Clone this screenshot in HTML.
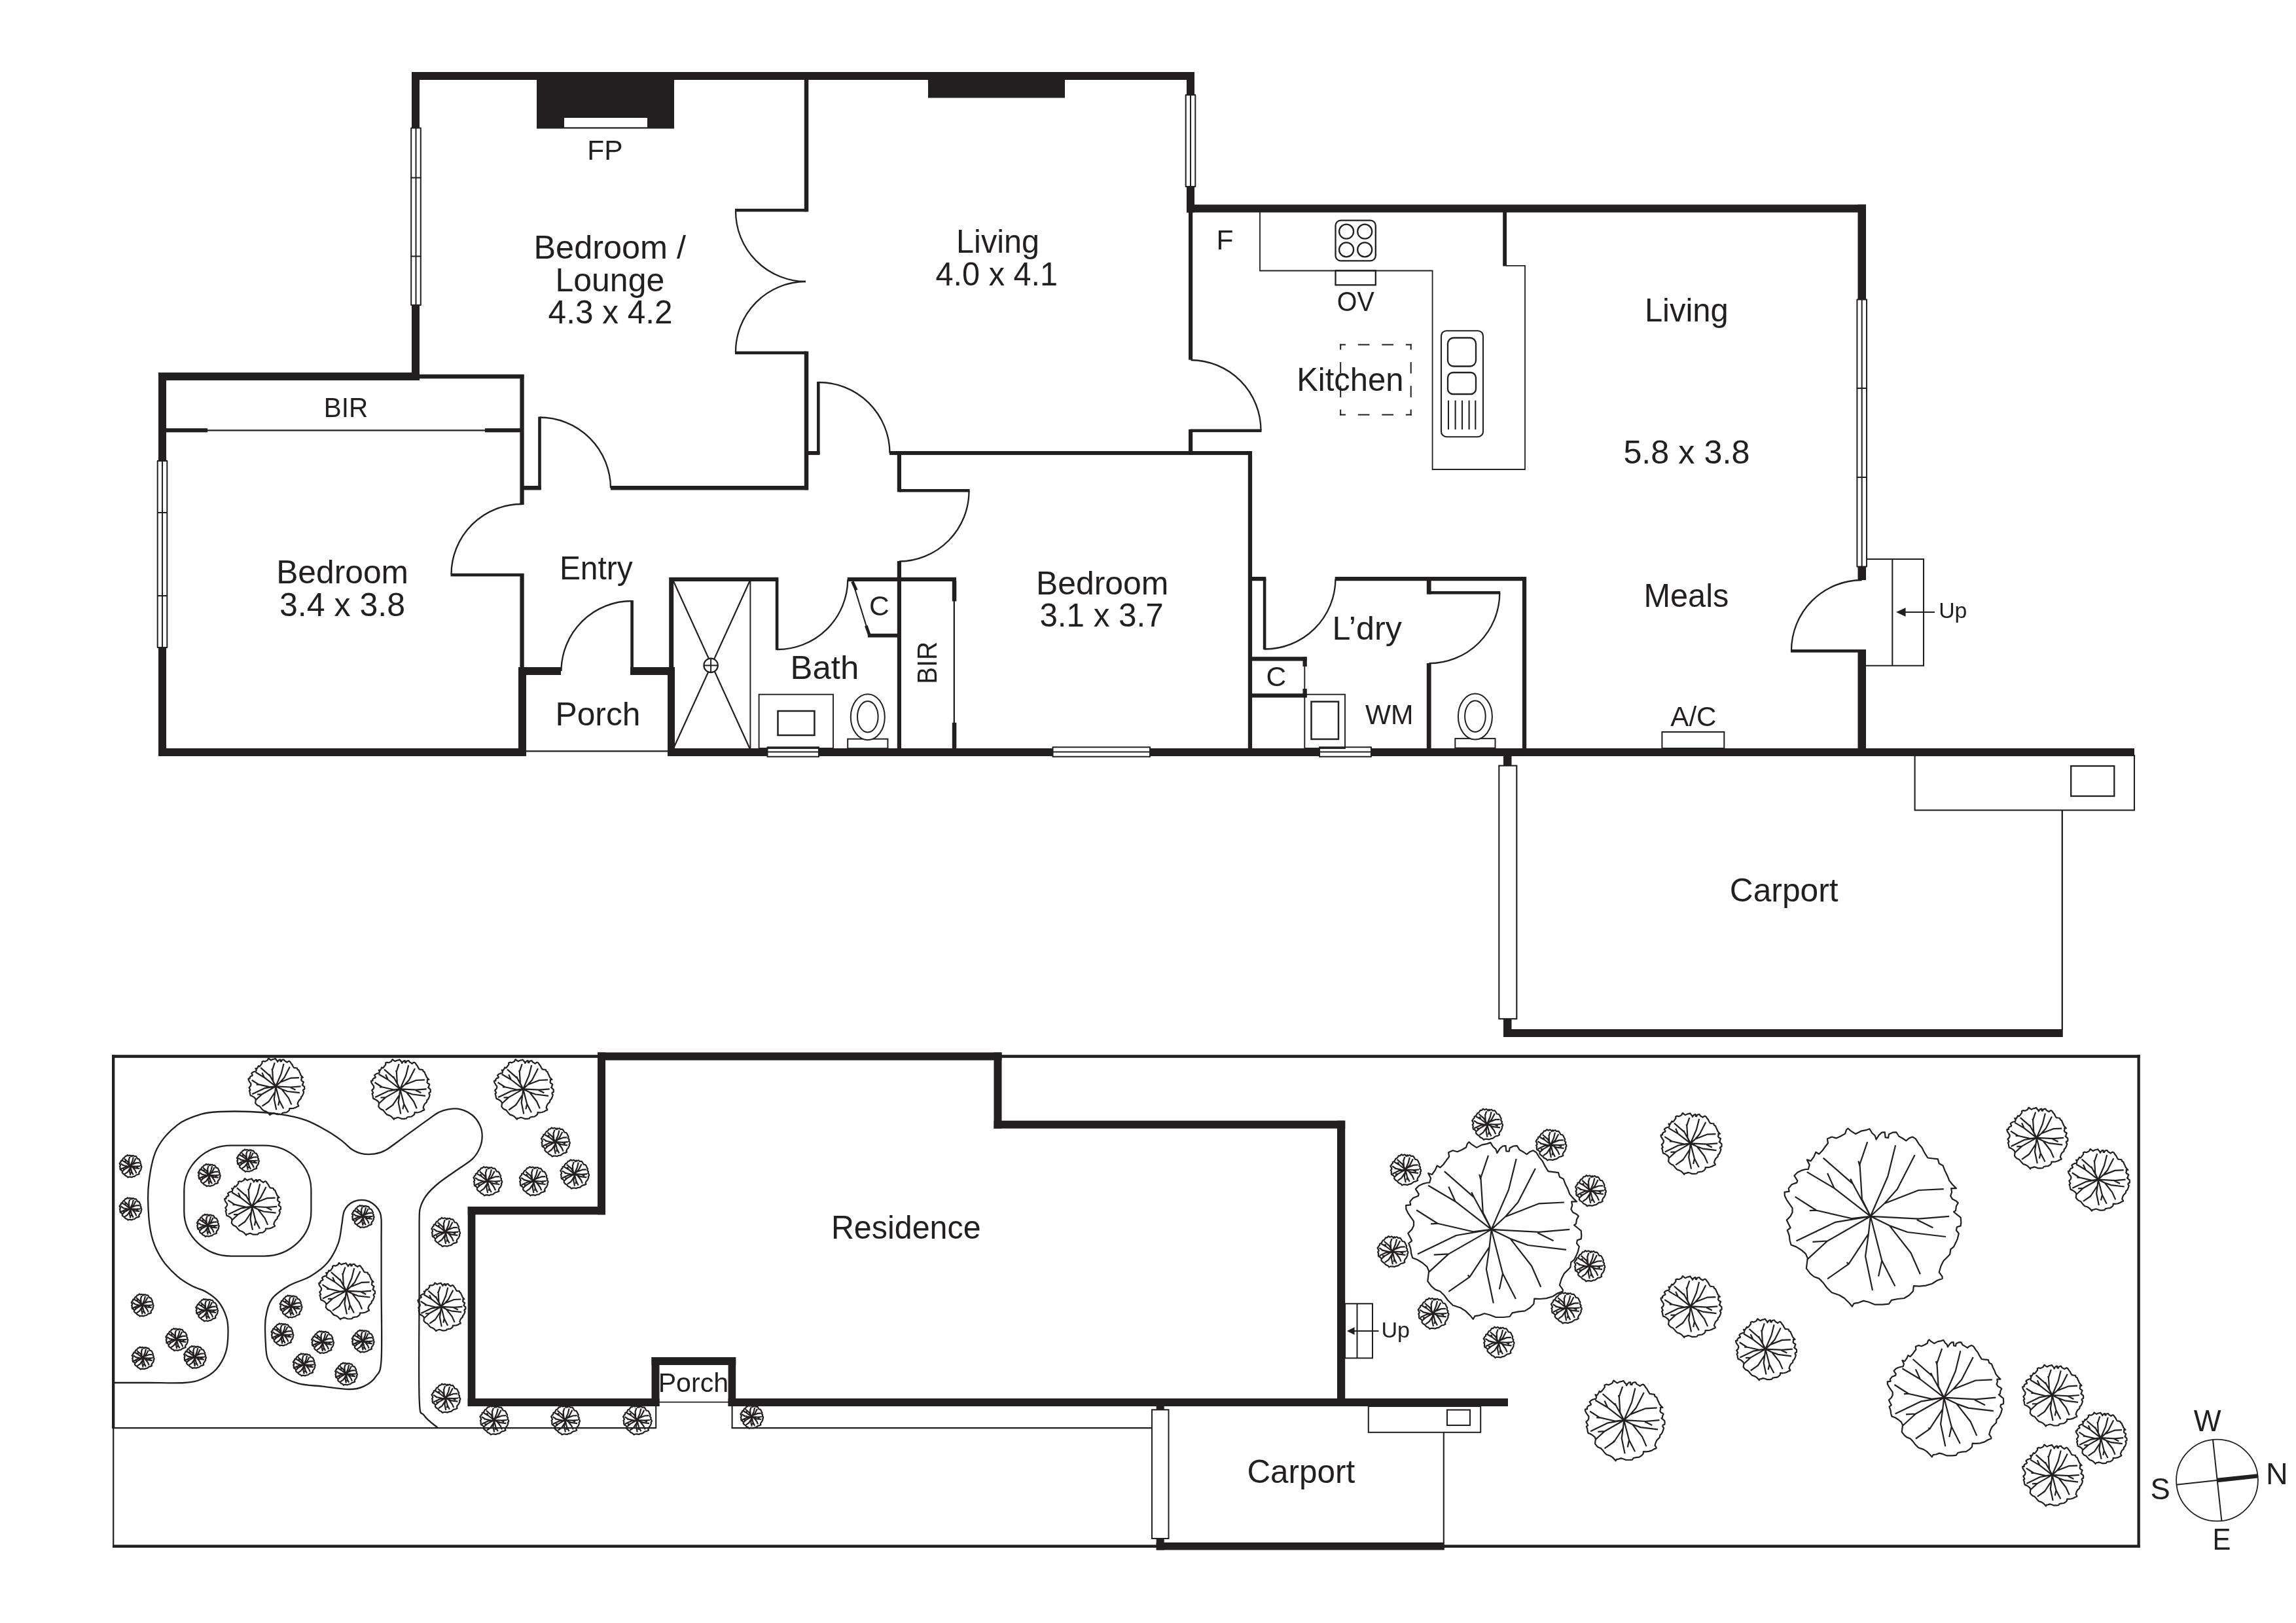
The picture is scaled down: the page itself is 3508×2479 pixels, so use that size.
<!DOCTYPE html>
<html><head><meta charset="utf-8"><title>Floor plan</title>
<style>
html,body{margin:0;padding:0;background:#fff;}
body{width:3508px;height:2479px;overflow:hidden;}
svg{display:block;}
text{font-family:"Liberation Sans",sans-serif;fill:#231f20;}
</style></head><body>
<svg width="3508" height="2479" viewBox="0 0 3508 2479">
<rect width="3508" height="2479" fill="#fff"/>
<rect x="629" y="110" width="1196" height="12" fill="#231f20"/>
<rect x="629" y="110" width="12" height="471" fill="#231f20"/>
<rect x="242" y="569" width="399" height="12" fill="#231f20"/>
<rect x="242" y="569" width="12" height="586" fill="#231f20"/>
<rect x="242" y="1143" width="562" height="12" fill="#231f20"/>
<rect x="792" y="1019" width="12" height="136" fill="#231f20"/>
<rect x="792" y="1019" width="65" height="12" fill="#231f20"/>
<rect x="963" y="1019" width="68" height="12" fill="#231f20"/>
<rect x="1020" y="1019" width="11" height="136" fill="#231f20"/>
<rect x="1020" y="1143" width="2241" height="12" fill="#231f20"/>
<rect x="1813" y="110" width="12" height="214.5" fill="#231f20"/>
<rect x="1813" y="312.5" width="1038" height="12" fill="#231f20"/>
<rect x="2838.5" y="312.5" width="12.5" height="573.5" fill="#231f20"/>
<rect x="2838.5" y="992" width="12.5" height="163" fill="#231f20"/>
<rect x="820" y="122" width="210" height="74.5" fill="#231f20"/>
<rect x="862" y="180" width="127" height="14.3" fill="#fff"/>
<rect x="1418" y="122" width="209" height="27.5" fill="#231f20"/>
<rect x="627.5" y="195.5" width="16" height="270.5" fill="#fff"/>
<line x1="628.2" y1="195.5" x2="628.2" y2="466" stroke="#231f20" stroke-width="2"/>
<line x1="635.5" y1="195.5" x2="635.5" y2="466" stroke="#231f20" stroke-width="2"/>
<line x1="642.8" y1="195.5" x2="642.8" y2="466" stroke="#231f20" stroke-width="2"/>
<line x1="627.5" y1="195.5" x2="643.5" y2="195.5" stroke="#231f20" stroke-width="2"/>
<line x1="627.5" y1="466" x2="643.5" y2="466" stroke="#231f20" stroke-width="2"/>
<line x1="627.5" y1="271.5" x2="643.5" y2="271.5" stroke="#231f20" stroke-width="2"/>
<line x1="627.5" y1="391.5" x2="643.5" y2="391.5" stroke="#231f20" stroke-width="2"/>
<rect x="240" y="704" width="16" height="285" fill="#fff"/>
<line x1="240.7" y1="704" x2="240.7" y2="989" stroke="#231f20" stroke-width="2"/>
<line x1="248" y1="704" x2="248" y2="989" stroke="#231f20" stroke-width="2"/>
<line x1="255.3" y1="704" x2="255.3" y2="989" stroke="#231f20" stroke-width="2"/>
<line x1="240" y1="704" x2="256" y2="704" stroke="#231f20" stroke-width="2"/>
<line x1="240" y1="989" x2="256" y2="989" stroke="#231f20" stroke-width="2"/>
<line x1="240" y1="783" x2="256" y2="783" stroke="#231f20" stroke-width="2"/>
<line x1="240" y1="910" x2="256" y2="910" stroke="#231f20" stroke-width="2"/>
<rect x="1811" y="145" width="16" height="140" fill="#fff"/>
<line x1="1811.7" y1="145" x2="1811.7" y2="285" stroke="#231f20" stroke-width="2"/>
<line x1="1819" y1="145" x2="1819" y2="285" stroke="#231f20" stroke-width="2"/>
<line x1="1826.3" y1="145" x2="1826.3" y2="285" stroke="#231f20" stroke-width="2"/>
<line x1="1811" y1="145" x2="1827" y2="145" stroke="#231f20" stroke-width="2"/>
<line x1="1811" y1="285" x2="1827" y2="285" stroke="#231f20" stroke-width="2"/>
<rect x="2836.7" y="457.5" width="16" height="408" fill="#fff"/>
<line x1="2837.4" y1="457.5" x2="2837.4" y2="865.5" stroke="#231f20" stroke-width="2"/>
<line x1="2844.7" y1="457.5" x2="2844.7" y2="865.5" stroke="#231f20" stroke-width="2"/>
<line x1="2852" y1="457.5" x2="2852" y2="865.5" stroke="#231f20" stroke-width="2"/>
<line x1="2836.7" y1="457.5" x2="2852.7" y2="457.5" stroke="#231f20" stroke-width="2"/>
<line x1="2836.7" y1="865.5" x2="2852.7" y2="865.5" stroke="#231f20" stroke-width="2"/>
<line x1="2836.7" y1="593" x2="2852.7" y2="593" stroke="#231f20" stroke-width="2"/>
<line x1="2836.7" y1="729" x2="2852.7" y2="729" stroke="#231f20" stroke-width="2"/>
<rect x="1172.5" y="1140.5" width="78.5" height="16" fill="#fff"/>
<line x1="1172.5" y1="1141.2" x2="1251" y2="1141.2" stroke="#231f20" stroke-width="2"/>
<line x1="1172.5" y1="1148.5" x2="1251" y2="1148.5" stroke="#231f20" stroke-width="2"/>
<line x1="1172.5" y1="1155.8" x2="1251" y2="1155.8" stroke="#231f20" stroke-width="2"/>
<line x1="1172.5" y1="1140.5" x2="1172.5" y2="1156.5" stroke="#231f20" stroke-width="2"/>
<line x1="1251" y1="1140.5" x2="1251" y2="1156.5" stroke="#231f20" stroke-width="2"/>
<rect x="1608.5" y="1140.5" width="148.5" height="16" fill="#fff"/>
<line x1="1608.5" y1="1141.2" x2="1757" y2="1141.2" stroke="#231f20" stroke-width="2"/>
<line x1="1608.5" y1="1148.5" x2="1757" y2="1148.5" stroke="#231f20" stroke-width="2"/>
<line x1="1608.5" y1="1155.8" x2="1757" y2="1155.8" stroke="#231f20" stroke-width="2"/>
<line x1="1608.5" y1="1140.5" x2="1608.5" y2="1156.5" stroke="#231f20" stroke-width="2"/>
<line x1="1757" y1="1140.5" x2="1757" y2="1156.5" stroke="#231f20" stroke-width="2"/>
<rect x="2016" y="1140.5" width="79" height="16" fill="#fff"/>
<line x1="2016" y1="1141.2" x2="2095" y2="1141.2" stroke="#231f20" stroke-width="2"/>
<line x1="2016" y1="1148.5" x2="2095" y2="1148.5" stroke="#231f20" stroke-width="2"/>
<line x1="2016" y1="1155.8" x2="2095" y2="1155.8" stroke="#231f20" stroke-width="2"/>
<line x1="2016" y1="1140.5" x2="2016" y2="1156.5" stroke="#231f20" stroke-width="2"/>
<line x1="2095" y1="1140.5" x2="2095" y2="1156.5" stroke="#231f20" stroke-width="2"/>
<line x1="804" y1="1147.4" x2="1020" y2="1147.4" stroke="#231f20" stroke-width="2.3"/>
<rect x="1228.8" y="122" width="6.5" height="201.4" fill="#231f20"/>
<rect x="1228.8" y="536.6" width="6.5" height="211.7" fill="#231f20"/>
<rect x="641" y="571.8" width="159.4" height="6.5" fill="#231f20"/>
<rect x="794.4" y="572" width="6.3" height="199" fill="#231f20"/>
<rect x="794.4" y="876" width="6.3" height="144" fill="#231f20"/>
<rect x="254" y="654.2" width="63" height="6.1" fill="#231f20"/>
<rect x="741" y="654.2" width="54" height="6.1" fill="#231f20"/>
<line x1="317" y1="657.3" x2="741" y2="657.3" stroke="#231f20" stroke-width="2.3"/>
<rect x="800" y="742" width="26.7" height="6.5" fill="#231f20"/>
<rect x="933" y="742" width="302" height="6.5" fill="#231f20"/>
<rect x="1235" y="689" width="17.5" height="5.9" fill="#231f20"/>
<rect x="1359" y="689" width="553.8" height="5.9" fill="#231f20"/>
<rect x="1370.8" y="689.2" width="6.2" height="62.3" fill="#231f20"/>
<rect x="1370.8" y="857" width="6.2" height="286" fill="#231f20"/>
<rect x="1906.8" y="689.2" width="6.3" height="453.8" fill="#231f20"/>
<rect x="1816" y="324" width="6.2" height="225.6" fill="#231f20"/>
<rect x="1816" y="655.8" width="6.2" height="38.8" fill="#231f20"/>
<rect x="1023" y="881.8" width="166.4" height="6.2" fill="#231f20"/>
<rect x="1294.7" y="881.8" width="166.3" height="6.2" fill="#231f20"/>
<rect x="1022.2" y="882" width="7" height="138" fill="#231f20"/>
<line x1="1146.4" y1="887" x2="1146.4" y2="1143" stroke="#231f20" stroke-width="2"/>
<rect x="1325.8" y="967.8" width="45.5" height="5.8" fill="#231f20"/>
<rect x="1454.8" y="887" width="6.5" height="31.4" fill="#231f20"/>
<rect x="1454.8" y="1103.8" width="6.5" height="39.2" fill="#231f20"/>
<line x1="1457.8" y1="918" x2="1457.8" y2="1104" stroke="#231f20" stroke-width="2.3"/>
<rect x="1912" y="881" width="22.3" height="6.2" fill="#231f20"/>
<rect x="2039.7" y="881" width="292.3" height="6.2" fill="#231f20"/>
<rect x="2179.8" y="881.3" width="6.8" height="26.4" fill="#231f20"/>
<rect x="2179.8" y="1013" width="6.8" height="130" fill="#231f20"/>
<rect x="2325.9" y="881.3" width="6.3" height="261.7" fill="#231f20"/>
<rect x="1912" y="1003.2" width="84.6" height="6.3" fill="#231f20"/>
<rect x="1912" y="1059.3" width="84.6" height="6.2" fill="#231f20"/>
<rect x="1990.5" y="1003.5" width="6.3" height="14.5" fill="#231f20"/>
<rect x="1990.5" y="1052" width="6.3" height="13.3" fill="#231f20"/>
<line x1="1993.3" y1="1018" x2="1993.3" y2="1052" stroke="#231f20" stroke-width="1.9"/>
<rect x="2296.2" y="324" width="5.8" height="82.5" fill="#231f20"/>
<rect x="1123" y="318.8" width="109" height="4.6" fill="#231f20"/>
<rect x="1123" y="536.6" width="109" height="4.6" fill="#231f20"/>
<path d="M1124 322 A107.5 107.5 0 0 0 1231 430" fill="none" stroke="#231f20" stroke-width="2.3"/>
<path d="M1124 538 A107.5 107.5 0 0 1 1231 430" fill="none" stroke="#231f20" stroke-width="2.3"/>
<rect x="688.5" y="875.8" width="111.5" height="4.6" fill="#231f20"/>
<path d="M689.5 877 A107.5 107.5 0 0 1 797.5 770" fill="none" stroke="#231f20" stroke-width="2.3"/>
<rect x="963.3" y="917" width="4.6" height="103" fill="#231f20"/>
<path d="M965.5 918 A107.5 107.5 0 0 0 857.5 1025" fill="none" stroke="#231f20" stroke-width="2.3"/>
<rect x="822.2" y="636.5" width="4.6" height="111.5" fill="#231f20"/>
<path d="M824.5 637.5 A108.5 108.5 0 0 1 933 745.5" fill="none" stroke="#231f20" stroke-width="2.3"/>
<rect x="1248" y="583" width="4.6" height="111" fill="#231f20"/>
<path d="M1250.3 584 A108.5 108.5 0 0 1 1359.5 692" fill="none" stroke="#231f20" stroke-width="2.3"/>
<rect x="1374" y="747" width="107.5" height="4.6" fill="#231f20"/>
<path d="M1480.5 749.5 A107.5 107.5 0 0 1 1374 857.5" fill="none" stroke="#231f20" stroke-width="2.3"/>
<rect x="1184.8" y="887" width="4.6" height="105.8" fill="#231f20"/>
<path d="M1187 992 A107.5 107.5 0 0 0 1295.3 885.3" fill="none" stroke="#231f20" stroke-width="2.3"/>
<rect x="1819" y="655.5" width="108.5" height="4.6" fill="#231f20"/>
<path d="M1926.5 657.5 A107.5 107.5 0 0 0 1819.5 550" fill="none" stroke="#231f20" stroke-width="2.3"/>
<rect x="1929.8" y="884" width="4.6" height="108.2" fill="#231f20"/>
<path d="M1932 991.5 A108 108 0 0 0 2040.5 884.5" fill="none" stroke="#231f20" stroke-width="2.3"/>
<rect x="2183" y="903" width="109.2" height="4.6" fill="#231f20"/>
<path d="M2291.3 905.5 A107.8 107.8 0 0 1 2183.4 1013.2" fill="none" stroke="#231f20" stroke-width="2.3"/>
<rect x="2736" y="992" width="109" height="4.6" fill="#231f20"/>
<path d="M2737 993.8 A107.8 107.8 0 0 1 2844.7 886" fill="none" stroke="#231f20" stroke-width="2.3"/>
<line x1="1302.8" y1="888.7" x2="1328.2" y2="971" stroke="#231f20" stroke-width="2.1"/>
<line x1="1302.3" y1="888.3" x2="1308.5" y2="901.4" stroke="#231f20" stroke-width="4.6"/>
<line x1="1323.3" y1="955.8" x2="1328.4" y2="970" stroke="#231f20" stroke-width="4.6"/>
<line x1="1029" y1="887.7" x2="1145.4" y2="1143" stroke="#231f20" stroke-width="2.2"/>
<line x1="1145.4" y1="887.7" x2="1029" y2="1143" stroke="#231f20" stroke-width="2.2"/>
<circle cx="1086.1" cy="1016.4" r="10.7" fill="#fff" stroke="#231f20" stroke-width="2.2"/>
<line x1="1076" y1="1016.4" x2="1096.2" y2="1016.4" stroke="#231f20" stroke-width="2"/>
<line x1="1086.1" y1="1006.3" x2="1086.1" y2="1026.5" stroke="#231f20" stroke-width="2"/>
<rect x="1159.6" y="1060.7" width="113.4" height="82.3" rx="0" fill="none" stroke="#231f20" stroke-width="1.9"/>
<rect x="1188.5" y="1086" width="55.9" height="37" rx="0" fill="none" stroke="#231f20" stroke-width="2.5"/>
<rect x="1295.2" y="1128.7" width="61.2" height="14.5" rx="0" fill="none" stroke="#231f20" stroke-width="2"/>
<ellipse cx="1325.8" cy="1095.2" rx="26" ry="35" fill="#fff" stroke="#231f20" stroke-width="2"/>
<ellipse cx="1325.8" cy="1094.7" rx="15.8" ry="23.8" fill="none" stroke="#231f20" stroke-width="2"/>
<rect x="2223.3" y="1128.1" width="61.2" height="14.5" rx="0" fill="none" stroke="#231f20" stroke-width="2"/>
<ellipse cx="2253.9" cy="1094.6" rx="26" ry="35" fill="#fff" stroke="#231f20" stroke-width="2"/>
<ellipse cx="2253.9" cy="1094.1" rx="15.8" ry="23.8" fill="none" stroke="#231f20" stroke-width="2"/>
<rect x="1993.3" y="1060.7" width="61.7" height="82.3" rx="0" fill="none" stroke="#231f20" stroke-width="1.9"/>
<rect x="2003.5" y="1071.7" width="41.5" height="57.3" rx="0" fill="none" stroke="#231f20" stroke-width="2.5"/>
<rect x="2539.4" y="1118" width="94.9" height="25" rx="0" fill="none" stroke="#231f20" stroke-width="2"/>
<path d="M1925 324 L1925 413.5 L2188.6 413.5 L2188.6 717 L2330 717 L2330 405.8 L2301 405.8" fill="none" stroke="#231f20" stroke-width="1.8"/>
<rect x="2040.5" y="336.7" width="61.3" height="61.7" rx="8" fill="none" stroke="#231f20" stroke-width="2.3"/>
<circle cx="2057.1" cy="353.7" r="11" fill="none" stroke="#231f20" stroke-width="2.3"/>
<circle cx="2057.1" cy="381.4" r="11" fill="none" stroke="#231f20" stroke-width="2.3"/>
<circle cx="2085.2" cy="353.7" r="11" fill="none" stroke="#231f20" stroke-width="2.3"/>
<circle cx="2085.2" cy="381.4" r="11" fill="none" stroke="#231f20" stroke-width="2.3"/>
<rect x="2040.5" y="413.3" width="61.3" height="22" rx="0" fill="none" stroke="#231f20" stroke-width="2.3"/>
<rect x="2202" y="505.2" width="64" height="162" rx="8" fill="none" stroke="#231f20" stroke-width="2.1"/>
<rect x="2212" y="516" width="43" height="43.5" rx="9" fill="none" stroke="#231f20" stroke-width="2.3"/>
<rect x="2212" y="569" width="43" height="33" rx="8" fill="none" stroke="#231f20" stroke-width="2.3"/>
<line x1="2213" y1="611.6" x2="2213" y2="656" stroke="#231f20" stroke-width="2.1"/>
<line x1="2223.6" y1="611.6" x2="2223.6" y2="656" stroke="#231f20" stroke-width="2.1"/>
<line x1="2234" y1="611.6" x2="2234" y2="656" stroke="#231f20" stroke-width="2.1"/>
<line x1="2244.6" y1="611.6" x2="2244.6" y2="656" stroke="#231f20" stroke-width="2.1"/>
<line x1="2254.3" y1="611.6" x2="2254.3" y2="656" stroke="#231f20" stroke-width="2.1"/>
<line x1="2047.2" y1="526.5" x2="2156.7" y2="526.5" stroke="#231f20" stroke-width="2" stroke-dasharray="17.7 18.8" stroke-dashoffset="8.9"/>
<line x1="2047.2" y1="633.5" x2="2156.7" y2="633.5" stroke="#231f20" stroke-width="2" stroke-dasharray="17.7 18.8" stroke-dashoffset="8.9"/>
<line x1="2048.2" y1="525.5" x2="2048.2" y2="634.5" stroke="#231f20" stroke-width="2" stroke-dasharray="17.6 18.7" stroke-dashoffset="8.8"/>
<line x1="2155.7" y1="525.5" x2="2155.7" y2="634.5" stroke="#231f20" stroke-width="2" stroke-dasharray="17.6 18.7" stroke-dashoffset="8.8"/>
<path d="M2851.5 854 L2939 854 L2939 1016.8 L2850.5 1016.8" fill="none" stroke="#231f20" stroke-width="2.1"/>
<line x1="2891.3" y1="854" x2="2891.3" y2="1016.8" stroke="#231f20" stroke-width="2.1"/>
<line x1="2911" y1="935" x2="2956" y2="935" stroke="#231f20" stroke-width="2.1"/>
<path d="M2897.2 935 L2911.5 928.2 L2911.5 941.8 Z" fill="#231f20" stroke="#231f20" stroke-width="0.1"/>
<rect x="2297" y="1154" width="12.5" height="16" fill="#231f20"/>
<rect x="2297" y="1556" width="12.5" height="28" fill="#231f20"/>
<rect x="2290.3" y="1169.5" width="27" height="386.7" rx="0" fill="#fff" stroke="#231f20" stroke-width="2.1"/>
<rect x="2297" y="1572" width="854.8" height="12" fill="#231f20"/>
<line x1="3150.8" y1="1237.5" x2="3150.8" y2="1573" stroke="#231f20" stroke-width="2.3"/>
<rect x="2925.6" y="1154" width="335.4" height="83.5" rx="0" fill="none" stroke="#231f20" stroke-width="2.1"/>
<rect x="3164.2" y="1170" width="66.1" height="46" rx="0" fill="none" stroke="#231f20" stroke-width="2.3"/>
<rect x="171" y="1611.2" width="3098.8" height="4.6" fill="#231f20"/>
<rect x="3265.5" y="1611.2" width="4.3" height="752.8" fill="#231f20"/>
<rect x="172" y="2359.5" width="3097.8" height="4.5" fill="#231f20"/>
<rect x="171" y="1611.2" width="4.3" height="570.8" fill="#231f20"/>
<line x1="173.2" y1="2182" x2="173.2" y2="2362" stroke="#231f20" stroke-width="2.2"/>
<line x1="172" y1="2181.2" x2="1002.2" y2="2181.2" stroke="#231f20" stroke-width="2.2"/>
<line x1="1002.2" y1="2147" x2="1002.2" y2="2181.9" stroke="#231f20" stroke-width="2.1"/>
<line x1="1118.6" y1="2147" x2="1118.6" y2="2181.9" stroke="#231f20" stroke-width="2.1"/>
<line x1="1117.7" y1="2181.2" x2="1760" y2="2181.2" stroke="#231f20" stroke-width="2.2"/>
<line x1="1007" y1="2141.6" x2="1113" y2="2141.6" stroke="#231f20" stroke-width="1.9"/>
<rect x="913" y="1607.5" width="617.5" height="12" fill="#231f20"/>
<rect x="913" y="1607.5" width="12" height="247.8" fill="#231f20"/>
<rect x="714.7" y="1843" width="210.3" height="12.3" fill="#231f20"/>
<rect x="714.7" y="1843" width="11.7" height="305" fill="#231f20"/>
<rect x="714.7" y="2136" width="292.8" height="12" fill="#231f20"/>
<rect x="995.5" y="2073" width="12" height="75" fill="#231f20"/>
<rect x="995.5" y="2073" width="128.7" height="12" fill="#231f20"/>
<rect x="1112.6" y="2073" width="11.6" height="75" fill="#231f20"/>
<rect x="1112.6" y="2136" width="1191.4" height="12" fill="#231f20"/>
<rect x="1518.5" y="1607.5" width="12" height="116.2" fill="#231f20"/>
<rect x="1518.5" y="1711.7" width="536.7" height="12" fill="#231f20"/>
<rect x="2043" y="1711.7" width="12.2" height="436.3" fill="#231f20"/>
<rect x="2055" y="1991.3" width="42" height="83.1" rx="0" fill="none" stroke="#231f20" stroke-width="2"/>
<line x1="2073.5" y1="1991.3" x2="2073.5" y2="2074.4" stroke="#231f20" stroke-width="2"/>
<line x1="2066" y1="2033" x2="2106.5" y2="2033" stroke="#231f20" stroke-width="2"/>
<path d="M2058 2033 L2069.5 2027.2 L2069.5 2038.8 Z" fill="#231f20" stroke="#231f20" stroke-width="0.1"/>
<rect x="1766.7" y="2147" width="12" height="7" fill="#231f20"/>
<rect x="1760" y="2153.3" width="25.5" height="196.7" rx="0" fill="#fff" stroke="#231f20" stroke-width="2"/>
<rect x="1766.7" y="2349.5" width="12" height="18" fill="#231f20"/>
<rect x="1766.7" y="2356" width="440.1" height="11.5" fill="#231f20"/>
<line x1="2205.8" y1="2187.8" x2="2205.8" y2="2357" stroke="#231f20" stroke-width="2.1"/>
<rect x="2090.8" y="2148" width="171.4" height="39.8" rx="0" fill="none" stroke="#231f20" stroke-width="2"/>
<rect x="2211" y="2153.5" width="35" height="23.5" rx="0" fill="none" stroke="#231f20" stroke-width="2.1"/>
<circle cx="3387.5" cy="2261" r="62.4" fill="none" stroke="#231f20" stroke-width="1.8"/>
<line x1="3325.7" y1="2267.7" x2="3449.7" y2="2254.3" stroke="#231f20" stroke-width="2"/>
<line x1="3381" y1="2199" x2="3394.4" y2="2323" stroke="#231f20" stroke-width="2"/>
<line x1="3387.7" y1="2261" x2="3449.7" y2="2254.3" stroke="#231f20" stroke-width="6.3"/>
<path d="M174 2112 C182.8 2112 208.6 2112 226.5 2112 C244.5 2112 268.4 2112.9 282 2112 C295.6 2111.1 299.9 2109.9 307.9 2106.5 C315.9 2103.1 323.9 2098.5 330.1 2091.7 C336.2 2084.9 341.8 2075 344.8 2065.8 C347.9 2056.6 348.4 2045.2 348.5 2036.2 C348.7 2027.3 348.4 2020.2 346 2012.2 C343.5 2004.2 338.9 1994.6 333.8 1988.2 C328.6 1981.7 322 1977.4 315.3 1973.4 C308.5 1969.4 300.5 1968.1 293.1 1964.1 C285.7 1960.1 278.3 1955.8 270.9 1949.4 C263.5 1942.9 254.9 1934.3 248.7 1925.3 C242.6 1916.4 237.5 1906.8 233.9 1895.7 C230.4 1884.7 228.4 1873.6 227.3 1858.8 C226.2 1844 225.2 1824.3 227.3 1807 C229.3 1789.8 232.2 1770.1 239.5 1755.3 C246.8 1740.5 259.5 1727.2 270.9 1718.3 C282.3 1709.4 296.8 1705.1 307.9 1701.7 C319 1698.3 325.1 1698.6 337.4 1698 C349.8 1697.4 367 1697.4 381.8 1698 C396.6 1698.6 412 1699.5 426.2 1701.7 C440.3 1703.8 454.5 1706.6 466.8 1710.9 C479.2 1715.2 490.9 1722.3 500.1 1727.5 C509.4 1732.8 516.1 1737.7 522.3 1742.3 C528.5 1747 532.2 1752 537.1 1755.3 C542 1758.5 546.3 1760.7 551.9 1761.9 C557.4 1763.2 564.2 1763.5 570.4 1762.7 C576.5 1761.9 580.2 1762 588.8 1757.1 C597.5 1752.2 611 1741.1 622.1 1733.1 C633.2 1725.1 647.4 1714.7 655.4 1709.1 C663.4 1703.4 665.2 1701.5 670.2 1699.1 C675.1 1696.6 679.4 1695.1 685 1694.3 C690.5 1693.5 697.3 1692.7 703.4 1694.3 C709.6 1695.8 717 1699.5 721.9 1703.5 C726.9 1707.5 730.5 1713.1 733 1718.3 C735.5 1723.5 736.7 1729.1 736.7 1734.9 C736.7 1740.8 735.5 1747.6 733 1753.4 C730.5 1759.3 728.1 1764.2 721.9 1770.1 C715.8 1775.9 704.7 1782.4 696 1788.5 C687.4 1794.7 677.6 1800.9 670.2 1807 C662.8 1813.2 656.3 1819.3 651.7 1825.5 C647.1 1831.7 644.3 1837.2 642.4 1844 C640.6 1850.8 640.9 1845.2 640.6 1866.2 C640.3 1887.1 640.6 1924.7 640.6 1969.7 C640.6 2014.7 639.4 2104 640.6 2136 C641.8 2168.1 643.4 2154.5 648 2161.9 C652.6 2169.3 664.9 2177.3 668.3 2180.4" fill="none" stroke="#231f20" stroke-width="2.3"/>
<rect x="281.3" y="1749.7" width="194.1" height="168.9" rx="72" ry="68" fill="none" stroke="#231f20" stroke-width="2.3"/>
<path d="M552.6 1832.9 C556.5 1832.9 560.5 1833.6 564.1 1835.1 C567.6 1836.7 571.3 1839.4 574 1842.1 C576.8 1844.9 578.9 1848 580.3 1851.4 C581.7 1854.8 582.2 1855.1 582.6 1862.5 C582.9 1869.9 582.6 1877.9 582.6 1895.7 C582.6 1913.6 582.6 1939.5 582.6 1969.7 C582.6 1999.9 584 2054.7 582.6 2076.9 C581.1 2099.1 578.5 2096 574 2102.8 C569.6 2109.6 562.3 2114.4 555.6 2117.6 C548.8 2120.8 543.9 2122 533.4 2122 C522.9 2122 505.7 2119 492.7 2117.6 C479.8 2116.1 466.8 2116.2 455.7 2113.1 C444.7 2110 433.9 2105.1 426.2 2099.1 C418.5 2093 412.9 2084.9 409.5 2076.9 C406.1 2068.9 406.5 2061.5 405.8 2051 C405.2 2040.5 404.3 2025.1 405.8 2014 C407.4 2003 409.2 1992.8 415.1 1984.5 C420.9 1976.2 431.1 1970 441 1964.1 C450.8 1958.3 464.4 1955.2 474.2 1949.4 C484.1 1943.5 493 1937.3 500.1 1929 C507.2 1920.7 513 1909.3 516.7 1899.4 C520.4 1889.6 521.1 1876.6 522.3 1869.9 C523.5 1863.1 523.2 1862.2 523.8 1858.8 C524.4 1855.4 524.7 1852.4 526 1849.5 C527.3 1846.6 529.1 1843.8 531.5 1841.4 C534 1839 537.3 1836.5 540.8 1835.1 C544.3 1833.7 548.7 1832.9 552.6 1832.9 Z" fill="none" stroke="#231f20" stroke-width="2.3"/>
<path d="M2244.5 1744.4 L2248.8 1748.2 L2256.1 1752.9 L2264.2 1748.6 L2271.9 1747.1 L2277.3 1745.1 L2281.2 1751.5 L2285.5 1755.4 L2287.4 1761.2 L2291.6 1754.4 L2296.1 1750.5 L2300.5 1750.2 L2301.3 1758.3 L2305.7 1758.6 L2306.7 1753.4 L2312.5 1750.5 L2317.9 1750.2 L2321.7 1756.3 L2327.9 1759.8 L2332.7 1763.1 L2337.6 1759.2 L2342.4 1757.3 L2347.2 1760.2 L2352 1767.9 L2356.9 1773.7 L2360.7 1781.4 L2365.5 1789.1 L2373.3 1790.1 L2381 1791.1 L2382.9 1797.8 L2388.7 1800.7 L2391.6 1808.4 L2395.4 1816.1 L2398.3 1823.9 L2403.2 1829.7 L2409 1835.4 L2401.2 1835.4 L2402.2 1841.2 L2400.3 1847 L2403.2 1851.8 L2409 1854.7 L2411.8 1857.6 L2409 1862.5 L2408 1869.2 L2405.1 1871.1 L2410.9 1876 L2415.7 1879.8 L2416.3 1887.5 L2415.7 1892.4 L2409.9 1894.3 L2409 1899.1 L2412.8 1904 L2410.9 1911.7 L2409 1916.5 L2405.1 1924.2 L2400.3 1928.1 L2399.3 1935.8 L2394.5 1940.6 L2389.7 1945.4 L2385.8 1953.2 L2382.9 1962.8 L2387.7 1969.6 L2387.7 1972.5 L2380 1975.3 L2372.3 1980.2 L2362.6 1983.1 L2353 1984 L2344.3 1983.6 L2343.3 1991.8 L2337.6 1997.5 L2329.8 2002.4 L2320.2 2003.3 L2310.5 2005.3 L2306.7 2011 L2297 2012 L2285.5 2012 L2275.8 2008.2 L2268.1 2006.2 L2260.4 2009.1 L2253.6 2010.1 L2250.7 2014.9 L2246.9 2010.1 L2239.1 2002.4 L2231.4 1997.5 L2219.8 1993.7 L2212.1 1986 L2206.3 1978.2 L2200.5 1972.5 L2192.8 1969.6 L2187 1964.7 L2181.3 1957 L2182.2 1949.3 L2183.2 1941.6 L2180.3 1934.8 L2173.5 1929 L2165.8 1924.2 L2158.1 1921.3 L2156.2 1914.6 L2155.2 1906.8 L2152.3 1899.1 L2157.1 1895.3 L2154.2 1889.5 L2151.3 1883.7 L2157.1 1877.9 L2160 1872.1 L2160 1865.4 L2155.2 1858.6 L2151.3 1852.8 L2148.4 1847 L2148.1 1841.2 L2155.2 1840.3 L2154.2 1835.4 L2159.1 1829.7 L2166.8 1826.8 L2167.7 1823.9 L2162.9 1816.1 L2167.7 1811.3 L2173.5 1808.4 L2180.3 1806.5 L2184.1 1806.5 L2186.1 1799.7 L2182.2 1792 L2188 1794 L2192.8 1787.2 L2195.7 1780.5 L2200.5 1783.3 L2205.4 1778.5 L2210.2 1771.8 L2214.1 1766.9 L2213.1 1760.2 L2219.8 1757.3 L2226.6 1759.2 L2233.4 1756.3 L2240.1 1752.5 L2242 1746.7 Z M2278.7 1877.9 L2265.8 1852 L2262.4 1799 L2274 1764.9 M2262.4 1801.6 L2260.3 1793.8 M2278.7 1877.9 L2305.1 1817.1 L2316.7 1770 M2278.7 1877.9 L2299.9 1858.5 L2319.3 1836.5 L2345.9 1784.8 M2299.9 1858.5 L2351.6 1838.3 L2389.9 1836.5 M2278.7 1877.9 L2351.6 1881.8 L2398.2 1877.9 M2349.1 1883.1 L2373.6 1895.2 M2278.7 1877.9 L2307.7 1892.1 L2334.8 1902 L2393 1908.9 M2307.7 1892.1 L2340 1933.5 L2354.2 1965.8 M2278.7 1877.9 L2296 1945.2 L2315.9 1983.9 M2296 1945.2 L2290.9 1969.2 M2278.7 1877.9 L2275.3 1907.6 L2270.9 1938.7 L2281.8 1990.4 M2275.3 1905.1 L2245.6 1950.3 L2213.3 1972.8 M2245.6 1950.3 L2242.5 1947.7 M2278.7 1877.9 L2213.3 1915.4 L2182.2 1943.9 M2213.3 1915.4 L2190.8 1916.7 M2278.7 1877.9 L2224.9 1887 L2165.9 1915.4 M2278.7 1877.9 L2250.8 1881.3 L2196.4 1868.8 L2186.1 1869.4 M2196.4 1868.8 L2164.1 1848.2 M2278.7 1877.9 L2223.6 1835.2 L2182.2 1810.7 M2223.6 1835.2 L2213.3 1812.5 M2278.7 1877.9 L2252.1 1828.8 L2206.8 1789.2 M2252.1 1828.8 L2248.2 1821" fill="none" stroke="#231f20" stroke-width="2.2" stroke-linejoin="round"/>
<path d="M2823.5 1723.5 L2827.8 1727.4 L2835.2 1732 L2843.3 1727.7 L2851.1 1726.2 L2856.5 1724.2 L2860.4 1730.7 L2864.7 1734.5 L2866.6 1740.4 L2870.9 1733.6 L2875.4 1729.7 L2879.8 1729.3 L2880.6 1737.4 L2885.1 1737.8 L2886 1732.6 L2891.9 1729.7 L2897.3 1729.3 L2901.2 1735.5 L2907.4 1739 L2912.3 1742.3 L2917.1 1738.4 L2922 1736.5 L2926.8 1739.4 L2931.7 1747.2 L2936.5 1753 L2940.4 1760.7 L2945.3 1768.5 L2953 1769.5 L2960.8 1770.4 L2962.7 1777.2 L2968.5 1780.2 L2971.5 1787.9 L2975.3 1795.7 L2978.3 1803.4 L2983.1 1809.3 L2988.9 1815.1 L2981.2 1815.1 L2982.1 1820.9 L2980.2 1826.7 L2983.1 1831.6 L2988.9 1834.5 L2991.8 1837.4 L2988.9 1842.3 L2988 1849.1 L2985 1851 L2990.9 1855.9 L2995.7 1859.7 L2996.3 1867.5 L2995.7 1872.4 L2989.9 1874.3 L2988.9 1879.2 L2992.8 1884 L2990.9 1891.8 L2988.9 1896.6 L2985 1904.4 L2980.2 1908.3 L2979.2 1916 L2974.4 1920.9 L2969.5 1925.7 L2965.6 1933.5 L2962.7 1943.2 L2967.6 1950 L2967.6 1952.9 L2959.8 1955.8 L2952 1960.7 L2942.3 1963.6 L2932.6 1964.6 L2923.9 1964.2 L2922.9 1972.3 L2917.1 1978.2 L2909.3 1983 L2899.6 1984 L2889.9 1985.9 L2886 1991.7 L2876.3 1992.7 L2864.7 1992.7 L2855 1988.8 L2847.2 1986.9 L2839.5 1989.8 L2832.7 1990.8 L2829.8 1995.6 L2825.9 1990.8 L2818.1 1983 L2810.3 1978.2 L2798.7 1974.3 L2790.9 1966.5 L2785.1 1958.7 L2779.3 1952.9 L2771.5 1950 L2765.7 1945.2 L2759.9 1937.4 L2760.8 1929.6 L2761.8 1921.9 L2758.9 1915.1 L2752.1 1909.2 L2744.3 1904.4 L2736.6 1901.5 L2734.6 1894.7 L2733.7 1886.9 L2730.8 1879.2 L2735.6 1875.3 L2732.7 1869.4 L2729.8 1863.6 L2735.6 1857.8 L2738.5 1852 L2738.5 1845.2 L2733.7 1838.4 L2729.8 1832.6 L2726.9 1826.7 L2726.5 1820.9 L2733.7 1819.9 L2732.7 1815.1 L2737.5 1809.3 L2745.3 1806.4 L2746.3 1803.4 L2741.4 1795.7 L2746.3 1790.8 L2752.1 1787.9 L2758.9 1786 L2762.8 1786 L2764.7 1779.2 L2760.8 1771.4 L2766.7 1773.4 L2771.5 1766.6 L2774.4 1759.8 L2779.3 1762.7 L2784.1 1757.8 L2789 1751 L2792.9 1746.2 L2791.9 1739.4 L2798.7 1736.5 L2805.5 1738.4 L2812.3 1735.5 L2819.1 1731.6 L2821 1725.8 Z M2857.9 1857.8 L2844.9 1831.8 L2841.5 1778.4 L2853.2 1744.1 M2841.5 1781 L2839.4 1773.2 M2857.9 1857.8 L2884.4 1796.7 L2896.1 1749.3 M2857.9 1857.8 L2879.2 1838.3 L2898.8 1816.2 L2925.6 1764.1 M2879.2 1838.3 L2931.3 1818 L2969.8 1816.2 M2857.9 1857.8 L2931.3 1861.7 L2978.1 1857.8 M2928.7 1863 L2953.4 1875.2 M2857.9 1857.8 L2887 1872.1 L2914.4 1882 L2972.9 1889 M2887 1872.1 L2919.6 1913.7 L2933.9 1946.3 M2857.9 1857.8 L2875.3 1925.5 L2895.4 1964.5 M2875.3 1925.5 L2870.1 1949.6 M2857.9 1857.8 L2854.5 1887.7 L2850.1 1918.9 L2861 1971 M2854.5 1885.1 L2824.6 1930.7 L2792.1 1953.3 M2824.6 1930.7 L2821.5 1928.1 M2857.9 1857.8 L2792.1 1895.5 L2760.8 1924.1 M2792.1 1895.5 L2769.4 1896.8 M2857.9 1857.8 L2803.8 1866.9 L2744.5 1895.5 M2857.9 1857.8 L2829.8 1861.2 L2775.2 1848.7 L2764.8 1849.2 M2775.2 1848.7 L2742.6 1827.9 M2857.9 1857.8 L2802.5 1814.9 L2760.8 1790.1 M2802.5 1814.9 L2792.1 1792 M2857.9 1857.8 L2831.1 1808.4 L2785.6 1768.6 M2831.1 1808.4 L2827.2 1800.6" fill="none" stroke="#231f20" stroke-width="2.2" stroke-linejoin="round"/>
<path d="M2947.6 2046.3 L2950.4 2048.9 L2955.3 2052 L2960.6 2049.1 L2965.7 2048.1 L2969.3 2046.8 L2971.9 2051.1 L2974.7 2053.6 L2975.9 2057.4 L2978.8 2053 L2981.7 2050.4 L2984.6 2050.2 L2985.1 2055.5 L2988.1 2055.8 L2988.7 2052.3 L2992.5 2050.4 L2996.1 2050.2 L2998.7 2054.3 L3002.8 2056.6 L3006 2058.7 L3009.1 2056.2 L3012.3 2054.9 L3015.5 2056.8 L3018.7 2061.9 L3021.9 2065.7 L3024.5 2070.9 L3027.7 2076 L3032.8 2076.6 L3037.9 2077.2 L3039.2 2081.7 L3043 2083.6 L3044.9 2088.7 L3047.5 2093.8 L3049.4 2098.9 L3052.6 2102.8 L3056.4 2106.6 L3051.3 2106.6 L3051.9 2110.4 L3050.6 2114.3 L3052.6 2117.5 L3056.4 2119.4 L3058.3 2121.3 L3056.4 2124.5 L3055.8 2129 L3053.8 2130.2 L3057.7 2133.4 L3060.9 2136 L3061.2 2141.1 L3060.9 2144.3 L3057 2145.6 L3056.4 2148.7 L3058.9 2151.9 L3057.7 2157 L3056.4 2160.2 L3053.8 2165.3 L3050.6 2167.9 L3050 2173 L3046.8 2176.2 L3043.6 2179.4 L3041.1 2184.5 L3039.2 2190.9 L3042.3 2195.4 L3042.3 2197.3 L3037.2 2199.2 L3032.1 2202.4 L3025.7 2204.3 L3019.4 2204.9 L3013.6 2204.7 L3013 2210 L3009.1 2213.9 L3004 2217.1 L2997.7 2217.7 L2991.3 2219 L2988.7 2222.8 L2982.3 2223.4 L2974.7 2223.4 L2968.3 2220.9 L2963.2 2219.6 L2958.1 2221.5 L2953.6 2222.2 L2951.7 2225.4 L2949.1 2222.2 L2944 2217.1 L2938.9 2213.9 L2931.3 2211.3 L2926.1 2206.2 L2922.3 2201.1 L2918.5 2197.3 L2913.4 2195.4 L2909.5 2192.2 L2905.7 2187.1 L2906.4 2181.9 L2907 2176.8 L2905.1 2172.4 L2900.6 2168.5 L2895.5 2165.3 L2890.4 2163.4 L2889.1 2159 L2888.5 2153.9 L2886.6 2148.7 L2889.8 2146.2 L2887.8 2142.4 L2885.9 2138.5 L2889.8 2134.7 L2891.7 2130.9 L2891.7 2126.4 L2888.5 2121.9 L2885.9 2118.1 L2884 2114.3 L2883.8 2110.4 L2888.5 2109.8 L2887.8 2106.6 L2891 2102.8 L2896.1 2100.9 L2896.8 2098.9 L2893.6 2093.8 L2896.8 2090.6 L2900.6 2088.7 L2905.1 2087.5 L2907.6 2087.5 L2908.9 2083 L2906.4 2077.9 L2910.2 2079.2 L2913.4 2074.7 L2915.3 2070.2 L2918.5 2072.1 L2921.7 2068.9 L2924.9 2064.5 L2927.4 2061.3 L2926.8 2056.8 L2931.3 2054.9 L2935.7 2056.2 L2940.2 2054.3 L2944.7 2051.7 L2945.9 2047.9 Z M2970.2 2134.7 L2961.6 2117.6 L2959.4 2082.5 L2967.1 2059.9 M2959.4 2084.2 L2958 2079.1 M2970.2 2134.7 L2987.7 2094.5 L2995.4 2063.3 M2970.2 2134.7 L2984.2 2121.9 L2997.1 2107.3 L3014.7 2073.1 M2984.2 2121.9 L3018.5 2108.5 L3043.8 2107.3 M2970.2 2134.7 L3018.5 2137.3 L3049.3 2134.7 M3016.8 2138.1 L3033 2146.2 M2970.2 2134.7 L2989.4 2144.1 L3007.3 2150.6 L3045.8 2155.2 M2989.4 2144.1 L3010.8 2171.5 L3020.2 2192.9 M2970.2 2134.7 L2981.7 2179.2 L2994.8 2204.9 M2981.7 2179.2 L2978.2 2195.1 M2970.2 2134.7 L2968 2154.4 L2965.1 2174.9 L2972.3 2209.2 M2968 2152.7 L2948.3 2182.6 L2926.9 2197.5 M2948.3 2182.6 L2946.2 2180.9 M2970.2 2134.7 L2926.9 2159.5 L2906.4 2178.3 M2926.9 2159.5 L2912 2160.4 M2970.2 2134.7 L2934.6 2140.7 L2895.6 2159.5 M2970.2 2134.7 L2951.7 2136.9 L2915.8 2128.7 L2908.9 2129.1 M2915.8 2128.7 L2894.4 2115 M2970.2 2134.7 L2933.7 2106.5 L2906.4 2090.2 M2933.7 2106.5 L2926.9 2091.4 M2970.2 2134.7 L2952.6 2102.2 L2922.6 2076 M2952.6 2102.2 L2950 2097" fill="none" stroke="#231f20" stroke-width="2.2" stroke-linejoin="round"/>
<path d="M2465.7 2108.6 L2467.6 2110.4 L2471 2112.5 L2474.6 2110.6 L2478.1 2109.9 L2480.6 2109 L2482.3 2111.9 L2484.3 2113.6 L2485.1 2116.3 L2487.1 2113.2 L2489.1 2111.4 L2491.1 2111.3 L2491.4 2114.9 L2493.5 2115.1 L2493.9 2112.8 L2496.5 2111.4 L2499 2111.3 L2500.7 2114.1 L2503.5 2115.6 L2505.7 2117.1 L2507.9 2115.4 L2510.1 2114.5 L2512.3 2115.8 L2514.5 2119.3 L2516.6 2121.9 L2518.4 2125.4 L2520.6 2128.9 L2524.1 2129.4 L2527.6 2129.8 L2528.5 2132.9 L2531.1 2134.2 L2532.4 2137.7 L2534.1 2141.2 L2535.5 2144.7 L2537.6 2147.3 L2540.3 2149.9 L2536.8 2149.9 L2537.2 2152.6 L2536.3 2155.2 L2537.6 2157.4 L2540.3 2158.7 L2541.6 2160 L2540.3 2162.2 L2539.8 2165.3 L2538.5 2166.1 L2541.1 2168.3 L2543.3 2170.1 L2543.6 2173.6 L2543.3 2175.8 L2540.7 2176.6 L2540.3 2178.8 L2542 2181 L2541.1 2184.5 L2540.3 2186.7 L2538.5 2190.2 L2536.3 2192 L2535.9 2195.5 L2533.7 2197.6 L2531.5 2199.8 L2529.8 2203.3 L2528.5 2207.7 L2530.6 2210.8 L2530.6 2212.1 L2527.1 2213.4 L2523.6 2215.6 L2519.3 2216.9 L2514.9 2217.3 L2511 2217.2 L2510.5 2220.8 L2507.9 2223.5 L2504.4 2225.6 L2500 2226.1 L2495.6 2227 L2493.9 2229.6 L2489.5 2230 L2484.3 2230 L2479.9 2228.3 L2476.4 2227.4 L2472.9 2228.7 L2469.8 2229.1 L2468.5 2231.3 L2466.8 2229.1 L2463.3 2225.6 L2459.8 2223.5 L2454.5 2221.7 L2451 2218.2 L2448.4 2214.7 L2445.8 2212.1 L2442.3 2210.8 L2439.6 2208.6 L2437 2205.1 L2437.4 2201.6 L2437.9 2198.1 L2436.6 2195 L2433.5 2192.4 L2430 2190.2 L2426.5 2188.9 L2425.6 2185.8 L2425.2 2182.3 L2423.9 2178.8 L2426.1 2177.1 L2424.8 2174.5 L2423.4 2171.8 L2426.1 2169.2 L2427.4 2166.6 L2427.4 2163.5 L2425.2 2160.4 L2423.4 2157.8 L2422.1 2155.2 L2422 2152.6 L2425.2 2152.1 L2424.8 2149.9 L2426.9 2147.3 L2430.4 2146 L2430.9 2144.7 L2428.7 2141.2 L2430.9 2139 L2433.5 2137.7 L2436.6 2136.8 L2438.3 2136.8 L2439.2 2133.8 L2437.4 2130.3 L2440.1 2131.1 L2442.3 2128.1 L2443.6 2125 L2445.8 2126.3 L2447.9 2124.1 L2450.1 2121.1 L2451.9 2118.9 L2451.4 2115.8 L2454.5 2114.5 L2457.6 2115.4 L2460.6 2114.1 L2463.7 2112.3 L2464.6 2109.7 Z M2481.2 2169.2 L2475.3 2157.5 L2473.8 2133.4 L2479.1 2117.9 M2473.8 2134.6 L2472.9 2131.1 M2481.2 2169.2 L2493.2 2141.6 L2498.4 2120.3 M2481.2 2169.2 L2490.8 2160.4 L2499.6 2150.4 L2511.7 2127 M2490.8 2160.4 L2514.3 2151.3 L2531.6 2150.4 M2481.2 2169.2 L2514.3 2171 L2535.4 2169.2 M2513.1 2171.5 L2524.3 2177.1 M2481.2 2169.2 L2494.3 2175.7 L2506.7 2180.1 L2533 2183.3 M2494.3 2175.7 L2509 2194.4 L2515.5 2209.1 M2481.2 2169.2 L2489.1 2199.7 L2498.1 2217.3 M2489.1 2199.7 L2486.7 2210.6 M2481.2 2169.2 L2479.7 2182.7 L2477.7 2196.8 L2482.6 2220.2 M2479.7 2181.5 L2466.2 2202 L2451.5 2212.3 M2466.2 2202 L2464.8 2200.9 M2481.2 2169.2 L2451.5 2186.2 L2437.4 2199.1 M2451.5 2186.2 L2441.3 2186.8 M2481.2 2169.2 L2456.8 2173.3 L2430.1 2186.2 M2481.2 2169.2 L2468.5 2170.7 L2443.9 2165.1 L2439.2 2165.3 M2443.9 2165.1 L2429.2 2155.7 M2481.2 2169.2 L2456.2 2149.8 L2437.4 2138.7 M2456.2 2149.8 L2451.5 2139.5 M2481.2 2169.2 L2469.1 2146.9 L2448.6 2129 M2469.1 2146.9 L2467.4 2143.4" fill="none" stroke="#231f20" stroke-width="2.2" stroke-linejoin="round"/>
<path d="M2571.1 1700.1 L2572.5 1701.5 L2575.1 1703.1 L2577.9 1701.6 L2580.6 1701.1 L2582.4 1700.4 L2583.8 1702.6 L2585.2 1703.9 L2585.9 1706 L2587.4 1703.6 L2588.9 1702.3 L2590.5 1702.1 L2590.7 1704.9 L2592.3 1705.1 L2592.6 1703.3 L2594.6 1702.3 L2596.5 1702.1 L2597.8 1704.3 L2599.9 1705.5 L2601.6 1706.6 L2603.3 1705.3 L2605 1704.6 L2606.6 1705.6 L2608.3 1708.3 L2610 1710.3 L2611.3 1713 L2613 1715.6 L2615.7 1716 L2618.3 1716.3 L2619 1718.7 L2621 1719.7 L2622 1722.3 L2623.3 1725 L2624.4 1727.7 L2626 1729.7 L2628 1731.7 L2625.4 1731.7 L2625.7 1733.7 L2625 1735.7 L2626 1737.4 L2628 1738.4 L2629 1739.4 L2628 1741.1 L2627.7 1743.4 L2626.7 1744.1 L2628.7 1745.7 L2630.4 1747.1 L2630.6 1749.7 L2630.4 1751.4 L2628.4 1752.1 L2628 1753.8 L2629.4 1755.4 L2628.7 1758.1 L2628 1759.8 L2626.7 1762.4 L2625 1763.8 L2624.7 1766.5 L2623 1768.1 L2621.3 1769.8 L2620 1772.5 L2619 1775.8 L2620.7 1778.2 L2620.7 1779.2 L2618 1780.2 L2615.3 1781.8 L2612 1782.8 L2608.6 1783.2 L2605.6 1783 L2605.3 1785.8 L2603.3 1787.9 L2600.6 1789.5 L2597.3 1789.9 L2593.9 1790.5 L2592.6 1792.5 L2589.3 1792.9 L2585.2 1792.9 L2581.9 1791.5 L2579.2 1790.9 L2576.5 1791.9 L2574.2 1792.2 L2573.2 1793.9 L2571.9 1792.2 L2569.2 1789.5 L2566.5 1787.9 L2562.5 1786.5 L2559.8 1783.8 L2557.8 1781.2 L2555.8 1779.2 L2553.1 1778.2 L2551.1 1776.5 L2549.1 1773.8 L2549.5 1771.1 L2549.8 1768.5 L2548.8 1766.1 L2546.5 1764.1 L2543.8 1762.4 L2541.1 1761.4 L2540.4 1759.1 L2540.1 1756.4 L2539.1 1753.8 L2540.8 1752.4 L2539.8 1750.4 L2538.8 1748.4 L2540.8 1746.4 L2541.8 1744.4 L2541.8 1742.1 L2540.1 1739.7 L2538.8 1737.7 L2537.8 1735.7 L2537.6 1733.7 L2540.1 1733.4 L2539.8 1731.7 L2541.4 1729.7 L2544.1 1728.7 L2544.5 1727.7 L2542.8 1725 L2544.5 1723.3 L2546.5 1722.3 L2548.8 1721.7 L2550.1 1721.7 L2550.8 1719.3 L2549.5 1716.6 L2551.5 1717.3 L2553.1 1715 L2554.2 1712.6 L2555.8 1713.6 L2557.5 1712 L2559.2 1709.6 L2560.5 1708 L2560.2 1705.6 L2562.5 1704.6 L2564.8 1705.3 L2567.2 1704.3 L2569.5 1702.9 L2570.2 1700.9 Z M2582.9 1746.4 L2578.4 1737.4 L2577.3 1719.1 L2581.3 1707.2 M2577.3 1720 L2576.5 1717.3 M2582.9 1746.4 L2592 1725.3 L2596.1 1709 M2582.9 1746.4 L2590.2 1739.7 L2597 1732.1 L2606.2 1714.1 M2590.2 1739.7 L2608.2 1732.7 L2621.4 1732.1 M2582.9 1746.4 L2608.2 1747.7 L2624.3 1746.4 M2607.3 1748.2 L2615.8 1752.4 M2582.9 1746.4 L2592.9 1751.3 L2602.3 1754.7 L2622.5 1757.2 M2592.9 1751.3 L2604.1 1765.7 L2609.1 1776.9 M2582.9 1746.4 L2588.9 1769.7 L2595.8 1783.1 M2588.9 1769.7 L2587.1 1778 M2582.9 1746.4 L2581.7 1756.7 L2580.2 1767.5 L2584 1785.4 M2581.7 1755.8 L2571.4 1771.5 L2560.2 1779.3 M2571.4 1771.5 L2570.4 1770.6 M2582.9 1746.4 L2560.2 1759.4 L2549.5 1769.3 M2560.2 1759.4 L2552.4 1759.8 M2582.9 1746.4 L2564.3 1749.5 L2543.8 1759.4 M2582.9 1746.4 L2573.2 1747.6 L2554.4 1743.3 L2550.8 1743.4 M2554.4 1743.3 L2543.2 1736.1 M2582.9 1746.4 L2563.8 1731.6 L2549.5 1723.1 M2563.8 1731.6 L2560.2 1723.7 M2582.9 1746.4 L2573.7 1729.4 L2558 1715.7 M2573.7 1729.4 L2572.3 1726.7" fill="none" stroke="#231f20" stroke-width="2.2" stroke-linejoin="round"/>
<path d="M2571.1 1949.1 L2572.5 1950.5 L2575.1 1952.1 L2577.9 1950.6 L2580.6 1950.1 L2582.4 1949.4 L2583.8 1951.6 L2585.2 1952.9 L2585.9 1955 L2587.4 1952.6 L2588.9 1951.3 L2590.5 1951.1 L2590.7 1953.9 L2592.3 1954.1 L2592.6 1952.3 L2594.6 1951.3 L2596.5 1951.1 L2597.8 1953.3 L2599.9 1954.5 L2601.6 1955.6 L2603.3 1954.3 L2605 1953.6 L2606.6 1954.6 L2608.3 1957.3 L2610 1959.3 L2611.3 1962 L2613 1964.6 L2615.7 1965 L2618.3 1965.3 L2619 1967.7 L2621 1968.7 L2622 1971.3 L2623.3 1974 L2624.4 1976.7 L2626 1978.7 L2628 1980.7 L2625.4 1980.7 L2625.7 1982.7 L2625 1984.7 L2626 1986.4 L2628 1987.4 L2629 1988.4 L2628 1990.1 L2627.7 1992.4 L2626.7 1993.1 L2628.7 1994.7 L2630.4 1996.1 L2630.6 1998.7 L2630.4 2000.4 L2628.4 2001.1 L2628 2002.8 L2629.4 2004.4 L2628.7 2007.1 L2628 2008.8 L2626.7 2011.4 L2625 2012.8 L2624.7 2015.5 L2623 2017.1 L2621.3 2018.8 L2620 2021.5 L2619 2024.8 L2620.7 2027.2 L2620.7 2028.2 L2618 2029.2 L2615.3 2030.8 L2612 2031.8 L2608.6 2032.2 L2605.6 2032 L2605.3 2034.8 L2603.3 2036.9 L2600.6 2038.5 L2597.3 2038.9 L2593.9 2039.5 L2592.6 2041.5 L2589.3 2041.9 L2585.2 2041.9 L2581.9 2040.5 L2579.2 2039.9 L2576.5 2040.9 L2574.2 2041.2 L2573.2 2042.9 L2571.9 2041.2 L2569.2 2038.5 L2566.5 2036.9 L2562.5 2035.5 L2559.8 2032.8 L2557.8 2030.2 L2555.8 2028.2 L2553.1 2027.2 L2551.1 2025.5 L2549.1 2022.8 L2549.5 2020.1 L2549.8 2017.5 L2548.8 2015.1 L2546.5 2013.1 L2543.8 2011.4 L2541.1 2010.4 L2540.4 2008.1 L2540.1 2005.4 L2539.1 2002.8 L2540.8 2001.4 L2539.8 1999.4 L2538.8 1997.4 L2540.8 1995.4 L2541.8 1993.4 L2541.8 1991.1 L2540.1 1988.7 L2538.8 1986.7 L2537.8 1984.7 L2537.6 1982.7 L2540.1 1982.4 L2539.8 1980.7 L2541.4 1978.7 L2544.1 1977.7 L2544.5 1976.7 L2542.8 1974 L2544.5 1972.3 L2546.5 1971.3 L2548.8 1970.7 L2550.1 1970.7 L2550.8 1968.3 L2549.5 1965.6 L2551.5 1966.3 L2553.1 1964 L2554.2 1961.6 L2555.8 1962.6 L2557.5 1961 L2559.2 1958.6 L2560.5 1957 L2560.2 1954.6 L2562.5 1953.6 L2564.8 1954.3 L2567.2 1953.3 L2569.5 1951.9 L2570.2 1949.9 Z M2582.9 1995.4 L2578.4 1986.4 L2577.3 1968.1 L2581.3 1956.2 M2577.3 1969 L2576.5 1966.3 M2582.9 1995.4 L2592 1974.3 L2596.1 1958 M2582.9 1995.4 L2590.2 1988.7 L2597 1981.1 L2606.2 1963.1 M2590.2 1988.7 L2608.2 1981.7 L2621.4 1981.1 M2582.9 1995.4 L2608.2 1996.7 L2624.3 1995.4 M2607.3 1997.2 L2615.8 2001.4 M2582.9 1995.4 L2592.9 2000.3 L2602.3 2003.7 L2622.5 2006.2 M2592.9 2000.3 L2604.1 2014.7 L2609.1 2025.9 M2582.9 1995.4 L2588.9 2018.7 L2595.8 2032.1 M2588.9 2018.7 L2587.1 2027 M2582.9 1995.4 L2581.7 2005.7 L2580.2 2016.5 L2584 2034.4 M2581.7 2004.8 L2571.4 2020.5 L2560.2 2028.3 M2571.4 2020.5 L2570.4 2019.6 M2582.9 1995.4 L2560.2 2008.4 L2549.5 2018.3 M2560.2 2008.4 L2552.4 2008.8 M2582.9 1995.4 L2564.3 1998.5 L2543.8 2008.4 M2582.9 1995.4 L2573.2 1996.6 L2554.4 1992.3 L2550.8 1992.4 M2554.4 1992.3 L2543.2 1985.1 M2582.9 1995.4 L2563.8 1980.6 L2549.5 1972.1 M2563.8 1980.6 L2560.2 1972.7 M2582.9 1995.4 L2573.7 1978.4 L2558 1964.7 M2573.7 1978.4 L2572.3 1975.7" fill="none" stroke="#231f20" stroke-width="2.2" stroke-linejoin="round"/>
<path d="M2685.6 2014.3 L2687 2015.7 L2689.6 2017.3 L2692.4 2015.8 L2695.1 2015.3 L2696.9 2014.6 L2698.3 2016.8 L2699.7 2018.1 L2700.4 2020.2 L2701.9 2017.8 L2703.4 2016.5 L2705 2016.3 L2705.2 2019.1 L2706.8 2019.3 L2707.1 2017.5 L2709.1 2016.5 L2711 2016.3 L2712.3 2018.5 L2714.4 2019.7 L2716.1 2020.8 L2717.8 2019.5 L2719.5 2018.8 L2721.1 2019.8 L2722.8 2022.5 L2724.5 2024.5 L2725.8 2027.2 L2727.5 2029.8 L2730.2 2030.2 L2732.8 2030.5 L2733.5 2032.9 L2735.5 2033.9 L2736.5 2036.5 L2737.8 2039.2 L2738.9 2041.9 L2740.5 2043.9 L2742.5 2045.9 L2739.9 2045.9 L2740.2 2047.9 L2739.5 2049.9 L2740.5 2051.6 L2742.5 2052.6 L2743.5 2053.6 L2742.5 2055.3 L2742.2 2057.6 L2741.2 2058.3 L2743.2 2059.9 L2744.9 2061.3 L2745.1 2063.9 L2744.9 2065.6 L2742.9 2066.3 L2742.5 2068 L2743.9 2069.6 L2743.2 2072.3 L2742.5 2074 L2741.2 2076.6 L2739.5 2078 L2739.2 2080.7 L2737.5 2082.3 L2735.8 2084 L2734.5 2086.7 L2733.5 2090 L2735.2 2092.4 L2735.2 2093.4 L2732.5 2094.4 L2729.8 2096 L2726.5 2097 L2723.1 2097.4 L2720.1 2097.2 L2719.8 2100 L2717.8 2102.1 L2715.1 2103.7 L2711.8 2104.1 L2708.4 2104.7 L2707.1 2106.7 L2703.8 2107.1 L2699.7 2107.1 L2696.4 2105.7 L2693.7 2105.1 L2691 2106.1 L2688.7 2106.4 L2687.7 2108.1 L2686.4 2106.4 L2683.7 2103.7 L2681 2102.1 L2677 2100.7 L2674.3 2098 L2672.3 2095.4 L2670.3 2093.4 L2667.6 2092.4 L2665.6 2090.7 L2663.6 2088 L2664 2085.3 L2664.3 2082.7 L2663.3 2080.3 L2661 2078.3 L2658.3 2076.6 L2655.6 2075.6 L2654.9 2073.3 L2654.6 2070.6 L2653.6 2068 L2655.3 2066.6 L2654.3 2064.6 L2653.3 2062.6 L2655.3 2060.6 L2656.3 2058.6 L2656.3 2056.3 L2654.6 2053.9 L2653.3 2051.9 L2652.3 2049.9 L2652.1 2047.9 L2654.6 2047.6 L2654.3 2045.9 L2655.9 2043.9 L2658.6 2042.9 L2659 2041.9 L2657.3 2039.2 L2659 2037.5 L2661 2036.5 L2663.3 2035.9 L2664.6 2035.9 L2665.3 2033.5 L2664 2030.8 L2666 2031.5 L2667.6 2029.2 L2668.7 2026.8 L2670.3 2027.8 L2672 2026.2 L2673.7 2023.8 L2675 2022.2 L2674.7 2019.8 L2677 2018.8 L2679.3 2019.5 L2681.7 2018.5 L2684 2017.1 L2684.7 2015.1 Z M2697.4 2060.6 L2692.9 2051.6 L2691.8 2033.3 L2695.8 2021.4 M2691.8 2034.2 L2691 2031.5 M2697.4 2060.6 L2706.5 2039.5 L2710.6 2023.2 M2697.4 2060.6 L2704.7 2053.9 L2711.5 2046.3 L2720.7 2028.3 M2704.7 2053.9 L2722.7 2046.9 L2735.9 2046.3 M2697.4 2060.6 L2722.7 2061.9 L2738.8 2060.6 M2721.8 2062.4 L2730.3 2066.6 M2697.4 2060.6 L2707.4 2065.5 L2716.8 2068.9 L2737 2071.4 M2707.4 2065.5 L2718.6 2079.9 L2723.6 2091.1 M2697.4 2060.6 L2703.4 2083.9 L2710.3 2097.3 M2703.4 2083.9 L2701.6 2092.2 M2697.4 2060.6 L2696.2 2070.9 L2694.7 2081.7 L2698.5 2099.6 M2696.2 2070 L2685.9 2085.7 L2674.7 2093.5 M2685.9 2085.7 L2684.9 2084.8 M2697.4 2060.6 L2674.7 2073.6 L2664 2083.5 M2674.7 2073.6 L2666.9 2074 M2697.4 2060.6 L2678.8 2063.7 L2658.3 2073.6 M2697.4 2060.6 L2687.7 2061.8 L2668.9 2057.5 L2665.3 2057.6 M2668.9 2057.5 L2657.7 2050.3 M2697.4 2060.6 L2678.3 2045.8 L2664 2037.3 M2678.3 2045.8 L2674.7 2037.9 M2697.4 2060.6 L2688.2 2043.6 L2672.5 2029.9 M2688.2 2043.6 L2686.8 2040.9" fill="none" stroke="#231f20" stroke-width="2.2" stroke-linejoin="round"/>
<path d="M3099.9 1691.6 L3101.3 1693 L3103.9 1694.6 L3106.7 1693.1 L3109.4 1692.6 L3111.2 1691.9 L3112.6 1694.1 L3114 1695.4 L3114.7 1697.5 L3116.2 1695.1 L3117.7 1693.8 L3119.3 1693.6 L3119.5 1696.4 L3121.1 1696.6 L3121.4 1694.8 L3123.4 1693.8 L3125.3 1693.6 L3126.6 1695.8 L3128.7 1697 L3130.4 1698.1 L3132.1 1696.8 L3133.8 1696.1 L3135.4 1697.1 L3137.1 1699.8 L3138.8 1701.8 L3140.1 1704.5 L3141.8 1707.1 L3144.5 1707.5 L3147.1 1707.8 L3147.8 1710.2 L3149.8 1711.2 L3150.8 1713.8 L3152.1 1716.5 L3153.2 1719.2 L3154.8 1721.2 L3156.8 1723.2 L3154.2 1723.2 L3154.5 1725.2 L3153.8 1727.2 L3154.8 1728.9 L3156.8 1729.9 L3157.8 1730.9 L3156.8 1732.6 L3156.5 1734.9 L3155.5 1735.6 L3157.5 1737.2 L3159.2 1738.6 L3159.4 1741.2 L3159.2 1742.9 L3157.2 1743.6 L3156.8 1745.3 L3158.2 1746.9 L3157.5 1749.6 L3156.8 1751.3 L3155.5 1753.9 L3153.8 1755.3 L3153.5 1758 L3151.8 1759.6 L3150.1 1761.3 L3148.8 1764 L3147.8 1767.3 L3149.5 1769.7 L3149.5 1770.7 L3146.8 1771.7 L3144.1 1773.3 L3140.8 1774.3 L3137.4 1774.7 L3134.4 1774.5 L3134.1 1777.3 L3132.1 1779.4 L3129.4 1781 L3126.1 1781.4 L3122.7 1782 L3121.4 1784 L3118.1 1784.4 L3114 1784.4 L3110.7 1783 L3108 1782.4 L3105.3 1783.4 L3103 1783.7 L3102 1785.4 L3100.7 1783.7 L3098 1781 L3095.3 1779.4 L3091.3 1778 L3088.6 1775.3 L3086.6 1772.7 L3084.6 1770.7 L3081.9 1769.7 L3079.9 1768 L3077.9 1765.3 L3078.3 1762.6 L3078.6 1760 L3077.6 1757.6 L3075.3 1755.6 L3072.6 1753.9 L3069.9 1752.9 L3069.2 1750.6 L3068.9 1747.9 L3067.9 1745.3 L3069.6 1743.9 L3068.6 1741.9 L3067.6 1739.9 L3069.6 1737.9 L3070.6 1735.9 L3070.6 1733.6 L3068.9 1731.2 L3067.6 1729.2 L3066.6 1727.2 L3066.4 1725.2 L3068.9 1724.9 L3068.6 1723.2 L3070.2 1721.2 L3072.9 1720.2 L3073.3 1719.2 L3071.6 1716.5 L3073.3 1714.8 L3075.3 1713.8 L3077.6 1713.2 L3078.9 1713.2 L3079.6 1710.8 L3078.3 1708.1 L3080.3 1708.8 L3081.9 1706.5 L3083 1704.1 L3084.6 1705.1 L3086.3 1703.5 L3088 1701.1 L3089.3 1699.5 L3089 1697.1 L3091.3 1696.1 L3093.6 1696.8 L3096 1695.8 L3098.3 1694.4 L3099 1692.4 Z M3111.7 1737.9 L3107.2 1728.9 L3106.1 1710.6 L3110.1 1698.7 M3106.1 1711.5 L3105.3 1708.8 M3111.7 1737.9 L3120.8 1716.8 L3124.9 1700.5 M3111.7 1737.9 L3119 1731.2 L3125.8 1723.6 L3135 1705.6 M3119 1731.2 L3137 1724.2 L3150.2 1723.6 M3111.7 1737.9 L3137 1739.2 L3153.1 1737.9 M3136.1 1739.7 L3144.6 1743.9 M3111.7 1737.9 L3121.7 1742.8 L3131.1 1746.2 L3151.3 1748.7 M3121.7 1742.8 L3132.9 1757.2 L3137.9 1768.4 M3111.7 1737.9 L3117.7 1761.2 L3124.6 1774.6 M3117.7 1761.2 L3115.9 1769.5 M3111.7 1737.9 L3110.5 1748.2 L3109 1759 L3112.8 1776.9 M3110.5 1747.3 L3100.2 1763 L3089 1770.8 M3100.2 1763 L3099.2 1762.1 M3111.7 1737.9 L3089 1750.9 L3078.3 1760.8 M3089 1750.9 L3081.2 1751.3 M3111.7 1737.9 L3093.1 1741 L3072.6 1750.9 M3111.7 1737.9 L3102 1739.1 L3083.2 1734.8 L3079.6 1734.9 M3083.2 1734.8 L3072 1727.6 M3111.7 1737.9 L3092.6 1723.1 L3078.3 1714.6 M3092.6 1723.1 L3089 1715.2 M3111.7 1737.9 L3102.5 1720.9 L3086.8 1707.2 M3102.5 1720.9 L3101.1 1718.2" fill="none" stroke="#231f20" stroke-width="2.2" stroke-linejoin="round"/>
<path d="M3193.9 1755 L3195.3 1756.4 L3197.9 1758 L3200.7 1756.5 L3203.4 1756 L3205.3 1755.3 L3206.7 1757.5 L3208.2 1758.9 L3208.8 1760.9 L3210.3 1758.5 L3211.9 1757.2 L3213.4 1757.1 L3213.7 1759.9 L3215.2 1760 L3215.6 1758.2 L3217.6 1757.2 L3219.5 1757.1 L3220.8 1759.2 L3223 1760.4 L3224.7 1761.6 L3226.4 1760.2 L3228.1 1759.6 L3229.7 1760.6 L3231.4 1763.3 L3233.1 1765.3 L3234.5 1768 L3236.1 1770.7 L3238.8 1771 L3241.5 1771.4 L3242.2 1773.7 L3244.2 1774.7 L3245.2 1777.4 L3246.6 1780.1 L3247.6 1782.8 L3249.3 1784.8 L3251.3 1786.9 L3248.6 1786.9 L3249 1788.9 L3248.3 1790.9 L3249.3 1792.6 L3251.3 1793.6 L3252.3 1794.6 L3251.3 1796.3 L3251 1798.7 L3250 1799.3 L3252 1801 L3253.7 1802.4 L3253.9 1805.1 L3253.7 1806.8 L3251.7 1807.4 L3251.3 1809.1 L3252.7 1810.8 L3252 1813.5 L3251.3 1815.2 L3250 1817.9 L3248.3 1819.2 L3247.9 1821.9 L3246.3 1823.6 L3244.6 1825.3 L3243.2 1828 L3242.2 1831.4 L3243.9 1833.7 L3243.9 1834.7 L3241.2 1835.8 L3238.5 1837.4 L3235.1 1838.5 L3231.8 1838.8 L3228.7 1838.7 L3228.4 1841.5 L3226.4 1843.5 L3223.7 1845.2 L3220.3 1845.5 L3216.9 1846.2 L3215.6 1848.2 L3212.2 1848.6 L3208.2 1848.6 L3204.8 1847.2 L3202.1 1846.5 L3199.4 1847.6 L3197 1847.9 L3196 1849.6 L3194.7 1847.9 L3192 1845.2 L3189.3 1843.5 L3185.2 1842.2 L3182.5 1839.5 L3180.5 1836.8 L3178.5 1834.7 L3175.8 1833.7 L3173.8 1832 L3171.7 1829.3 L3172.1 1826.6 L3172.4 1824 L3171.4 1821.6 L3169 1819.6 L3166.4 1817.9 L3163.7 1816.9 L3163 1814.5 L3162.6 1811.8 L3161.6 1809.1 L3163.3 1807.8 L3162.3 1805.7 L3161.3 1803.7 L3163.3 1801.7 L3164.3 1799.7 L3164.3 1797.3 L3162.6 1795 L3161.3 1792.9 L3160.3 1790.9 L3160.1 1788.9 L3162.6 1788.6 L3162.3 1786.9 L3164 1784.8 L3166.7 1783.8 L3167 1782.8 L3165.3 1780.1 L3167 1778.4 L3169 1777.4 L3171.4 1776.8 L3172.8 1776.8 L3173.4 1774.4 L3172.1 1771.7 L3174.1 1772.4 L3175.8 1770 L3176.8 1767.6 L3178.5 1768.7 L3180.2 1767 L3181.9 1764.6 L3183.2 1762.9 L3182.9 1760.6 L3185.2 1759.6 L3187.6 1760.2 L3190 1759.2 L3192.3 1757.9 L3193 1755.8 Z M3205.8 1801.7 L3201.3 1792.7 L3200.1 1774.1 L3204.2 1762.2 M3200.1 1775 L3199.4 1772.3 M3205.8 1801.7 L3215 1780.5 L3219.1 1764 M3205.8 1801.7 L3213.2 1794.9 L3220 1787.2 L3229.3 1769.2 M3213.2 1794.9 L3231.3 1787.9 L3244.7 1787.2 M3205.8 1801.7 L3231.3 1803.1 L3247.6 1801.7 M3230.4 1803.5 L3239 1807.8 M3205.8 1801.7 L3215.9 1806.7 L3225.4 1810.1 L3245.8 1812.5 M3215.9 1806.7 L3227.2 1821.1 L3232.2 1832.4 M3205.8 1801.7 L3211.9 1825.2 L3218.8 1838.8 M3211.9 1825.2 L3210 1833.6 M3205.8 1801.7 L3204.6 1812.1 L3203.1 1822.9 L3206.9 1841 M3204.6 1811.2 L3194.2 1827 L3182.9 1834.9 M3194.2 1827 L3193.1 1826.1 M3205.8 1801.7 L3182.9 1814.8 L3172.1 1824.7 M3182.9 1814.8 L3175.1 1815.3 M3205.8 1801.7 L3187 1804.9 L3166.4 1814.8 M3205.8 1801.7 L3196 1802.9 L3177.1 1798.5 L3173.4 1798.7 M3177.1 1798.5 L3165.8 1791.3 M3205.8 1801.7 L3186.5 1786.8 L3172.1 1778.2 M3186.5 1786.8 L3182.9 1778.8 M3205.8 1801.7 L3196.5 1784.5 L3180.7 1770.7 M3196.5 1784.5 L3195.1 1781.8" fill="none" stroke="#231f20" stroke-width="2.2" stroke-linejoin="round"/>
<path d="M3123.7 2084.7 L3125.1 2086.1 L3127.7 2087.7 L3130.5 2086.2 L3133.2 2085.7 L3135 2085 L3136.4 2087.2 L3137.8 2088.5 L3138.5 2090.6 L3140 2088.2 L3141.5 2086.9 L3143.1 2086.7 L3143.3 2089.5 L3144.9 2089.7 L3145.2 2087.9 L3147.2 2086.9 L3149.1 2086.7 L3150.4 2088.9 L3152.5 2090.1 L3154.2 2091.2 L3155.9 2089.9 L3157.6 2089.2 L3159.2 2090.2 L3160.9 2092.9 L3162.6 2094.9 L3163.9 2097.6 L3165.6 2100.2 L3168.3 2100.6 L3170.9 2100.9 L3171.6 2103.3 L3173.6 2104.3 L3174.6 2106.9 L3175.9 2109.6 L3177 2112.3 L3178.6 2114.3 L3180.6 2116.3 L3178 2116.3 L3178.3 2118.3 L3177.6 2120.3 L3178.6 2122 L3180.6 2123 L3181.6 2124 L3180.6 2125.7 L3180.3 2128 L3179.3 2128.7 L3181.3 2130.3 L3183 2131.7 L3183.2 2134.3 L3183 2136 L3181 2136.7 L3180.6 2138.4 L3182 2140 L3181.3 2142.7 L3180.6 2144.4 L3179.3 2147 L3177.6 2148.4 L3177.3 2151.1 L3175.6 2152.7 L3173.9 2154.4 L3172.6 2157.1 L3171.6 2160.4 L3173.3 2162.8 L3173.3 2163.8 L3170.6 2164.8 L3167.9 2166.4 L3164.6 2167.4 L3161.2 2167.8 L3158.2 2167.6 L3157.9 2170.4 L3155.9 2172.5 L3153.2 2174.1 L3149.9 2174.5 L3146.5 2175.1 L3145.2 2177.1 L3141.9 2177.5 L3137.8 2177.5 L3134.5 2176.1 L3131.8 2175.5 L3129.1 2176.5 L3126.8 2176.8 L3125.8 2178.5 L3124.5 2176.8 L3121.8 2174.1 L3119.1 2172.5 L3115.1 2171.1 L3112.4 2168.4 L3110.4 2165.8 L3108.4 2163.8 L3105.7 2162.8 L3103.7 2161.1 L3101.7 2158.4 L3102.1 2155.7 L3102.4 2153.1 L3101.4 2150.7 L3099.1 2148.7 L3096.4 2147 L3093.7 2146 L3093 2143.7 L3092.7 2141 L3091.7 2138.4 L3093.4 2137 L3092.4 2135 L3091.4 2133 L3093.4 2131 L3094.4 2129 L3094.4 2126.7 L3092.7 2124.3 L3091.4 2122.3 L3090.4 2120.3 L3090.2 2118.3 L3092.7 2118 L3092.4 2116.3 L3094 2114.3 L3096.7 2113.3 L3097.1 2112.3 L3095.4 2109.6 L3097.1 2107.9 L3099.1 2106.9 L3101.4 2106.3 L3102.7 2106.3 L3103.4 2103.9 L3102.1 2101.2 L3104.1 2101.9 L3105.7 2099.6 L3106.8 2097.2 L3108.4 2098.2 L3110.1 2096.6 L3111.8 2094.2 L3113.1 2092.6 L3112.8 2090.2 L3115.1 2089.2 L3117.4 2089.9 L3119.8 2088.9 L3122.1 2087.5 L3122.8 2085.5 Z M3135.5 2131 L3131 2122 L3129.9 2103.7 L3133.9 2091.8 M3129.9 2104.6 L3129.1 2101.9 M3135.5 2131 L3144.6 2109.9 L3148.7 2093.6 M3135.5 2131 L3142.8 2124.3 L3149.6 2116.7 L3158.8 2098.7 M3142.8 2124.3 L3160.8 2117.3 L3174 2116.7 M3135.5 2131 L3160.8 2132.3 L3176.9 2131 M3159.9 2132.8 L3168.4 2137 M3135.5 2131 L3145.5 2135.9 L3154.9 2139.3 L3175.1 2141.8 M3145.5 2135.9 L3156.7 2150.3 L3161.7 2161.5 M3135.5 2131 L3141.5 2154.3 L3148.4 2167.7 M3141.5 2154.3 L3139.7 2162.6 M3135.5 2131 L3134.3 2141.3 L3132.8 2152.1 L3136.6 2170 M3134.3 2140.4 L3124 2156.1 L3112.8 2163.9 M3124 2156.1 L3123 2155.2 M3135.5 2131 L3112.8 2144 L3102.1 2153.9 M3112.8 2144 L3105 2144.4 M3135.5 2131 L3116.9 2134.1 L3096.4 2144 M3135.5 2131 L3125.8 2132.2 L3107 2127.9 L3103.4 2128 M3107 2127.9 L3095.8 2120.7 M3135.5 2131 L3116.4 2116.2 L3102.1 2107.7 M3116.4 2116.2 L3112.8 2108.3 M3135.5 2131 L3126.3 2114 L3110.6 2100.3 M3126.3 2114 L3124.9 2111.3" fill="none" stroke="#231f20" stroke-width="2.2" stroke-linejoin="round"/>
<path d="M3199.8 2157.5 L3201 2158.6 L3203.2 2159.9 L3205.5 2158.7 L3207.7 2158.3 L3209.3 2157.7 L3210.4 2159.6 L3211.7 2160.7 L3212.2 2162.3 L3213.4 2160.4 L3214.7 2159.3 L3216 2159.2 L3216.2 2161.5 L3217.5 2161.6 L3217.8 2160.1 L3219.5 2159.3 L3221.1 2159.2 L3222.2 2160.9 L3224 2162 L3225.4 2162.9 L3226.8 2161.8 L3228.2 2161.2 L3229.6 2162.1 L3231 2164.3 L3232.4 2166 L3233.5 2168.2 L3234.9 2170.5 L3237.1 2170.7 L3239.4 2171 L3239.9 2173 L3241.6 2173.8 L3242.4 2176.1 L3243.6 2178.3 L3244.4 2180.5 L3245.8 2182.2 L3247.5 2183.9 L3245.2 2183.9 L3245.5 2185.6 L3245 2187.2 L3245.8 2188.6 L3247.5 2189.5 L3248.3 2190.3 L3247.5 2191.7 L3247.2 2193.7 L3246.3 2194.2 L3248 2195.6 L3249.4 2196.8 L3249.6 2199 L3249.4 2200.4 L3247.7 2201 L3247.5 2202.4 L3248.6 2203.8 L3248 2206 L3247.5 2207.4 L3246.3 2209.6 L3245 2210.7 L3244.7 2213 L3243.3 2214.4 L3241.9 2215.8 L3240.8 2218 L3239.9 2220.8 L3241.3 2222.8 L3241.3 2223.6 L3239.1 2224.5 L3236.8 2225.9 L3234 2226.7 L3231.2 2227 L3228.7 2226.9 L3228.4 2229.2 L3226.8 2230.9 L3224.5 2232.3 L3221.7 2232.6 L3218.9 2233.1 L3217.8 2234.8 L3215 2235.1 L3211.7 2235.1 L3208.9 2234 L3206.6 2233.4 L3204.4 2234.2 L3202.4 2234.5 L3201.6 2235.9 L3200.5 2234.5 L3198.2 2232.3 L3196 2230.9 L3192.6 2229.8 L3190.4 2227.5 L3188.7 2225.3 L3187 2223.6 L3184.8 2222.8 L3183.1 2221.4 L3181.4 2219.1 L3181.7 2216.9 L3182 2214.7 L3181.2 2212.7 L3179.2 2211 L3177 2209.6 L3174.7 2208.8 L3174.2 2206.8 L3173.9 2204.6 L3173.1 2202.4 L3174.4 2201.2 L3173.6 2199.6 L3172.8 2197.9 L3174.4 2196.2 L3175.3 2194.5 L3175.3 2192.6 L3173.9 2190.6 L3172.8 2188.9 L3171.9 2187.2 L3171.8 2185.6 L3173.9 2185.3 L3173.6 2183.9 L3175 2182.2 L3177.2 2181.4 L3177.5 2180.5 L3176.1 2178.3 L3177.5 2176.9 L3179.2 2176.1 L3181.2 2175.5 L3182.3 2175.5 L3182.8 2173.5 L3181.7 2171.3 L3183.4 2171.9 L3184.8 2169.9 L3185.6 2167.9 L3187 2168.8 L3188.4 2167.4 L3189.8 2165.4 L3191 2164 L3190.7 2162.1 L3192.6 2161.2 L3194.6 2161.8 L3196.6 2160.9 L3198.5 2159.8 L3199.1 2158.2 Z M3209.7 2196.2 L3205.9 2188.7 L3205 2173.3 L3208.3 2163.4 M3205 2174.1 L3204.4 2171.8 M3209.7 2196.2 L3217.3 2178.6 L3220.7 2164.9 M3209.7 2196.2 L3215.8 2190.6 L3221.5 2184.2 L3229.2 2169.2 M3215.8 2190.6 L3230.8 2184.7 L3241.9 2184.2 M3209.7 2196.2 L3230.8 2197.3 L3244.3 2196.2 M3230.1 2197.7 L3237.2 2201.2 M3209.7 2196.2 L3218.1 2200.3 L3226 2203.2 L3242.8 2205.2 M3218.1 2200.3 L3227.5 2212.3 L3231.6 2221.7 M3209.7 2196.2 L3214.7 2215.7 L3220.5 2226.9 M3214.7 2215.7 L3213.2 2222.7 M3209.7 2196.2 L3208.7 2204.8 L3207.4 2213.8 L3210.6 2228.8 M3208.7 2204.1 L3200.1 2217.2 L3190.7 2223.7 M3200.1 2217.2 L3199.2 2216.4 M3209.7 2196.2 L3190.7 2207.1 L3181.7 2215.3 M3190.7 2207.1 L3184.2 2207.4 M3209.7 2196.2 L3194.1 2198.8 L3177 2207.1 M3209.7 2196.2 L3201.6 2197.2 L3185.8 2193.6 L3182.8 2193.7 M3185.8 2193.6 L3176.5 2187.6 M3209.7 2196.2 L3193.7 2183.8 L3181.7 2176.7 M3193.7 2183.8 L3190.7 2177.2 M3209.7 2196.2 L3202 2181.9 L3188.8 2170.5 M3202 2181.9 L3200.8 2179.7" fill="none" stroke="#231f20" stroke-width="2.2" stroke-linejoin="round"/>
<path d="M3123.7 2206.6 L3125.1 2208 L3127.7 2209.6 L3130.5 2208.1 L3133.2 2207.6 L3135 2206.9 L3136.4 2209.1 L3137.8 2210.4 L3138.5 2212.5 L3140 2210.1 L3141.5 2208.8 L3143.1 2208.6 L3143.3 2211.4 L3144.9 2211.6 L3145.2 2209.8 L3147.2 2208.8 L3149.1 2208.6 L3150.4 2210.8 L3152.5 2212 L3154.2 2213.1 L3155.9 2211.8 L3157.6 2211.1 L3159.2 2212.1 L3160.9 2214.8 L3162.6 2216.8 L3163.9 2219.5 L3165.6 2222.1 L3168.3 2222.5 L3170.9 2222.8 L3171.6 2225.2 L3173.6 2226.2 L3174.6 2228.8 L3175.9 2231.5 L3177 2234.2 L3178.6 2236.2 L3180.6 2238.2 L3178 2238.2 L3178.3 2240.2 L3177.6 2242.2 L3178.6 2243.9 L3180.6 2244.9 L3181.6 2245.9 L3180.6 2247.6 L3180.3 2249.9 L3179.3 2250.6 L3181.3 2252.2 L3183 2253.6 L3183.2 2256.2 L3183 2257.9 L3181 2258.6 L3180.6 2260.3 L3182 2261.9 L3181.3 2264.6 L3180.6 2266.3 L3179.3 2268.9 L3177.6 2270.3 L3177.3 2273 L3175.6 2274.6 L3173.9 2276.3 L3172.6 2279 L3171.6 2282.3 L3173.3 2284.7 L3173.3 2285.7 L3170.6 2286.7 L3167.9 2288.3 L3164.6 2289.3 L3161.2 2289.7 L3158.2 2289.5 L3157.9 2292.3 L3155.9 2294.4 L3153.2 2296 L3149.9 2296.4 L3146.5 2297 L3145.2 2299 L3141.9 2299.4 L3137.8 2299.4 L3134.5 2298 L3131.8 2297.4 L3129.1 2298.4 L3126.8 2298.7 L3125.8 2300.4 L3124.5 2298.7 L3121.8 2296 L3119.1 2294.4 L3115.1 2293 L3112.4 2290.3 L3110.4 2287.7 L3108.4 2285.7 L3105.7 2284.7 L3103.7 2283 L3101.7 2280.3 L3102.1 2277.6 L3102.4 2275 L3101.4 2272.6 L3099.1 2270.6 L3096.4 2268.9 L3093.7 2267.9 L3093 2265.6 L3092.7 2262.9 L3091.7 2260.3 L3093.4 2258.9 L3092.4 2256.9 L3091.4 2254.9 L3093.4 2252.9 L3094.4 2250.9 L3094.4 2248.6 L3092.7 2246.2 L3091.4 2244.2 L3090.4 2242.2 L3090.2 2240.2 L3092.7 2239.9 L3092.4 2238.2 L3094 2236.2 L3096.7 2235.2 L3097.1 2234.2 L3095.4 2231.5 L3097.1 2229.8 L3099.1 2228.8 L3101.4 2228.2 L3102.7 2228.2 L3103.4 2225.8 L3102.1 2223.1 L3104.1 2223.8 L3105.7 2221.5 L3106.8 2219.1 L3108.4 2220.1 L3110.1 2218.5 L3111.8 2216.1 L3113.1 2214.5 L3112.8 2212.1 L3115.1 2211.1 L3117.4 2211.8 L3119.8 2210.8 L3122.1 2209.4 L3122.8 2207.4 Z M3135.5 2252.9 L3131 2243.9 L3129.9 2225.6 L3133.9 2213.7 M3129.9 2226.5 L3129.1 2223.8 M3135.5 2252.9 L3144.6 2231.8 L3148.7 2215.5 M3135.5 2252.9 L3142.8 2246.2 L3149.6 2238.6 L3158.8 2220.6 M3142.8 2246.2 L3160.8 2239.2 L3174 2238.6 M3135.5 2252.9 L3160.8 2254.2 L3176.9 2252.9 M3159.9 2254.7 L3168.4 2258.9 M3135.5 2252.9 L3145.5 2257.8 L3154.9 2261.2 L3175.1 2263.7 M3145.5 2257.8 L3156.7 2272.2 L3161.7 2283.4 M3135.5 2252.9 L3141.5 2276.2 L3148.4 2289.6 M3141.5 2276.2 L3139.7 2284.5 M3135.5 2252.9 L3134.3 2263.2 L3132.8 2274 L3136.6 2291.9 M3134.3 2262.3 L3124 2278 L3112.8 2285.8 M3124 2278 L3123 2277.1 M3135.5 2252.9 L3112.8 2265.9 L3102.1 2275.8 M3112.8 2265.9 L3105 2266.3 M3135.5 2252.9 L3116.9 2256 L3096.4 2265.9 M3135.5 2252.9 L3125.8 2254.1 L3107 2249.8 L3103.4 2249.9 M3107 2249.8 L3095.8 2242.6 M3135.5 2252.9 L3116.4 2238.1 L3102.1 2229.6 M3116.4 2238.1 L3112.8 2230.2 M3135.5 2252.9 L3126.3 2235.9 L3110.6 2222.2 M3126.3 2235.9 L3124.9 2233.2" fill="none" stroke="#231f20" stroke-width="2.2" stroke-linejoin="round"/>
<path d="M2266 1693.7 L2268.1 1695.2 L2270.8 1694.1 L2272.4 1694.9 L2273.5 1696.6 L2275 1694.7 L2275.9 1696.1 L2276.9 1695.3 L2278.8 1694.7 L2280.6 1696.4 L2282.3 1696.3 L2284 1696.4 L2285.7 1698.8 L2287.2 1701.5 L2289.9 1701.8 L2291.2 1703.5 L2292.4 1706.2 L2293.7 1708.6 L2293.4 1709.6 L2293.2 1711.6 L2294.8 1713 L2294.8 1714.3 L2294.1 1715.8 L2295.9 1717.3 L2295.9 1719.5 L2294.8 1720.7 L2295.1 1722.9 L2294.1 1725.1 L2293.1 1727.1 L2291.4 1728.8 L2290.2 1731.8 L2291 1733.5 L2288.4 1734.9 L2285 1735.5 L2283.3 1736.9 L2280.9 1738.7 L2277.6 1739.3 L2275.2 1740.4 L2271.5 1739.8 L2268.8 1739.9 L2267.1 1740.9 L2265.1 1738.7 L2261.7 1737.2 L2259.4 1734.5 L2257 1733 L2255 1730.8 L2255.3 1728.1 L2253.6 1725.9 L2250.9 1724.6 L2250.4 1722.1 L2250.8 1720 L2249.7 1718 L2251.3 1716 L2250.4 1713.6 L2249.2 1711.6 L2250.4 1710.4 L2251.1 1708.6 L2252.6 1707.6 L2252.6 1705.4 L2254.8 1704.5 L2255.8 1703.3 L2256.2 1702.3 L2257.5 1700 L2259.2 1699.6 L2260.7 1697.6 L2261.7 1695.9 L2264.1 1695.8 L2265.6 1694.1 Z M2272 1717 L2269.7 1712.5 L2269.2 1703.2 L2271.2 1697.3 M2269.2 1703.7 L2268.8 1702.3 M2272 1717 L2276.6 1706.4 L2278.6 1698.2 M2272 1717 L2275.7 1713.6 L2279.1 1709.8 L2283.8 1700.7 M2275.7 1713.6 L2284.7 1710.1 L2291.4 1709.8 M2272 1717 L2284.7 1717.7 L2292.9 1717 M2284.3 1717.9 L2288.6 1720 M2272 1717 L2277.1 1719.5 L2281.8 1721.2 L2292 1722.4 M2277.1 1719.5 L2282.7 1726.7 L2285.2 1732.4 M2272 1717 L2275 1728.8 L2278.5 1735.5 M2275 1728.8 L2274.1 1733 M2272 1717 L2271.4 1722.2 L2270.6 1727.6 L2272.5 1736.7 M2271.4 1721.7 L2266.2 1729.7 L2260.6 1733.6 M2266.2 1729.7 L2265.7 1729.2 M2272 1717 L2260.6 1723.6 L2255.1 1728.5 M2260.6 1723.6 L2256.6 1723.8 M2272 1717 L2262.6 1718.6 L2252.3 1723.6 M2272 1717 L2267.1 1717.6 L2257.6 1715.4 L2255.8 1715.5 M2257.6 1715.4 L2252 1711.8 M2272 1717 L2262.4 1709.5 L2255.1 1705.2 M2262.4 1709.5 L2260.6 1705.6 M2272 1717 L2267.3 1708.4 L2259.4 1701.5 M2267.3 1708.4 L2266.7 1707.1" fill="none" stroke="#231f20" stroke-width="2.2" stroke-linejoin="round"/>
<path d="M2363.4 1725.2 L2365.5 1726.7 L2368.2 1725.6 L2369.8 1726.4 L2370.9 1728.1 L2372.4 1726.2 L2373.3 1727.6 L2374.3 1726.8 L2376.2 1726.2 L2378 1727.9 L2379.7 1727.8 L2381.4 1727.9 L2383.1 1730.3 L2384.6 1733 L2387.3 1733.3 L2388.6 1735 L2389.8 1737.7 L2391.1 1740.1 L2390.8 1741.1 L2390.6 1743.1 L2392.2 1744.5 L2392.2 1745.8 L2391.5 1747.3 L2393.3 1748.8 L2393.3 1751 L2392.2 1752.2 L2392.5 1754.4 L2391.5 1756.6 L2390.5 1758.6 L2388.8 1760.3 L2387.6 1763.3 L2388.4 1765 L2385.8 1766.4 L2382.4 1767 L2380.7 1768.4 L2378.3 1770.2 L2375 1770.8 L2372.6 1771.9 L2368.9 1771.3 L2366.2 1771.4 L2364.5 1772.4 L2362.5 1770.2 L2359.1 1768.7 L2356.8 1766 L2354.4 1764.5 L2352.4 1762.3 L2352.7 1759.6 L2351 1757.4 L2348.3 1756.1 L2347.8 1753.6 L2348.2 1751.5 L2347.1 1749.5 L2348.7 1747.5 L2347.8 1745.1 L2346.6 1743.1 L2347.8 1741.9 L2348.5 1740.1 L2350 1739.1 L2350 1736.9 L2352.2 1736 L2353.2 1734.8 L2353.6 1733.8 L2354.9 1731.5 L2356.6 1731.1 L2358.1 1729.1 L2359.1 1727.4 L2361.5 1727.3 L2363 1725.6 Z M2369.4 1748.5 L2367.1 1744 L2366.6 1734.7 L2368.6 1728.8 M2366.6 1735.2 L2366.2 1733.8 M2369.4 1748.5 L2374 1737.9 L2376 1729.7 M2369.4 1748.5 L2373.1 1745.1 L2376.5 1741.3 L2381.2 1732.2 M2373.1 1745.1 L2382.1 1741.6 L2388.8 1741.3 M2369.4 1748.5 L2382.1 1749.2 L2390.3 1748.5 M2381.7 1749.4 L2386 1751.5 M2369.4 1748.5 L2374.5 1751 L2379.2 1752.7 L2389.4 1753.9 M2374.5 1751 L2380.1 1758.2 L2382.6 1763.9 M2369.4 1748.5 L2372.4 1760.2 L2375.9 1767 M2372.4 1760.2 L2371.5 1764.5 M2369.4 1748.5 L2368.8 1753.7 L2368 1759.1 L2369.9 1768.2 M2368.8 1753.2 L2363.6 1761.2 L2358 1765.1 M2363.6 1761.2 L2363.1 1760.7 M2369.4 1748.5 L2358 1755.1 L2352.5 1760 M2358 1755.1 L2354 1755.3 M2369.4 1748.5 L2360 1750.1 L2349.7 1755.1 M2369.4 1748.5 L2364.5 1749.1 L2355 1746.9 L2353.2 1747 M2355 1746.9 L2349.4 1743.3 M2369.4 1748.5 L2359.8 1741 L2352.5 1736.8 M2359.8 1741 L2358 1737.1 M2369.4 1748.5 L2364.7 1739.9 L2356.8 1733 M2364.7 1739.9 L2364.1 1738.6" fill="none" stroke="#231f20" stroke-width="2.2" stroke-linejoin="round"/>
<path d="M2141.2 1763.2 L2143.3 1764.7 L2146 1763.6 L2147.6 1764.4 L2148.7 1766.1 L2150.2 1764.2 L2151.1 1765.6 L2152.1 1764.8 L2154 1764.2 L2155.8 1765.9 L2157.5 1765.8 L2159.2 1765.9 L2160.9 1768.3 L2162.4 1771 L2165.1 1771.3 L2166.4 1773 L2167.6 1775.7 L2168.9 1778.1 L2168.6 1779.1 L2168.4 1781.1 L2170 1782.5 L2170 1783.8 L2169.3 1785.3 L2171.1 1786.8 L2171.1 1789 L2170 1790.2 L2170.3 1792.4 L2169.3 1794.6 L2168.3 1796.6 L2166.6 1798.3 L2165.4 1801.3 L2166.2 1803 L2163.6 1804.4 L2160.2 1805 L2158.5 1806.4 L2156.1 1808.2 L2152.8 1808.8 L2150.4 1809.9 L2146.7 1809.3 L2144 1809.4 L2142.3 1810.4 L2140.3 1808.2 L2136.9 1806.7 L2134.6 1804 L2132.2 1802.5 L2130.2 1800.3 L2130.5 1797.6 L2128.8 1795.4 L2126.1 1794.1 L2125.6 1791.6 L2126 1789.5 L2124.9 1787.5 L2126.5 1785.5 L2125.6 1783.1 L2124.4 1781.1 L2125.6 1779.9 L2126.3 1778.1 L2127.8 1777.1 L2127.8 1774.9 L2130 1774 L2131 1772.8 L2131.4 1771.8 L2132.7 1769.5 L2134.4 1769.1 L2135.9 1767.1 L2136.9 1765.4 L2139.3 1765.3 L2140.8 1763.6 Z M2147.2 1786.5 L2144.9 1782 L2144.4 1772.7 L2146.4 1766.8 M2144.4 1773.2 L2144 1771.8 M2147.2 1786.5 L2151.8 1775.9 L2153.8 1767.7 M2147.2 1786.5 L2150.9 1783.1 L2154.3 1779.3 L2158.9 1770.2 M2150.9 1783.1 L2159.9 1779.6 L2166.6 1779.3 M2147.2 1786.5 L2159.9 1787.2 L2168.1 1786.5 M2159.5 1787.4 L2163.8 1789.5 M2147.2 1786.5 L2152.3 1789 L2157 1790.7 L2167.2 1791.9 M2152.3 1789 L2157.9 1796.2 L2160.4 1801.9 M2147.2 1786.5 L2150.2 1798.2 L2153.7 1805 M2150.2 1798.2 L2149.3 1802.5 M2147.2 1786.5 L2146.6 1791.7 L2145.8 1797.1 L2147.7 1806.2 M2146.6 1791.2 L2141.4 1799.2 L2135.8 1803.1 M2141.4 1799.2 L2140.9 1798.7 M2147.2 1786.5 L2135.8 1793.1 L2130.3 1798 M2135.8 1793.1 L2131.8 1793.3 M2147.2 1786.5 L2137.8 1788.1 L2127.5 1793.1 M2147.2 1786.5 L2142.3 1787.1 L2132.8 1784.9 L2131 1785 M2132.8 1784.9 L2127.2 1781.3 M2147.2 1786.5 L2137.6 1779 L2130.3 1774.8 M2137.6 1779 L2135.8 1775.1 M2147.2 1786.5 L2142.5 1777.9 L2134.6 1771 M2142.5 1777.9 L2141.9 1776.6" fill="none" stroke="#231f20" stroke-width="2.2" stroke-linejoin="round"/>
<path d="M2423.8 1795.1 L2425.9 1796.6 L2428.6 1795.5 L2430.2 1796.3 L2431.3 1798 L2432.8 1796.1 L2433.7 1797.5 L2434.7 1796.7 L2436.6 1796.1 L2438.4 1797.8 L2440.1 1797.7 L2441.8 1797.8 L2443.5 1800.2 L2445 1802.9 L2447.7 1803.2 L2449 1804.9 L2450.2 1807.6 L2451.5 1810 L2451.2 1811 L2451 1813 L2452.6 1814.4 L2452.6 1815.7 L2451.9 1817.2 L2453.7 1818.7 L2453.7 1820.9 L2452.6 1822.1 L2452.9 1824.3 L2451.9 1826.5 L2450.9 1828.5 L2449.2 1830.2 L2448 1833.2 L2448.8 1834.9 L2446.2 1836.3 L2442.8 1836.9 L2441.1 1838.3 L2438.7 1840.1 L2435.4 1840.7 L2433 1841.8 L2429.3 1841.2 L2426.6 1841.3 L2424.9 1842.3 L2422.9 1840.1 L2419.5 1838.6 L2417.2 1835.9 L2414.8 1834.4 L2412.8 1832.2 L2413.1 1829.5 L2411.4 1827.3 L2408.7 1826 L2408.2 1823.5 L2408.6 1821.4 L2407.5 1819.4 L2409.1 1817.4 L2408.2 1815 L2407 1813 L2408.2 1811.8 L2408.9 1810 L2410.4 1809 L2410.4 1806.8 L2412.6 1805.9 L2413.6 1804.7 L2414 1803.7 L2415.3 1801.4 L2417 1801 L2418.5 1799 L2419.5 1797.3 L2421.9 1797.2 L2423.4 1795.5 Z M2429.8 1818.4 L2427.5 1813.9 L2427 1804.6 L2429 1798.7 M2427 1805.1 L2426.6 1803.7 M2429.8 1818.4 L2434.4 1807.8 L2436.4 1799.6 M2429.8 1818.4 L2433.5 1815 L2436.9 1811.2 L2441.6 1802.1 M2433.5 1815 L2442.5 1811.5 L2449.2 1811.2 M2429.8 1818.4 L2442.5 1819.1 L2450.7 1818.4 M2442.1 1819.3 L2446.4 1821.4 M2429.8 1818.4 L2434.9 1820.9 L2439.6 1822.6 L2449.8 1823.8 M2434.9 1820.9 L2440.5 1828.1 L2443 1833.8 M2429.8 1818.4 L2432.8 1830.2 L2436.3 1836.9 M2432.8 1830.2 L2431.9 1834.4 M2429.8 1818.4 L2429.2 1823.6 L2428.4 1829 L2430.3 1838.1 M2429.2 1823.1 L2424 1831.1 L2418.4 1835 M2424 1831.1 L2423.5 1830.6 M2429.8 1818.4 L2418.4 1825 L2412.9 1829.9 M2418.4 1825 L2414.4 1825.2 M2429.8 1818.4 L2420.4 1820 L2410.1 1825 M2429.8 1818.4 L2424.9 1819 L2415.4 1816.8 L2413.6 1816.9 M2415.4 1816.8 L2409.8 1813.2 M2429.8 1818.4 L2420.2 1810.9 L2412.9 1806.7 M2420.2 1810.9 L2418.4 1807 M2429.8 1818.4 L2425.1 1809.8 L2417.2 1802.9 M2425.1 1809.8 L2424.5 1808.5" fill="none" stroke="#231f20" stroke-width="2.2" stroke-linejoin="round"/>
<path d="M2121.4 1888.2 L2123.5 1889.7 L2126.2 1888.6 L2127.8 1889.4 L2128.9 1891.1 L2130.4 1889.2 L2131.3 1890.6 L2132.3 1889.8 L2134.2 1889.2 L2136 1890.9 L2137.7 1890.8 L2139.4 1890.9 L2141.1 1893.3 L2142.6 1896 L2145.3 1896.3 L2146.6 1898 L2147.8 1900.7 L2149.1 1903.1 L2148.8 1904.1 L2148.6 1906.1 L2150.2 1907.5 L2150.2 1908.8 L2149.5 1910.3 L2151.3 1911.8 L2151.3 1914 L2150.2 1915.2 L2150.5 1917.4 L2149.5 1919.6 L2148.5 1921.6 L2146.8 1923.3 L2145.6 1926.3 L2146.4 1928 L2143.8 1929.4 L2140.4 1930 L2138.7 1931.4 L2136.3 1933.2 L2133 1933.8 L2130.6 1934.9 L2126.9 1934.3 L2124.2 1934.4 L2122.5 1935.4 L2120.5 1933.2 L2117.1 1931.7 L2114.8 1929 L2112.4 1927.5 L2110.4 1925.3 L2110.7 1922.6 L2109 1920.4 L2106.3 1919.1 L2105.8 1916.6 L2106.2 1914.5 L2105.1 1912.5 L2106.7 1910.5 L2105.8 1908.1 L2104.6 1906.1 L2105.8 1904.9 L2106.5 1903.1 L2108 1902.1 L2108 1899.9 L2110.2 1899 L2111.2 1897.8 L2111.6 1896.8 L2112.9 1894.5 L2114.6 1894.1 L2116.1 1892.1 L2117.1 1890.4 L2119.5 1890.3 L2121 1888.6 Z M2127.4 1911.5 L2125.1 1907 L2124.6 1897.7 L2126.6 1891.8 M2124.6 1898.2 L2124.2 1896.8 M2127.4 1911.5 L2132 1900.9 L2134 1892.7 M2127.4 1911.5 L2131.1 1908.1 L2134.5 1904.3 L2139.2 1895.2 M2131.1 1908.1 L2140.1 1904.6 L2146.8 1904.3 M2127.4 1911.5 L2140.1 1912.2 L2148.3 1911.5 M2139.7 1912.4 L2144 1914.5 M2127.4 1911.5 L2132.5 1914 L2137.2 1915.7 L2147.4 1916.9 M2132.5 1914 L2138.1 1921.2 L2140.6 1926.9 M2127.4 1911.5 L2130.4 1923.2 L2133.9 1930 M2130.4 1923.2 L2129.5 1927.5 M2127.4 1911.5 L2126.8 1916.7 L2126 1922.1 L2127.9 1931.2 M2126.8 1916.2 L2121.6 1924.2 L2116 1928.1 M2121.6 1924.2 L2121.1 1923.7 M2127.4 1911.5 L2116 1918.1 L2110.5 1923 M2116 1918.1 L2112 1918.3 M2127.4 1911.5 L2118 1913.1 L2107.7 1918.1 M2127.4 1911.5 L2122.5 1912.1 L2113 1909.9 L2111.2 1910 M2113 1909.9 L2107.4 1906.3 M2127.4 1911.5 L2117.8 1904 L2110.5 1899.8 M2117.8 1904 L2116 1900.1 M2127.4 1911.5 L2122.7 1902.9 L2114.8 1896 M2122.7 1902.9 L2122.1 1901.6" fill="none" stroke="#231f20" stroke-width="2.2" stroke-linejoin="round"/>
<path d="M2422.2 1910.1 L2424.3 1911.6 L2427 1910.5 L2428.6 1911.3 L2429.7 1913 L2431.2 1911.1 L2432.1 1912.5 L2433.1 1911.7 L2435 1911.1 L2436.8 1912.8 L2438.5 1912.7 L2440.2 1912.8 L2441.9 1915.2 L2443.4 1917.9 L2446.1 1918.2 L2447.4 1919.9 L2448.6 1922.6 L2449.9 1925 L2449.6 1926 L2449.4 1928 L2451 1929.4 L2451 1930.7 L2450.3 1932.2 L2452.1 1933.7 L2452.1 1935.9 L2451 1937.1 L2451.3 1939.3 L2450.3 1941.5 L2449.3 1943.5 L2447.6 1945.2 L2446.4 1948.2 L2447.2 1949.9 L2444.6 1951.3 L2441.2 1951.9 L2439.5 1953.3 L2437.1 1955.1 L2433.8 1955.7 L2431.4 1956.8 L2427.7 1956.2 L2425 1956.3 L2423.3 1957.3 L2421.3 1955.1 L2417.9 1953.6 L2415.6 1950.9 L2413.2 1949.4 L2411.2 1947.2 L2411.5 1944.5 L2409.8 1942.3 L2407.1 1941 L2406.6 1938.5 L2407 1936.4 L2405.9 1934.4 L2407.5 1932.4 L2406.6 1930 L2405.4 1928 L2406.6 1926.8 L2407.3 1925 L2408.8 1924 L2408.8 1921.8 L2411 1920.9 L2412 1919.7 L2412.4 1918.7 L2413.7 1916.4 L2415.4 1916 L2416.9 1914 L2417.9 1912.3 L2420.3 1912.2 L2421.8 1910.5 Z M2428.2 1933.4 L2425.9 1928.9 L2425.4 1919.6 L2427.4 1913.7 M2425.4 1920.1 L2425 1918.7 M2428.2 1933.4 L2432.8 1922.8 L2434.8 1914.6 M2428.2 1933.4 L2431.9 1930 L2435.3 1926.2 L2439.9 1917.1 M2431.9 1930 L2440.9 1926.5 L2447.6 1926.2 M2428.2 1933.4 L2440.9 1934.1 L2449.1 1933.4 M2440.5 1934.3 L2444.8 1936.4 M2428.2 1933.4 L2433.3 1935.9 L2438 1937.6 L2448.2 1938.8 M2433.3 1935.9 L2438.9 1943.1 L2441.4 1948.8 M2428.2 1933.4 L2431.2 1945.2 L2434.7 1951.9 M2431.2 1945.2 L2430.3 1949.4 M2428.2 1933.4 L2427.6 1938.6 L2426.8 1944 L2428.7 1953.1 M2427.6 1938.1 L2422.4 1946.1 L2416.8 1950 M2422.4 1946.1 L2421.9 1945.6 M2428.2 1933.4 L2416.8 1940 L2411.3 1944.9 M2416.8 1940 L2412.8 1940.2 M2428.2 1933.4 L2418.8 1935 L2408.5 1940 M2428.2 1933.4 L2423.3 1934 L2413.8 1931.8 L2412 1931.9 M2413.8 1931.8 L2408.2 1928.2 M2428.2 1933.4 L2418.6 1925.9 L2411.3 1921.7 M2418.6 1925.9 L2416.8 1922 M2428.2 1933.4 L2423.5 1924.8 L2415.6 1917.9 M2423.5 1924.8 L2422.9 1923.5" fill="none" stroke="#231f20" stroke-width="2.2" stroke-linejoin="round"/>
<path d="M2386.7 1974.2 L2388.8 1975.7 L2391.5 1974.6 L2393.1 1975.4 L2394.2 1977.1 L2395.7 1975.2 L2396.6 1976.6 L2397.6 1975.8 L2399.5 1975.2 L2401.3 1976.9 L2403 1976.8 L2404.7 1976.9 L2406.4 1979.3 L2407.9 1982 L2410.6 1982.3 L2411.9 1984 L2413.1 1986.7 L2414.4 1989.1 L2414.1 1990.1 L2413.9 1992.1 L2415.5 1993.5 L2415.5 1994.8 L2414.8 1996.3 L2416.6 1997.8 L2416.6 2000 L2415.5 2001.2 L2415.8 2003.4 L2414.8 2005.6 L2413.8 2007.6 L2412.1 2009.3 L2410.9 2012.3 L2411.7 2014 L2409.1 2015.4 L2405.7 2016 L2404 2017.4 L2401.6 2019.2 L2398.3 2019.8 L2395.9 2020.9 L2392.2 2020.3 L2389.5 2020.4 L2387.8 2021.4 L2385.8 2019.2 L2382.4 2017.7 L2380.1 2015 L2377.7 2013.5 L2375.7 2011.3 L2376 2008.6 L2374.3 2006.4 L2371.6 2005.1 L2371.1 2002.6 L2371.5 2000.5 L2370.4 1998.5 L2372 1996.5 L2371.1 1994.1 L2369.9 1992.1 L2371.1 1990.9 L2371.8 1989.1 L2373.3 1988.1 L2373.3 1985.9 L2375.5 1985 L2376.5 1983.8 L2376.9 1982.8 L2378.2 1980.5 L2379.9 1980.1 L2381.4 1978.1 L2382.4 1976.4 L2384.8 1976.3 L2386.3 1974.6 Z M2392.7 1997.5 L2390.4 1993 L2389.9 1983.7 L2391.9 1977.8 M2389.9 1984.2 L2389.5 1982.8 M2392.7 1997.5 L2397.3 1986.9 L2399.3 1978.7 M2392.7 1997.5 L2396.4 1994.1 L2399.8 1990.3 L2404.4 1981.2 M2396.4 1994.1 L2405.4 1990.6 L2412.1 1990.3 M2392.7 1997.5 L2405.4 1998.2 L2413.6 1997.5 M2405 1998.4 L2409.3 2000.5 M2392.7 1997.5 L2397.8 2000 L2402.5 2001.7 L2412.7 2002.9 M2397.8 2000 L2403.4 2007.2 L2405.9 2012.9 M2392.7 1997.5 L2395.7 2009.2 L2399.2 2016 M2395.7 2009.2 L2394.8 2013.5 M2392.7 1997.5 L2392.1 2002.7 L2391.3 2008.1 L2393.2 2017.2 M2392.1 2002.2 L2386.9 2010.2 L2381.3 2014.1 M2386.9 2010.2 L2386.4 2009.7 M2392.7 1997.5 L2381.3 2004.1 L2375.8 2009 M2381.3 2004.1 L2377.3 2004.3 M2392.7 1997.5 L2383.3 1999.1 L2373 2004.1 M2392.7 1997.5 L2387.8 1998.1 L2378.3 1995.9 L2376.5 1996 M2378.3 1995.9 L2372.7 1992.3 M2392.7 1997.5 L2383.1 1990 L2375.8 1985.8 M2383.1 1990 L2381.3 1986.1 M2392.7 1997.5 L2388 1988.9 L2380.1 1982 M2388 1988.9 L2387.4 1987.6" fill="none" stroke="#231f20" stroke-width="2.2" stroke-linejoin="round"/>
<path d="M2183.5 1982.7 L2185.6 1984.2 L2188.3 1983.1 L2189.9 1983.9 L2191 1985.6 L2192.5 1983.7 L2193.4 1985.1 L2194.4 1984.3 L2196.3 1983.7 L2198.1 1985.4 L2199.8 1985.3 L2201.5 1985.4 L2203.2 1987.8 L2204.7 1990.5 L2207.4 1990.8 L2208.7 1992.5 L2209.9 1995.2 L2211.2 1997.6 L2210.9 1998.6 L2210.7 2000.6 L2212.3 2002 L2212.3 2003.3 L2211.6 2004.8 L2213.4 2006.3 L2213.4 2008.5 L2212.3 2009.7 L2212.6 2011.9 L2211.6 2014.1 L2210.6 2016.1 L2208.9 2017.8 L2207.7 2020.8 L2208.5 2022.5 L2205.9 2023.9 L2202.5 2024.5 L2200.8 2025.9 L2198.4 2027.7 L2195.1 2028.3 L2192.7 2029.4 L2189 2028.8 L2186.3 2028.9 L2184.6 2029.9 L2182.6 2027.7 L2179.2 2026.2 L2176.9 2023.5 L2174.5 2022 L2172.5 2019.8 L2172.8 2017.1 L2171.1 2014.9 L2168.4 2013.6 L2167.9 2011.1 L2168.3 2009 L2167.2 2007 L2168.8 2005 L2167.9 2002.6 L2166.7 2000.6 L2167.9 1999.4 L2168.6 1997.6 L2170.1 1996.6 L2170.1 1994.4 L2172.3 1993.5 L2173.3 1992.3 L2173.7 1991.3 L2175 1989 L2176.7 1988.6 L2178.2 1986.6 L2179.2 1984.9 L2181.6 1984.8 L2183.1 1983.1 Z M2189.5 2006 L2187.2 2001.5 L2186.7 1992.2 L2188.7 1986.3 M2186.7 1992.7 L2186.3 1991.3 M2189.5 2006 L2194.1 1995.4 L2196.1 1987.2 M2189.5 2006 L2193.2 2002.6 L2196.6 1998.8 L2201.2 1989.7 M2193.2 2002.6 L2202.2 1999.1 L2208.9 1998.8 M2189.5 2006 L2202.2 2006.7 L2210.4 2006 M2201.8 2006.9 L2206.1 2009 M2189.5 2006 L2194.6 2008.5 L2199.3 2010.2 L2209.5 2011.4 M2194.6 2008.5 L2200.2 2015.7 L2202.7 2021.4 M2189.5 2006 L2192.5 2017.8 L2196 2024.5 M2192.5 2017.8 L2191.6 2022 M2189.5 2006 L2188.9 2011.2 L2188.1 2016.6 L2190 2025.7 M2188.9 2010.7 L2183.7 2018.7 L2178.1 2022.6 M2183.7 2018.7 L2183.2 2018.2 M2189.5 2006 L2178.1 2012.6 L2172.6 2017.5 M2178.1 2012.6 L2174.1 2012.8 M2189.5 2006 L2180.1 2007.6 L2169.8 2012.6 M2189.5 2006 L2184.6 2006.6 L2175.1 2004.4 L2173.3 2004.5 M2175.1 2004.4 L2169.5 2000.8 M2189.5 2006 L2179.9 1998.5 L2172.6 1994.2 M2179.9 1998.5 L2178.1 1994.6 M2189.5 2006 L2184.8 1997.4 L2176.9 1990.5 M2184.8 1997.4 L2184.2 1996.1" fill="none" stroke="#231f20" stroke-width="2.2" stroke-linejoin="round"/>
<path d="M2283.5 2026.7 L2285.6 2028.2 L2288.3 2027.1 L2289.9 2027.9 L2291 2029.6 L2292.5 2027.7 L2293.4 2029.1 L2294.4 2028.3 L2296.3 2027.7 L2298.1 2029.4 L2299.8 2029.3 L2301.5 2029.4 L2303.2 2031.8 L2304.7 2034.5 L2307.4 2034.8 L2308.7 2036.5 L2309.9 2039.2 L2311.2 2041.6 L2310.9 2042.6 L2310.7 2044.6 L2312.3 2046 L2312.3 2047.3 L2311.6 2048.8 L2313.4 2050.3 L2313.4 2052.5 L2312.3 2053.7 L2312.6 2055.9 L2311.6 2058.1 L2310.6 2060.1 L2308.9 2061.8 L2307.7 2064.8 L2308.5 2066.5 L2305.9 2067.9 L2302.5 2068.5 L2300.8 2069.9 L2298.4 2071.7 L2295.1 2072.3 L2292.7 2073.4 L2289 2072.8 L2286.3 2072.9 L2284.6 2073.9 L2282.6 2071.7 L2279.2 2070.2 L2276.9 2067.5 L2274.5 2066 L2272.5 2063.8 L2272.8 2061.1 L2271.1 2058.9 L2268.4 2057.6 L2267.9 2055.1 L2268.3 2053 L2267.2 2051 L2268.8 2049 L2267.9 2046.6 L2266.7 2044.6 L2267.9 2043.4 L2268.6 2041.6 L2270.1 2040.6 L2270.1 2038.4 L2272.3 2037.5 L2273.3 2036.3 L2273.7 2035.3 L2275 2033 L2276.7 2032.6 L2278.2 2030.6 L2279.2 2028.9 L2281.6 2028.8 L2283.1 2027.1 Z M2289.5 2050 L2287.2 2045.5 L2286.7 2036.2 L2288.7 2030.3 M2286.7 2036.7 L2286.3 2035.3 M2289.5 2050 L2294.1 2039.4 L2296.1 2031.2 M2289.5 2050 L2293.2 2046.6 L2296.6 2042.8 L2301.2 2033.7 M2293.2 2046.6 L2302.2 2043.1 L2308.9 2042.8 M2289.5 2050 L2302.2 2050.7 L2310.4 2050 M2301.8 2050.9 L2306.1 2053 M2289.5 2050 L2294.6 2052.5 L2299.3 2054.2 L2309.5 2055.4 M2294.6 2052.5 L2300.2 2059.7 L2302.7 2065.4 M2289.5 2050 L2292.5 2061.8 L2296 2068.5 M2292.5 2061.8 L2291.6 2066 M2289.5 2050 L2288.9 2055.2 L2288.1 2060.6 L2290 2069.7 M2288.9 2054.7 L2283.7 2062.7 L2278.1 2066.6 M2283.7 2062.7 L2283.2 2062.2 M2289.5 2050 L2278.1 2056.6 L2272.6 2061.5 M2278.1 2056.6 L2274.1 2056.8 M2289.5 2050 L2280.1 2051.6 L2269.8 2056.6 M2289.5 2050 L2284.6 2050.6 L2275.1 2048.4 L2273.3 2048.5 M2275.1 2048.4 L2269.5 2044.8 M2289.5 2050 L2279.9 2042.5 L2272.6 2038.2 M2279.9 2042.5 L2278.1 2038.6 M2289.5 2050 L2284.8 2041.4 L2276.9 2034.5 M2284.8 2041.4 L2284.2 2040.1" fill="none" stroke="#231f20" stroke-width="2.2" stroke-linejoin="round"/>
<path d="M410.4 1616.6 L411.7 1617.8 L414.1 1619.3 L416.7 1618 L419.1 1617.5 L420.9 1616.9 L422.1 1618.9 L423.5 1620.1 L424.1 1622 L425.4 1619.8 L426.9 1618.6 L428.3 1618.5 L428.5 1621.1 L429.9 1621.2 L430.2 1619.5 L432.1 1618.6 L433.8 1618.5 L435.1 1620.4 L437 1621.5 L438.6 1622.6 L440.1 1621.4 L441.7 1620.7 L443.2 1621.7 L444.7 1624.1 L446.3 1626 L447.5 1628.5 L449.1 1630.9 L451.5 1631.2 L454 1631.5 L454.6 1633.7 L456.5 1634.6 L457.4 1637.1 L458.6 1639.6 L459.5 1642 L461.1 1643.9 L462.9 1645.7 L460.5 1645.7 L460.8 1647.6 L460.2 1649.4 L461.1 1651 L462.9 1651.9 L463.9 1652.8 L462.9 1654.4 L462.6 1656.5 L461.7 1657.1 L463.6 1658.7 L465.1 1659.9 L465.3 1662.4 L465.1 1663.9 L463.3 1664.5 L462.9 1666.1 L464.2 1667.6 L463.6 1670.1 L462.9 1671.6 L461.7 1674.1 L460.2 1675.3 L459.9 1677.8 L458.3 1679.4 L456.8 1680.9 L455.5 1683.4 L454.6 1686.4 L456.2 1688.6 L456.2 1689.5 L453.7 1690.5 L451.2 1692 L448.1 1692.9 L445.1 1693.2 L442.3 1693.1 L442 1695.7 L440.1 1697.5 L437.6 1699.1 L434.6 1699.4 L431.5 1700 L430.2 1701.9 L427.2 1702.2 L423.5 1702.2 L420.4 1700.9 L417.9 1700.3 L415.4 1701.3 L413.3 1701.6 L412.4 1703.1 L411.1 1701.6 L408.7 1699.1 L406.2 1697.5 L402.5 1696.3 L400 1693.8 L398.2 1691.4 L396.3 1689.5 L393.8 1688.6 L392 1687.1 L390.1 1684.6 L390.5 1682.1 L390.8 1679.7 L389.8 1677.5 L387.7 1675.6 L385.2 1674.1 L382.7 1673.2 L382.1 1671 L381.8 1668.6 L380.9 1666.1 L382.4 1664.9 L381.5 1663 L380.6 1661.2 L382.4 1659.3 L383.4 1657.4 L383.4 1655.3 L381.8 1653.1 L380.6 1651.3 L379.7 1649.4 L379.5 1647.6 L381.8 1647.3 L381.5 1645.7 L383.1 1643.9 L385.5 1643 L385.8 1642 L384.3 1639.6 L385.8 1638 L387.7 1637.1 L389.8 1636.5 L391.1 1636.5 L391.7 1634.3 L390.5 1631.8 L392.3 1632.5 L393.8 1630.3 L394.8 1628.1 L396.3 1629.1 L397.9 1627.5 L399.4 1625.4 L400.6 1623.8 L400.3 1621.7 L402.5 1620.7 L404.6 1621.4 L406.8 1620.4 L409 1619.2 L409.6 1617.3 Z M421.3 1659.3 L417.2 1651 L416.1 1634.1 L419.8 1623.2 M416.1 1634.9 L415.4 1632.4 M421.3 1659.3 L429.7 1639.9 L433.5 1624.8 M421.3 1659.3 L428.1 1653.1 L434.3 1646.1 L442.8 1629.5 M428.1 1653.1 L444.6 1646.6 L456.9 1646.1 M421.3 1659.3 L444.6 1660.5 L459.5 1659.3 M443.8 1661 L451.6 1664.8 M421.3 1659.3 L430.6 1663.8 L439.2 1667 L457.9 1669.2 M430.6 1663.8 L440.9 1677.1 L445.4 1687.4 M421.3 1659.3 L426.8 1680.8 L433.2 1693.2 M426.8 1680.8 L425.2 1688.5 M421.3 1659.3 L420.2 1668.8 L418.8 1678.7 L422.3 1695.3 M420.2 1668 L410.7 1682.5 L400.4 1689.6 M410.7 1682.5 L409.7 1681.6 M421.3 1659.3 L400.4 1671.3 L390.5 1680.4 M400.4 1671.3 L393.2 1671.7 M421.3 1659.3 L404.1 1662.2 L385.2 1671.3 M421.3 1659.3 L412.4 1660.4 L395 1656.4 L391.7 1656.6 M395 1656.4 L384.7 1649.8 M421.3 1659.3 L403.7 1645.7 L390.5 1637.8 M403.7 1645.7 L400.4 1638.4 M421.3 1659.3 L412.8 1643.6 L398.3 1630.9 M412.8 1643.6 L411.5 1641.1" fill="none" stroke="#231f20" stroke-width="2.2" stroke-linejoin="round"/>
<path d="M599.7 1618.2 L601.2 1619.5 L603.7 1621.1 L606.4 1619.7 L609 1619.1 L610.8 1618.5 L612.1 1620.6 L613.6 1621.9 L614.2 1623.9 L615.7 1621.6 L617.2 1620.3 L618.7 1620.2 L618.9 1622.9 L620.4 1623.1 L620.8 1621.3 L622.7 1620.3 L624.6 1620.2 L625.9 1622.3 L627.9 1623.4 L629.6 1624.6 L631.2 1623.3 L632.8 1622.6 L634.5 1623.6 L636.1 1626.2 L637.7 1628.1 L639 1630.8 L640.7 1633.4 L643.3 1633.7 L645.9 1634 L646.6 1636.3 L648.5 1637.3 L649.5 1639.9 L650.8 1642.5 L651.8 1645.1 L653.4 1647.1 L655.4 1649 L652.8 1649 L653.1 1651 L652.4 1653 L653.4 1654.6 L655.4 1655.6 L656.3 1656.5 L655.4 1658.2 L655 1660.5 L654.1 1661.1 L656 1662.7 L657.6 1664.1 L657.8 1666.7 L657.6 1668.3 L655.7 1668.9 L655.4 1670.6 L656.7 1672.2 L656 1674.8 L655.4 1676.5 L654.1 1679.1 L652.4 1680.4 L652.1 1683 L650.5 1684.6 L648.8 1686.2 L647.5 1688.9 L646.6 1692.1 L648.2 1694.4 L648.2 1695.4 L645.6 1696.4 L643 1698 L639.7 1699 L636.4 1699.3 L633.5 1699.2 L633.2 1701.9 L631.2 1703.9 L628.6 1705.5 L625.3 1705.8 L622.1 1706.5 L620.8 1708.4 L617.5 1708.8 L613.6 1708.8 L610.3 1707.5 L607.7 1706.8 L605.1 1707.8 L602.8 1708.1 L601.8 1709.7 L600.5 1708.1 L597.9 1705.5 L595.3 1703.9 L591.4 1702.6 L588.8 1700 L586.8 1697.3 L584.9 1695.4 L582.3 1694.4 L580.3 1692.8 L578.3 1690.2 L578.7 1687.6 L579 1684.9 L578 1682.7 L575.7 1680.7 L573.1 1679.1 L570.5 1678.1 L569.8 1675.8 L569.5 1673.2 L568.5 1670.6 L570.2 1669.3 L569.2 1667.3 L568.2 1665.4 L570.2 1663.4 L571.2 1661.4 L571.2 1659.2 L569.5 1656.9 L568.2 1654.9 L567.2 1653 L567.1 1651 L569.5 1650.7 L569.2 1649 L570.8 1647.1 L573.4 1646.1 L573.8 1645.1 L572.1 1642.5 L573.8 1640.9 L575.7 1639.9 L578 1639.2 L579.3 1639.2 L580 1637 L578.7 1634.4 L580.6 1635 L582.3 1632.7 L583.2 1630.4 L584.9 1631.4 L586.5 1629.8 L588.1 1627.5 L589.4 1625.9 L589.1 1623.6 L591.4 1622.6 L593.7 1623.3 L596 1622.3 L598.2 1621 L598.9 1619 Z M611.3 1663.4 L606.9 1654.7 L605.8 1636.7 L609.7 1625.2 M605.8 1637.6 L605.1 1635 M611.3 1663.4 L620.2 1642.8 L624.2 1626.9 M611.3 1663.4 L618.5 1656.8 L625 1649.4 L634 1631.9 M618.5 1656.8 L636 1650 L648.9 1649.4 M611.3 1663.4 L636 1664.7 L651.7 1663.4 M635.1 1665.2 L643.4 1669.3 M611.3 1663.4 L621.1 1668.2 L630.3 1671.5 L650 1673.9 M621.1 1668.2 L632 1682.2 L636.8 1693.2 M611.3 1663.4 L617.2 1686.2 L623.9 1699.3 M617.2 1686.2 L615.4 1694.3 M611.3 1663.4 L610.2 1673.5 L608.7 1684 L612.3 1701.5 M610.2 1672.6 L600.1 1687.9 L589.2 1695.5 M600.1 1687.9 L599 1687 M611.3 1663.4 L589.2 1676.1 L578.7 1685.7 M589.2 1676.1 L581.5 1676.5 M611.3 1663.4 L593.1 1666.5 L573.1 1676.1 M611.3 1663.4 L601.8 1664.5 L583.5 1660.3 L580 1660.5 M583.5 1660.3 L572.5 1653.3 M611.3 1663.4 L592.7 1649 L578.7 1640.7 M592.7 1649 L589.2 1641.3 M611.3 1663.4 L602.3 1646.8 L587 1633.4 M602.3 1646.8 L601 1644.2" fill="none" stroke="#231f20" stroke-width="2.2" stroke-linejoin="round"/>
<path d="M787.7 1618.2 L789.2 1619.5 L791.7 1621.1 L794.4 1619.7 L797 1619.1 L798.8 1618.5 L800.1 1620.6 L801.6 1621.9 L802.2 1623.9 L803.7 1621.6 L805.2 1620.3 L806.7 1620.2 L806.9 1622.9 L808.4 1623.1 L808.8 1621.3 L810.7 1620.3 L812.6 1620.2 L813.9 1622.3 L815.9 1623.4 L817.6 1624.6 L819.2 1623.3 L820.8 1622.6 L822.5 1623.6 L824.1 1626.2 L825.7 1628.1 L827 1630.8 L828.7 1633.4 L831.3 1633.7 L833.9 1634 L834.6 1636.3 L836.5 1637.3 L837.5 1639.9 L838.8 1642.5 L839.8 1645.1 L841.4 1647.1 L843.4 1649 L840.8 1649 L841.1 1651 L840.4 1653 L841.4 1654.6 L843.4 1655.6 L844.3 1656.5 L843.4 1658.2 L843 1660.5 L842.1 1661.1 L844 1662.7 L845.6 1664.1 L845.8 1666.7 L845.6 1668.3 L843.7 1668.9 L843.4 1670.6 L844.7 1672.2 L844 1674.8 L843.4 1676.5 L842.1 1679.1 L840.4 1680.4 L840.1 1683 L838.5 1684.6 L836.8 1686.2 L835.5 1688.9 L834.6 1692.1 L836.2 1694.4 L836.2 1695.4 L833.6 1696.4 L831 1698 L827.7 1699 L824.4 1699.3 L821.5 1699.2 L821.2 1701.9 L819.2 1703.9 L816.6 1705.5 L813.3 1705.8 L810.1 1706.5 L808.8 1708.4 L805.5 1708.8 L801.6 1708.8 L798.3 1707.5 L795.7 1706.8 L793.1 1707.8 L790.8 1708.1 L789.8 1709.7 L788.5 1708.1 L785.9 1705.5 L783.3 1703.9 L779.4 1702.6 L776.8 1700 L774.8 1697.3 L772.9 1695.4 L770.3 1694.4 L768.3 1692.8 L766.3 1690.2 L766.7 1687.6 L767 1684.9 L766 1682.7 L763.7 1680.7 L761.1 1679.1 L758.5 1678.1 L757.8 1675.8 L757.5 1673.2 L756.5 1670.6 L758.2 1669.3 L757.2 1667.3 L756.2 1665.4 L758.2 1663.4 L759.2 1661.4 L759.2 1659.2 L757.5 1656.9 L756.2 1654.9 L755.2 1653 L755.1 1651 L757.5 1650.7 L757.2 1649 L758.8 1647.1 L761.4 1646.1 L761.8 1645.1 L760.1 1642.5 L761.8 1640.9 L763.7 1639.9 L766 1639.2 L767.3 1639.2 L768 1637 L766.7 1634.4 L768.6 1635 L770.3 1632.7 L771.2 1630.4 L772.9 1631.4 L774.5 1629.8 L776.1 1627.5 L777.4 1625.9 L777.1 1623.6 L779.4 1622.6 L781.7 1623.3 L784 1622.3 L786.2 1621 L786.9 1619 Z M799.3 1663.4 L794.9 1654.7 L793.8 1636.7 L797.7 1625.2 M793.8 1637.6 L793.1 1635 M799.3 1663.4 L808.2 1642.8 L812.2 1626.9 M799.3 1663.4 L806.5 1656.8 L813 1649.4 L822 1631.9 M806.5 1656.8 L824 1650 L836.9 1649.4 M799.3 1663.4 L824 1664.7 L839.7 1663.4 M823.1 1665.2 L831.4 1669.3 M799.3 1663.4 L809.1 1668.2 L818.3 1671.5 L838 1673.9 M809.1 1668.2 L820 1682.2 L824.8 1693.2 M799.3 1663.4 L805.2 1686.2 L811.9 1699.3 M805.2 1686.2 L803.4 1694.3 M799.3 1663.4 L798.2 1673.5 L796.7 1684 L800.3 1701.5 M798.2 1672.6 L788.1 1687.9 L777.2 1695.5 M788.1 1687.9 L787 1687 M799.3 1663.4 L777.2 1676.1 L766.7 1685.7 M777.2 1676.1 L769.5 1676.5 M799.3 1663.4 L781.1 1666.5 L761.1 1676.1 M799.3 1663.4 L789.8 1664.5 L771.5 1660.3 L768 1660.5 M771.5 1660.3 L760.5 1653.3 M799.3 1663.4 L780.7 1649 L766.7 1640.7 M780.7 1649 L777.2 1641.3 M799.3 1663.4 L790.3 1646.8 L775 1633.4 M790.3 1646.8 L789 1644.2" fill="none" stroke="#231f20" stroke-width="2.2" stroke-linejoin="round"/>
<path d="M374.1 1800.1 L375.4 1801.3 L377.8 1802.8 L380.4 1801.5 L382.8 1801 L384.6 1800.4 L385.8 1802.4 L387.2 1803.6 L387.8 1805.5 L389.1 1803.3 L390.6 1802.1 L392 1802 L392.2 1804.6 L393.6 1804.7 L393.9 1803 L395.8 1802.1 L397.5 1802 L398.8 1803.9 L400.7 1805 L402.3 1806.1 L403.8 1804.9 L405.4 1804.2 L406.9 1805.2 L408.4 1807.6 L410 1809.5 L411.2 1812 L412.8 1814.4 L415.2 1814.7 L417.7 1815 L418.3 1817.2 L420.2 1818.1 L421.1 1820.6 L422.3 1823.1 L423.2 1825.5 L424.8 1827.4 L426.6 1829.2 L424.2 1829.2 L424.5 1831.1 L423.9 1832.9 L424.8 1834.5 L426.6 1835.4 L427.6 1836.3 L426.6 1837.9 L426.3 1840 L425.4 1840.6 L427.3 1842.2 L428.8 1843.4 L429 1845.9 L428.8 1847.4 L427 1848 L426.6 1849.6 L427.9 1851.1 L427.3 1853.6 L426.6 1855.1 L425.4 1857.6 L423.9 1858.8 L423.6 1861.3 L422 1862.9 L420.5 1864.4 L419.2 1866.9 L418.3 1869.9 L419.9 1872.1 L419.9 1873 L417.4 1874 L414.9 1875.5 L411.8 1876.4 L408.8 1876.7 L406 1876.6 L405.7 1879.2 L403.8 1881 L401.3 1882.6 L398.3 1882.9 L395.2 1883.5 L393.9 1885.4 L390.9 1885.7 L387.2 1885.7 L384.1 1884.4 L381.6 1883.8 L379.1 1884.8 L377 1885.1 L376.1 1886.6 L374.8 1885.1 L372.4 1882.6 L369.9 1881 L366.2 1879.8 L363.7 1877.3 L361.9 1874.9 L360 1873 L357.5 1872.1 L355.7 1870.6 L353.8 1868.1 L354.2 1865.6 L354.5 1863.2 L353.5 1861 L351.4 1859.1 L348.9 1857.6 L346.4 1856.7 L345.8 1854.5 L345.5 1852.1 L344.6 1849.6 L346.1 1848.4 L345.2 1846.5 L344.3 1844.7 L346.1 1842.8 L347.1 1840.9 L347.1 1838.8 L345.5 1836.6 L344.3 1834.8 L343.4 1832.9 L343.2 1831.1 L345.5 1830.8 L345.2 1829.2 L346.8 1827.4 L349.2 1826.5 L349.5 1825.5 L348 1823.1 L349.5 1821.5 L351.4 1820.6 L353.5 1820 L354.8 1820 L355.4 1817.8 L354.2 1815.3 L356 1816 L357.5 1813.8 L358.5 1811.6 L360 1812.6 L361.6 1811 L363.1 1808.9 L364.3 1807.3 L364 1805.2 L366.2 1804.2 L368.3 1804.9 L370.5 1803.9 L372.7 1802.7 L373.3 1800.8 Z M385 1842.8 L380.9 1834.5 L379.8 1817.6 L383.5 1806.7 M379.8 1818.4 L379.1 1815.9 M385 1842.8 L393.4 1823.4 L397.2 1808.3 M385 1842.8 L391.8 1836.6 L398 1829.6 L406.5 1813 M391.8 1836.6 L408.3 1830.1 L420.6 1829.6 M385 1842.8 L408.3 1844 L423.2 1842.8 M407.5 1844.5 L415.3 1848.3 M385 1842.8 L394.3 1847.3 L402.9 1850.5 L421.6 1852.7 M394.3 1847.3 L404.6 1860.6 L409.1 1870.9 M385 1842.8 L390.5 1864.3 L396.9 1876.7 M390.5 1864.3 L388.9 1872 M385 1842.8 L383.9 1852.3 L382.5 1862.2 L386 1878.8 M383.9 1851.5 L374.4 1866 L364.1 1873.1 M374.4 1866 L373.4 1865.1 M385 1842.8 L364.1 1854.8 L354.2 1863.9 M364.1 1854.8 L356.9 1855.2 M385 1842.8 L367.8 1845.7 L348.9 1854.8 M385 1842.8 L376.1 1843.9 L358.7 1839.9 L355.4 1840.1 M358.7 1839.9 L348.4 1833.3 M385 1842.8 L367.4 1829.2 L354.2 1821.3 M367.4 1829.2 L364.1 1821.9 M385 1842.8 L376.5 1827.1 L362 1814.4 M376.5 1827.1 L375.2 1824.6" fill="none" stroke="#231f20" stroke-width="2.2" stroke-linejoin="round"/>
<path d="M518.1 1928.9 L519.4 1930.1 L521.8 1931.6 L524.4 1930.3 L526.8 1929.8 L528.6 1929.2 L529.8 1931.2 L531.2 1932.4 L531.8 1934.3 L533.1 1932.1 L534.6 1930.9 L536 1930.8 L536.2 1933.4 L537.6 1933.5 L537.9 1931.8 L539.8 1930.9 L541.5 1930.8 L542.8 1932.7 L544.7 1933.8 L546.3 1934.9 L547.8 1933.7 L549.4 1933 L550.9 1934 L552.4 1936.4 L554 1938.3 L555.2 1940.8 L556.8 1943.2 L559.2 1943.5 L561.7 1943.8 L562.3 1946 L564.2 1946.9 L565.1 1949.4 L566.3 1951.9 L567.2 1954.3 L568.8 1956.2 L570.6 1958 L568.2 1958 L568.5 1959.9 L567.9 1961.7 L568.8 1963.3 L570.6 1964.2 L571.6 1965.1 L570.6 1966.7 L570.3 1968.8 L569.4 1969.4 L571.3 1971 L572.8 1972.2 L573 1974.7 L572.8 1976.2 L571 1976.8 L570.6 1978.4 L571.9 1979.9 L571.3 1982.4 L570.6 1983.9 L569.4 1986.4 L567.9 1987.6 L567.6 1990.1 L566 1991.7 L564.5 1993.2 L563.2 1995.7 L562.3 1998.7 L563.9 2000.9 L563.9 2001.8 L561.4 2002.8 L558.9 2004.3 L555.8 2005.2 L552.8 2005.5 L550 2005.4 L549.7 2008 L547.8 2009.8 L545.3 2011.4 L542.3 2011.7 L539.2 2012.3 L537.9 2014.2 L534.9 2014.5 L531.2 2014.5 L528.1 2013.2 L525.6 2012.6 L523.1 2013.6 L521 2013.9 L520.1 2015.4 L518.8 2013.9 L516.4 2011.4 L513.9 2009.8 L510.2 2008.6 L507.7 2006.1 L505.9 2003.7 L504 2001.8 L501.5 2000.9 L499.7 1999.4 L497.8 1996.9 L498.2 1994.4 L498.5 1992 L497.5 1989.8 L495.4 1987.9 L492.9 1986.4 L490.4 1985.5 L489.8 1983.3 L489.5 1980.9 L488.6 1978.4 L490.1 1977.2 L489.2 1975.3 L488.3 1973.5 L490.1 1971.6 L491.1 1969.7 L491.1 1967.6 L489.5 1965.4 L488.3 1963.6 L487.4 1961.7 L487.2 1959.9 L489.5 1959.6 L489.2 1958 L490.8 1956.2 L493.2 1955.3 L493.5 1954.3 L492 1951.9 L493.5 1950.3 L495.4 1949.4 L497.5 1948.8 L498.8 1948.8 L499.4 1946.6 L498.2 1944.1 L500 1944.8 L501.5 1942.6 L502.5 1940.4 L504 1941.4 L505.6 1939.8 L507.1 1937.7 L508.3 1936.1 L508 1934 L510.2 1933 L512.3 1933.7 L514.5 1932.7 L516.7 1931.5 L517.3 1929.6 Z M529 1971.6 L524.9 1963.3 L523.8 1946.4 L527.5 1935.5 M523.8 1947.2 L523.1 1944.7 M529 1971.6 L537.4 1952.2 L541.2 1937.1 M529 1971.6 L535.8 1965.4 L542 1958.4 L550.5 1941.8 M535.8 1965.4 L552.3 1958.9 L564.6 1958.4 M529 1971.6 L552.3 1972.8 L567.2 1971.6 M551.5 1973.3 L559.3 1977.1 M529 1971.6 L538.3 1976.1 L546.9 1979.3 L565.5 1981.5 M538.3 1976.1 L548.6 1989.4 L553.1 1999.7 M529 1971.6 L534.5 1993.1 L540.9 2005.5 M534.5 1993.1 L532.9 2000.8 M529 1971.6 L527.9 1981.1 L526.5 1991 L530 2007.6 M527.9 1980.3 L518.4 1994.8 L508.1 2001.9 M518.4 1994.8 L517.4 1993.9 M529 1971.6 L508.1 1983.6 L498.2 1992.7 M508.1 1983.6 L500.9 1984 M529 1971.6 L511.8 1974.5 L492.9 1983.6 M529 1971.6 L520.1 1972.7 L502.7 1968.7 L499.4 1968.9 M502.7 1968.7 L492.4 1962.1 M529 1971.6 L511.4 1958 L498.2 1950.1 M511.4 1958 L508.1 1950.7 M529 1971.6 L520.5 1955.9 L506 1943.2 M520.5 1955.9 L519.2 1953.4" fill="none" stroke="#231f20" stroke-width="2.2" stroke-linejoin="round"/>
<path d="M664.7 1959.5 L665.9 1960.5 L667.9 1961.8 L670.1 1960.6 L672.2 1960.2 L673.6 1959.7 L674.7 1961.4 L675.8 1962.5 L676.4 1964 L677.5 1962.2 L678.7 1961.1 L679.9 1961 L680.1 1963.2 L681.4 1963.3 L681.6 1961.9 L683.2 1961.1 L684.7 1961 L685.7 1962.7 L687.4 1963.7 L688.7 1964.6 L690 1963.5 L691.3 1963 L692.6 1963.8 L694 1965.9 L695.3 1967.4 L696.3 1969.5 L697.6 1971.6 L699.7 1971.9 L701.8 1972.2 L702.4 1974 L703.9 1974.8 L704.7 1976.9 L705.8 1979 L706.6 1981.1 L707.9 1982.7 L709.4 1984.2 L707.3 1984.2 L707.6 1985.8 L707.1 1987.4 L707.9 1988.7 L709.4 1989.5 L710.2 1990.3 L709.4 1991.6 L709.2 1993.4 L708.4 1994 L710 1995.3 L711.3 1996.3 L711.4 1998.4 L711.3 1999.7 L709.7 2000.3 L709.4 2001.6 L710.5 2002.9 L710 2005 L709.4 2006.3 L708.4 2008.4 L707.1 2009.5 L706.8 2011.6 L705.5 2012.9 L704.2 2014.2 L703.1 2016.3 L702.4 2018.9 L703.7 2020.7 L703.7 2021.5 L701.6 2022.3 L699.5 2023.6 L696.8 2024.4 L694.2 2024.7 L691.9 2024.6 L691.6 2026.8 L690 2028.4 L687.9 2029.7 L685.3 2029.9 L682.7 2030.5 L681.6 2032 L679 2032.3 L675.8 2032.3 L673.2 2031.2 L671.1 2030.7 L669 2031.5 L667.2 2031.8 L666.4 2033.1 L665.3 2031.8 L663.2 2029.7 L661.1 2028.4 L658 2027.3 L655.9 2025.2 L654.3 2023.1 L652.7 2021.5 L650.6 2020.7 L649.1 2019.4 L647.5 2017.3 L647.7 2015.2 L648 2013.1 L647.2 2011.3 L645.4 2009.7 L643.3 2008.4 L641.2 2007.6 L640.7 2005.8 L640.4 2003.7 L639.6 2001.6 L640.9 2000.5 L640.1 1999 L639.3 1997.4 L640.9 1995.8 L641.7 1994.2 L641.7 1992.4 L640.4 1990.5 L639.3 1989 L638.6 1987.4 L638.5 1985.8 L640.4 1985.6 L640.1 1984.2 L641.4 1982.7 L643.5 1981.9 L643.8 1981.1 L642.5 1979 L643.8 1977.7 L645.4 1976.9 L647.2 1976.4 L648.3 1976.4 L648.8 1974.5 L647.7 1972.4 L649.3 1973 L650.6 1971.1 L651.4 1969.3 L652.7 1970.1 L654 1968.8 L655.4 1966.9 L656.4 1965.6 L656.1 1963.8 L658 1963 L659.8 1963.5 L661.7 1962.7 L663.5 1961.7 L664 1960.1 Z M674 1995.8 L670.5 1988.8 L669.6 1974.3 L672.7 1965 M669.6 1975 L669 1972.9 M674 1995.8 L681.2 1979.3 L684.3 1966.4 M674 1995.8 L679.8 1990.5 L685.1 1984.5 L692.3 1970.5 M679.8 1990.5 L693.8 1985 L704.3 1984.5 M674 1995.8 L693.8 1996.9 L706.5 1995.8 M693.1 1997.2 L699.8 2000.5 M674 1995.8 L681.9 1999.7 L689.3 2002.3 L705.1 2004.2 M681.9 1999.7 L690.7 2010.9 L694.6 2019.7 M674 1995.8 L678.7 2014.1 L684.1 2024.7 M678.7 2014.1 L677.3 2020.6 M674 1995.8 L673.1 2003.9 L671.9 2012.3 L674.8 2026.4 M673.1 2003.2 L665 2015.5 L656.2 2021.6 M665 2015.5 L664.1 2014.8 M674 1995.8 L656.2 2006 L647.7 2013.7 M656.2 2006 L650.1 2006.4 M674 1995.8 L659.4 1998.3 L643.3 2006 M674 1995.8 L666.4 1996.7 L651.6 1993.3 L648.8 1993.5 M651.6 1993.3 L642.8 1987.7 M674 1995.8 L659 1984.2 L647.7 1977.5 M659 1984.2 L656.2 1978 M674 1995.8 L666.8 1982.4 L654.4 1971.7 M666.8 1982.4 L665.7 1980.3" fill="none" stroke="#231f20" stroke-width="2.2" stroke-linejoin="round"/>
<path d="M194.7 1764.2 L196.1 1765.3 L198.1 1764.6 L199.3 1765.1 L200.1 1766.3 L201.2 1765 L201.9 1766 L202.5 1765.4 L204 1765 L205.2 1766.2 L206.4 1766.1 L207.7 1766.2 L208.9 1767.9 L210 1769.9 L211.9 1770.1 L212.9 1771.3 L213.8 1773.3 L214.7 1775 L214.5 1775.7 L214.4 1777.2 L215.5 1778.2 L215.5 1779.1 L215 1780.2 L216.3 1781.3 L216.3 1782.9 L215.5 1783.8 L215.7 1785.4 L215 1787 L214.2 1788.4 L213 1789.6 L212.2 1791.8 L212.8 1793.1 L210.8 1794 L208.4 1794.5 L207.2 1795.5 L205.5 1796.8 L203 1797.2 L201.3 1798.1 L198.6 1797.6 L196.7 1797.7 L195.5 1798.4 L194 1796.8 L191.6 1795.7 L189.9 1793.8 L188.1 1792.7 L186.7 1791.1 L186.9 1789.1 L185.7 1787.6 L183.8 1786.6 L183.4 1784.8 L183.6 1783.3 L182.9 1781.8 L184 1780.4 L183.4 1778.7 L182.5 1777.2 L183.4 1776.3 L183.9 1775 L185 1774.3 L185 1772.7 L186.6 1772.1 L187.3 1771.2 L187.5 1770.5 L188.5 1768.8 L189.7 1768.5 L190.8 1767.1 L191.6 1765.9 L193.3 1765.7 L194.4 1764.5 Z M199 1781.1 L197.4 1777.8 L196.9 1771.1 L198.4 1766.8 M196.9 1771.5 L196.7 1770.5 M199 1781.1 L202.3 1773.4 L203.8 1767.5 M199 1781.1 L201.7 1778.6 L204.1 1775.9 L207.5 1769.3 M201.7 1778.6 L208.2 1776.1 L213.1 1775.9 M199 1781.1 L208.2 1781.6 L214.1 1781.1 M207.9 1781.8 L211 1783.3 M199 1781.1 L202.7 1782.9 L206.1 1784.1 L213.4 1785 M202.7 1782.9 L206.7 1788.1 L208.5 1792.2 M199 1781.1 L201.2 1789.6 L203.7 1794.5 M201.2 1789.6 L200.5 1792.6 M199 1781.1 L198.6 1784.9 L198 1788.8 L199.4 1795.3 M198.6 1784.5 L194.8 1790.3 L190.7 1793.1 M194.8 1790.3 L194.4 1789.9 M199 1781.1 L190.7 1785.8 L186.8 1789.4 M190.7 1785.8 L187.9 1786 M199 1781.1 L192.2 1782.2 L184.7 1785.8 M199 1781.1 L195.5 1781.5 L188.6 1780 L187.3 1780 M188.6 1780 L184.5 1777.3 M199 1781.1 L192 1775.7 L186.8 1772.6 M192 1775.7 L190.7 1772.8 M199 1781.1 L195.6 1774.9 L189.9 1769.9 M195.6 1774.9 L195.1 1773.9" fill="none" stroke="#231f20" stroke-width="2.2" stroke-linejoin="round"/>
<path d="M194.7 1829.4 L196.1 1830.5 L198.1 1829.8 L199.3 1830.3 L200.1 1831.5 L201.2 1830.2 L201.9 1831.2 L202.5 1830.6 L204 1830.2 L205.2 1831.4 L206.4 1831.3 L207.7 1831.4 L208.9 1833.1 L210 1835.1 L211.9 1835.3 L212.9 1836.5 L213.8 1838.5 L214.7 1840.2 L214.5 1840.9 L214.4 1842.4 L215.5 1843.4 L215.5 1844.3 L215 1845.4 L216.3 1846.5 L216.3 1848.1 L215.5 1849 L215.7 1850.6 L215 1852.2 L214.2 1853.6 L213 1854.8 L212.2 1857 L212.8 1858.3 L210.8 1859.2 L208.4 1859.7 L207.2 1860.7 L205.5 1862 L203 1862.4 L201.3 1863.3 L198.6 1862.8 L196.7 1862.9 L195.5 1863.6 L194 1862 L191.6 1860.9 L189.9 1859 L188.1 1857.9 L186.7 1856.3 L186.9 1854.3 L185.7 1852.8 L183.8 1851.8 L183.4 1850 L183.6 1848.5 L182.9 1847 L184 1845.6 L183.4 1843.9 L182.5 1842.4 L183.4 1841.5 L183.9 1840.2 L185 1839.5 L185 1837.9 L186.6 1837.3 L187.3 1836.4 L187.5 1835.7 L188.5 1834 L189.7 1833.7 L190.8 1832.3 L191.6 1831.1 L193.3 1830.9 L194.4 1829.7 Z M199 1846.3 L197.4 1843 L196.9 1836.3 L198.4 1832 M196.9 1836.7 L196.7 1835.7 M199 1846.3 L202.3 1838.6 L203.8 1832.7 M199 1846.3 L201.7 1843.8 L204.1 1841.1 L207.5 1834.5 M201.7 1843.8 L208.2 1841.3 L213.1 1841.1 M199 1846.3 L208.2 1846.8 L214.1 1846.3 M207.9 1847 L211 1848.5 M199 1846.3 L202.7 1848.1 L206.1 1849.3 L213.4 1850.2 M202.7 1848.1 L206.7 1853.3 L208.5 1857.4 M199 1846.3 L201.2 1854.8 L203.7 1859.7 M201.2 1854.8 L200.5 1857.8 M199 1846.3 L198.6 1850.1 L198 1854 L199.4 1860.5 M198.6 1849.7 L194.8 1855.5 L190.7 1858.3 M194.8 1855.5 L194.4 1855.1 M199 1846.3 L190.7 1851 L186.8 1854.6 M190.7 1851 L187.9 1851.2 M199 1846.3 L192.2 1847.4 L184.7 1851 M199 1846.3 L195.5 1846.7 L188.6 1845.2 L187.3 1845.2 M188.6 1845.2 L184.5 1842.5 M199 1846.3 L192 1840.9 L186.8 1837.8 M192 1840.9 L190.7 1838 M199 1846.3 L195.6 1840.1 L189.9 1835.1 M195.6 1840.1 L195.1 1839.1" fill="none" stroke="#231f20" stroke-width="2.2" stroke-linejoin="round"/>
<path d="M374.1 1755.6 L375.5 1756.7 L377.5 1756 L378.7 1756.5 L379.5 1757.7 L380.6 1756.4 L381.3 1757.4 L381.9 1756.8 L383.4 1756.4 L384.6 1757.6 L385.8 1757.5 L387.1 1757.6 L388.3 1759.3 L389.4 1761.3 L391.3 1761.5 L392.3 1762.7 L393.2 1764.7 L394.1 1766.4 L393.9 1767.1 L393.8 1768.6 L394.9 1769.6 L394.9 1770.5 L394.4 1771.6 L395.7 1772.7 L395.7 1774.3 L394.9 1775.2 L395.1 1776.8 L394.4 1778.4 L393.6 1779.8 L392.4 1781 L391.6 1783.2 L392.2 1784.5 L390.2 1785.4 L387.8 1785.9 L386.6 1786.9 L384.9 1788.2 L382.4 1788.6 L380.7 1789.5 L378 1789 L376.1 1789.1 L374.9 1789.8 L373.4 1788.2 L371 1787.1 L369.3 1785.2 L367.5 1784.1 L366.1 1782.5 L366.3 1780.5 L365.1 1779 L363.2 1778 L362.8 1776.2 L363 1774.7 L362.3 1773.2 L363.4 1771.8 L362.8 1770.1 L361.9 1768.6 L362.8 1767.7 L363.3 1766.4 L364.4 1765.7 L364.4 1764.1 L366 1763.5 L366.7 1762.6 L366.9 1761.9 L367.9 1760.2 L369.1 1759.9 L370.2 1758.5 L371 1757.3 L372.7 1757.1 L373.8 1755.9 Z M378.4 1772.5 L376.8 1769.2 L376.3 1762.5 L377.8 1758.2 M376.3 1762.9 L376.1 1761.9 M378.4 1772.5 L381.7 1764.8 L383.2 1758.9 M378.4 1772.5 L381.1 1770 L383.5 1767.3 L386.9 1760.7 M381.1 1770 L387.6 1767.5 L392.5 1767.3 M378.4 1772.5 L387.6 1773 L393.5 1772.5 M387.3 1773.2 L390.4 1774.7 M378.4 1772.5 L382.1 1774.3 L385.5 1775.5 L392.8 1776.4 M382.1 1774.3 L386.1 1779.5 L387.9 1783.6 M378.4 1772.5 L380.6 1781 L383.1 1785.9 M380.6 1781 L379.9 1784 M378.4 1772.5 L378 1776.3 L377.4 1780.2 L378.8 1786.7 M378 1775.9 L374.2 1781.7 L370.1 1784.5 M374.2 1781.7 L373.8 1781.3 M378.4 1772.5 L370.1 1777.2 L366.2 1780.8 M370.1 1777.2 L367.3 1777.4 M378.4 1772.5 L371.6 1773.6 L364.1 1777.2 M378.4 1772.5 L374.9 1772.9 L368 1771.4 L366.7 1771.4 M368 1771.4 L363.9 1768.7 M378.4 1772.5 L371.4 1767.1 L366.2 1764 M371.4 1767.1 L370.1 1764.2 M378.4 1772.5 L375 1766.3 L369.3 1761.3 M375 1766.3 L374.5 1765.3" fill="none" stroke="#231f20" stroke-width="2.2" stroke-linejoin="round"/>
<path d="M315 1777.9 L316.4 1779 L318.4 1778.3 L319.6 1778.8 L320.4 1780 L321.5 1778.7 L322.2 1779.7 L322.8 1779.1 L324.3 1778.7 L325.5 1779.9 L326.7 1779.8 L328 1779.9 L329.2 1781.6 L330.3 1783.6 L332.2 1783.8 L333.2 1785 L334.1 1787 L335 1788.7 L334.8 1789.4 L334.7 1790.9 L335.8 1791.9 L335.8 1792.8 L335.3 1793.9 L336.6 1795 L336.6 1796.6 L335.8 1797.5 L336 1799.1 L335.3 1800.7 L334.5 1802.1 L333.3 1803.3 L332.5 1805.5 L333.1 1806.8 L331.1 1807.7 L328.7 1808.2 L327.5 1809.2 L325.8 1810.5 L323.3 1810.9 L321.6 1811.8 L318.9 1811.3 L317 1811.4 L315.8 1812.1 L314.3 1810.5 L311.9 1809.4 L310.2 1807.5 L308.4 1806.4 L307 1804.8 L307.2 1802.8 L306 1801.3 L304.1 1800.3 L303.7 1798.5 L303.9 1797 L303.2 1795.5 L304.3 1794.1 L303.7 1792.4 L302.8 1790.9 L303.7 1790 L304.2 1788.7 L305.3 1788 L305.3 1786.4 L306.9 1785.8 L307.6 1784.9 L307.8 1784.2 L308.8 1782.5 L310 1782.2 L311.1 1780.8 L311.9 1779.6 L313.6 1779.4 L314.7 1778.2 Z M319.3 1794.8 L317.7 1791.5 L317.2 1784.8 L318.7 1780.5 M317.2 1785.2 L317 1784.2 M319.3 1794.8 L322.6 1787.1 L324.1 1781.2 M319.3 1794.8 L322 1792.3 L324.4 1789.6 L327.8 1783 M322 1792.3 L328.5 1789.8 L333.4 1789.6 M319.3 1794.8 L328.5 1795.3 L334.4 1794.8 M328.2 1795.5 L331.3 1797 M319.3 1794.8 L323 1796.6 L326.4 1797.8 L333.8 1798.7 M323 1796.6 L327 1801.8 L328.8 1805.9 M319.3 1794.8 L321.5 1803.3 L324 1808.2 M321.5 1803.3 L320.8 1806.3 M319.3 1794.8 L318.9 1798.6 L318.3 1802.5 L319.7 1809 M318.9 1798.2 L315.1 1804 L311 1806.8 M315.1 1804 L314.7 1803.6 M319.3 1794.8 L311 1799.5 L307.1 1803.1 M311 1799.5 L308.2 1799.7 M319.3 1794.8 L312.5 1795.9 L305 1799.5 M319.3 1794.8 L315.8 1795.2 L308.9 1793.7 L307.6 1793.7 M308.9 1793.7 L304.8 1791 M319.3 1794.8 L312.3 1789.4 L307.1 1786.3 M312.3 1789.4 L311 1786.5 M319.3 1794.8 L315.9 1788.6 L310.2 1783.6 M315.9 1788.6 L315.4 1787.6" fill="none" stroke="#231f20" stroke-width="2.2" stroke-linejoin="round"/>
<path d="M313 1854.7 L314.4 1855.8 L316.4 1855.1 L317.6 1855.6 L318.4 1856.8 L319.5 1855.5 L320.2 1856.5 L320.8 1855.9 L322.3 1855.5 L323.5 1856.7 L324.7 1856.6 L326 1856.7 L327.2 1858.4 L328.3 1860.4 L330.2 1860.6 L331.2 1861.8 L332.1 1863.8 L333 1865.5 L332.8 1866.2 L332.7 1867.7 L333.8 1868.7 L333.8 1869.6 L333.3 1870.7 L334.6 1871.8 L334.6 1873.4 L333.8 1874.3 L334 1875.9 L333.3 1877.5 L332.5 1878.9 L331.3 1880.1 L330.5 1882.3 L331.1 1883.6 L329.1 1884.5 L326.7 1885 L325.5 1886 L323.8 1887.3 L321.3 1887.7 L319.6 1888.6 L316.9 1888.1 L315 1888.2 L313.8 1888.9 L312.3 1887.3 L309.9 1886.2 L308.2 1884.3 L306.4 1883.2 L305 1881.6 L305.2 1879.6 L304 1878.1 L302.1 1877.1 L301.7 1875.3 L301.9 1873.8 L301.2 1872.3 L302.3 1870.9 L301.7 1869.2 L300.8 1867.7 L301.7 1866.8 L302.2 1865.5 L303.3 1864.8 L303.3 1863.2 L304.9 1862.6 L305.6 1861.7 L305.8 1861 L306.8 1859.3 L308 1859 L309.1 1857.6 L309.9 1856.4 L311.6 1856.2 L312.7 1855 Z M317.3 1871.6 L315.7 1868.3 L315.2 1861.6 L316.7 1857.3 M315.2 1862 L315 1861 M317.3 1871.6 L320.6 1863.9 L322.1 1858 M317.3 1871.6 L320 1869.1 L322.4 1866.4 L325.8 1859.8 M320 1869.1 L326.5 1866.6 L331.4 1866.4 M317.3 1871.6 L326.5 1872.1 L332.4 1871.6 M326.2 1872.3 L329.3 1873.8 M317.3 1871.6 L321 1873.4 L324.4 1874.6 L331.8 1875.5 M321 1873.4 L325 1878.6 L326.8 1882.7 M317.3 1871.6 L319.5 1880.1 L322 1885 M319.5 1880.1 L318.8 1883.1 M317.3 1871.6 L316.9 1875.4 L316.3 1879.3 L317.7 1885.8 M316.9 1875 L313.1 1880.8 L309 1883.6 M313.1 1880.8 L312.7 1880.4 M317.3 1871.6 L309 1876.3 L305.1 1879.9 M309 1876.3 L306.2 1876.5 M317.3 1871.6 L310.5 1872.7 L303 1876.3 M317.3 1871.6 L313.8 1872 L306.9 1870.5 L305.6 1870.5 M306.9 1870.5 L302.8 1867.8 M317.3 1871.6 L310.3 1866.2 L305.1 1863.1 M310.3 1866.2 L309 1863.3 M317.3 1871.6 L313.9 1865.4 L308.2 1860.4 M313.9 1865.4 L313.4 1864.4" fill="none" stroke="#231f20" stroke-width="2.2" stroke-linejoin="round"/>
<path d="M549.9 1841 L551.3 1842.1 L553.3 1841.4 L554.5 1841.9 L555.3 1843.1 L556.4 1841.8 L557.1 1842.8 L557.7 1842.2 L559.2 1841.8 L560.4 1843 L561.6 1842.9 L562.9 1843 L564.1 1844.7 L565.2 1846.7 L567.1 1846.9 L568.1 1848.1 L569 1850.1 L569.9 1851.8 L569.7 1852.5 L569.6 1854 L570.7 1855 L570.7 1855.9 L570.2 1857 L571.5 1858.1 L571.5 1859.7 L570.7 1860.6 L570.9 1862.2 L570.2 1863.8 L569.4 1865.2 L568.2 1866.4 L567.4 1868.6 L568 1869.9 L566 1870.8 L563.6 1871.3 L562.4 1872.3 L560.7 1873.6 L558.2 1874 L556.5 1874.9 L553.8 1874.4 L551.9 1874.5 L550.7 1875.2 L549.2 1873.6 L546.8 1872.5 L545.1 1870.6 L543.3 1869.5 L541.9 1867.9 L542.1 1865.9 L540.9 1864.4 L539 1863.4 L538.6 1861.6 L538.8 1860.1 L538.1 1858.6 L539.2 1857.2 L538.6 1855.5 L537.7 1854 L538.6 1853.1 L539.1 1851.8 L540.2 1851.1 L540.2 1849.5 L541.8 1848.9 L542.5 1848 L542.7 1847.3 L543.7 1845.6 L544.9 1845.3 L546 1843.9 L546.8 1842.7 L548.5 1842.5 L549.6 1841.3 Z M554.2 1857.9 L552.6 1854.6 L552.1 1847.9 L553.6 1843.6 M552.1 1848.3 L551.9 1847.3 M554.2 1857.9 L557.5 1850.2 L559 1844.3 M554.2 1857.9 L556.9 1855.4 L559.3 1852.7 L562.7 1846.1 M556.9 1855.4 L563.4 1852.9 L568.3 1852.7 M554.2 1857.9 L563.4 1858.4 L569.3 1857.9 M563.1 1858.6 L566.2 1860.1 M554.2 1857.9 L557.9 1859.7 L561.3 1860.9 L568.7 1861.8 M557.9 1859.7 L561.9 1864.9 L563.7 1869 M554.2 1857.9 L556.4 1866.4 L558.9 1871.3 M556.4 1866.4 L555.7 1869.4 M554.2 1857.9 L553.8 1861.7 L553.2 1865.6 L554.6 1872.1 M553.8 1861.3 L550 1867.1 L545.9 1869.9 M550 1867.1 L549.6 1866.7 M554.2 1857.9 L545.9 1862.6 L542 1866.2 M545.9 1862.6 L543.1 1862.8 M554.2 1857.9 L547.4 1859 L539.9 1862.6 M554.2 1857.9 L550.7 1858.3 L543.8 1856.8 L542.5 1856.8 M543.8 1856.8 L539.7 1854.1 M554.2 1857.9 L547.2 1852.5 L542 1849.4 M547.2 1852.5 L545.9 1849.6 M554.2 1857.9 L550.8 1851.7 L545.1 1846.7 M550.8 1851.7 L550.3 1850.7" fill="none" stroke="#231f20" stroke-width="2.2" stroke-linejoin="round"/>
<path d="M212.9 1976.4 L214.3 1977.5 L216.3 1976.8 L217.5 1977.3 L218.3 1978.5 L219.4 1977.2 L220.1 1978.2 L220.7 1977.6 L222.2 1977.2 L223.4 1978.4 L224.6 1978.3 L225.9 1978.4 L227.1 1980.1 L228.2 1982.1 L230.1 1982.3 L231.1 1983.5 L232 1985.5 L232.9 1987.2 L232.7 1987.9 L232.6 1989.4 L233.7 1990.4 L233.7 1991.3 L233.2 1992.4 L234.5 1993.5 L234.5 1995.1 L233.7 1996 L233.9 1997.6 L233.2 1999.2 L232.4 2000.6 L231.2 2001.8 L230.4 2004 L231 2005.3 L229 2006.2 L226.6 2006.7 L225.4 2007.7 L223.7 2009 L221.2 2009.4 L219.5 2010.3 L216.8 2009.8 L214.9 2009.9 L213.7 2010.6 L212.2 2009 L209.8 2007.9 L208.1 2006 L206.3 2004.9 L204.9 2003.3 L205.1 2001.3 L203.9 1999.8 L202 1998.8 L201.6 1997 L201.8 1995.5 L201.1 1994 L202.2 1992.6 L201.6 1990.9 L200.7 1989.4 L201.6 1988.5 L202.1 1987.2 L203.2 1986.5 L203.2 1984.9 L204.8 1984.3 L205.5 1983.4 L205.7 1982.7 L206.7 1981 L207.9 1980.7 L209 1979.3 L209.8 1978.1 L211.5 1977.9 L212.6 1976.7 Z M217.2 1993.3 L215.6 1990 L215.1 1983.3 L216.6 1979 M215.1 1983.7 L214.9 1982.7 M217.2 1993.3 L220.5 1985.6 L222 1979.7 M217.2 1993.3 L219.9 1990.8 L222.3 1988.1 L225.7 1981.5 M219.9 1990.8 L226.4 1988.3 L231.3 1988.1 M217.2 1993.3 L226.4 1993.8 L232.3 1993.3 M226.1 1994 L229.2 1995.5 M217.2 1993.3 L220.9 1995.1 L224.3 1996.3 L231.6 1997.2 M220.9 1995.1 L224.9 2000.3 L226.7 2004.4 M217.2 1993.3 L219.4 2001.8 L221.9 2006.7 M219.4 2001.8 L218.7 2004.8 M217.2 1993.3 L216.8 1997.1 L216.2 2001 L217.6 2007.5 M216.8 1996.7 L213 2002.5 L208.9 2005.3 M213 2002.5 L212.6 2002.1 M217.2 1993.3 L208.9 1998 L205 2001.6 M208.9 1998 L206.1 1998.2 M217.2 1993.3 L210.4 1994.4 L202.9 1998 M217.2 1993.3 L213.7 1993.7 L206.8 1992.2 L205.5 1992.2 M206.8 1992.2 L202.7 1989.5 M217.2 1993.3 L210.2 1987.9 L205 1984.8 M210.2 1987.9 L208.9 1985 M217.2 1993.3 L213.8 1987.1 L208.1 1982.1 M213.8 1987.1 L213.3 1986.1" fill="none" stroke="#231f20" stroke-width="2.2" stroke-linejoin="round"/>
<path d="M311.4 1984 L312.8 1985.1 L314.8 1984.4 L316 1984.9 L316.8 1986.1 L317.9 1984.8 L318.6 1985.8 L319.2 1985.2 L320.7 1984.8 L321.9 1986 L323.1 1985.9 L324.4 1986 L325.6 1987.7 L326.7 1989.7 L328.6 1989.9 L329.6 1991.1 L330.5 1993.1 L331.4 1994.8 L331.2 1995.5 L331.1 1997 L332.2 1998 L332.2 1998.9 L331.7 2000 L333 2001.1 L333 2002.7 L332.2 2003.6 L332.4 2005.2 L331.7 2006.8 L330.9 2008.2 L329.7 2009.4 L328.9 2011.6 L329.5 2012.9 L327.5 2013.8 L325.1 2014.3 L323.9 2015.3 L322.2 2016.6 L319.7 2017 L318 2017.9 L315.3 2017.4 L313.4 2017.5 L312.2 2018.2 L310.7 2016.6 L308.3 2015.5 L306.6 2013.6 L304.8 2012.5 L303.4 2010.9 L303.6 2008.9 L302.4 2007.4 L300.5 2006.4 L300.1 2004.6 L300.3 2003.1 L299.6 2001.6 L300.7 2000.2 L300.1 1998.5 L299.2 1997 L300.1 1996.1 L300.6 1994.8 L301.7 1994.1 L301.7 1992.5 L303.3 1991.9 L304 1991 L304.2 1990.3 L305.2 1988.6 L306.4 1988.3 L307.5 1986.9 L308.3 1985.7 L310 1985.5 L311.1 1984.3 Z M315.7 2000.9 L314.1 1997.6 L313.6 1990.9 L315.1 1986.6 M313.6 1991.3 L313.4 1990.3 M315.7 2000.9 L319 1993.2 L320.5 1987.3 M315.7 2000.9 L318.4 1998.4 L320.8 1995.7 L324.2 1989.1 M318.4 1998.4 L324.9 1995.9 L329.8 1995.7 M315.7 2000.9 L324.9 2001.4 L330.8 2000.9 M324.6 2001.6 L327.7 2003.1 M315.7 2000.9 L319.4 2002.7 L322.8 2003.9 L330.1 2004.8 M319.4 2002.7 L323.4 2007.9 L325.2 2012 M315.7 2000.9 L317.9 2009.4 L320.4 2014.3 M317.9 2009.4 L317.2 2012.4 M315.7 2000.9 L315.3 2004.7 L314.7 2008.6 L316.1 2015.1 M315.3 2004.3 L311.5 2010.1 L307.4 2012.9 M311.5 2010.1 L311.1 2009.7 M315.7 2000.9 L307.4 2005.6 L303.5 2009.2 M307.4 2005.6 L304.6 2005.8 M315.7 2000.9 L308.9 2002 L301.4 2005.6 M315.7 2000.9 L312.2 2001.3 L305.3 1999.8 L304 1999.8 M305.3 1999.8 L301.2 1997.1 M315.7 2000.9 L308.7 1995.5 L303.5 1992.4 M308.7 1995.5 L307.4 1992.6 M315.7 2000.9 L312.3 1994.7 L306.6 1989.7 M312.3 1994.7 L311.8 1993.7" fill="none" stroke="#231f20" stroke-width="2.2" stroke-linejoin="round"/>
<path d="M265.5 2029 L266.9 2030.1 L268.9 2029.4 L270.1 2029.9 L270.9 2031.1 L272 2029.8 L272.7 2030.8 L273.3 2030.2 L274.8 2029.8 L276 2031 L277.2 2030.9 L278.5 2031 L279.7 2032.7 L280.8 2034.7 L282.7 2034.9 L283.7 2036.1 L284.6 2038.1 L285.5 2039.8 L285.3 2040.5 L285.2 2042 L286.3 2043 L286.3 2043.9 L285.8 2045 L287.1 2046.1 L287.1 2047.7 L286.3 2048.6 L286.5 2050.2 L285.8 2051.8 L285 2053.2 L283.8 2054.4 L283 2056.6 L283.6 2057.9 L281.6 2058.8 L279.2 2059.3 L278 2060.3 L276.3 2061.6 L273.8 2062 L272.1 2062.9 L269.4 2062.4 L267.5 2062.5 L266.3 2063.2 L264.8 2061.6 L262.4 2060.5 L260.7 2058.6 L258.9 2057.5 L257.5 2055.9 L257.7 2053.9 L256.5 2052.4 L254.6 2051.4 L254.2 2049.6 L254.4 2048.1 L253.7 2046.6 L254.8 2045.2 L254.2 2043.5 L253.3 2042 L254.2 2041.1 L254.7 2039.8 L255.8 2039.1 L255.8 2037.5 L257.4 2036.9 L258.1 2036 L258.3 2035.3 L259.3 2033.6 L260.5 2033.3 L261.6 2031.9 L262.4 2030.7 L264.1 2030.5 L265.2 2029.3 Z M269.8 2045.9 L268.2 2042.6 L267.7 2035.9 L269.2 2031.6 M267.7 2036.3 L267.5 2035.3 M269.8 2045.9 L273.1 2038.2 L274.6 2032.3 M269.8 2045.9 L272.5 2043.4 L274.9 2040.7 L278.3 2034.1 M272.5 2043.4 L279 2040.9 L283.9 2040.7 M269.8 2045.9 L279 2046.4 L284.9 2045.9 M278.7 2046.6 L281.8 2048.1 M269.8 2045.9 L273.5 2047.7 L276.9 2048.9 L284.2 2049.8 M273.5 2047.7 L277.5 2052.9 L279.3 2057 M269.8 2045.9 L272 2054.4 L274.5 2059.3 M272 2054.4 L271.3 2057.4 M269.8 2045.9 L269.4 2049.7 L268.8 2053.6 L270.2 2060.1 M269.4 2049.3 L265.6 2055.1 L261.5 2057.9 M265.6 2055.1 L265.2 2054.7 M269.8 2045.9 L261.5 2050.6 L257.6 2054.2 M261.5 2050.6 L258.7 2050.8 M269.8 2045.9 L263 2047 L255.5 2050.6 M269.8 2045.9 L266.3 2046.3 L259.4 2044.8 L258.1 2044.8 M259.4 2044.8 L255.3 2042.1 M269.8 2045.9 L262.8 2040.5 L257.6 2037.4 M262.8 2040.5 L261.5 2037.6 M269.8 2045.9 L266.4 2039.7 L260.7 2034.7 M266.4 2039.7 L265.9 2038.7" fill="none" stroke="#231f20" stroke-width="2.2" stroke-linejoin="round"/>
<path d="M213.9 2057.3 L215.3 2058.4 L217.3 2057.7 L218.5 2058.2 L219.3 2059.4 L220.4 2058.1 L221.1 2059.1 L221.7 2058.5 L223.2 2058.1 L224.4 2059.3 L225.6 2059.2 L226.9 2059.3 L228.1 2061 L229.2 2063 L231.1 2063.2 L232.1 2064.4 L233 2066.4 L233.9 2068.1 L233.7 2068.8 L233.6 2070.3 L234.7 2071.3 L234.7 2072.2 L234.2 2073.3 L235.5 2074.4 L235.5 2076 L234.7 2076.9 L234.9 2078.5 L234.2 2080.1 L233.4 2081.5 L232.2 2082.7 L231.4 2084.9 L232 2086.2 L230 2087.1 L227.6 2087.6 L226.4 2088.6 L224.7 2089.9 L222.2 2090.3 L220.5 2091.2 L217.8 2090.7 L215.9 2090.8 L214.7 2091.5 L213.2 2089.9 L210.8 2088.8 L209.1 2086.9 L207.3 2085.8 L205.9 2084.2 L206.1 2082.2 L204.9 2080.7 L203 2079.7 L202.6 2077.9 L202.8 2076.4 L202.1 2074.9 L203.2 2073.5 L202.6 2071.8 L201.7 2070.3 L202.6 2069.4 L203.1 2068.1 L204.2 2067.4 L204.2 2065.8 L205.8 2065.2 L206.5 2064.3 L206.7 2063.6 L207.7 2061.9 L208.9 2061.6 L210 2060.2 L210.8 2059 L212.5 2058.8 L213.6 2057.6 Z M218.2 2074.2 L216.6 2070.9 L216.1 2064.2 L217.6 2059.9 M216.1 2064.6 L215.9 2063.6 M218.2 2074.2 L221.5 2066.5 L223 2060.6 M218.2 2074.2 L220.9 2071.7 L223.3 2069 L226.7 2062.4 M220.9 2071.7 L227.4 2069.2 L232.3 2069 M218.2 2074.2 L227.4 2074.7 L233.3 2074.2 M227.1 2074.9 L230.2 2076.4 M218.2 2074.2 L221.9 2076 L225.3 2077.2 L232.6 2078.1 M221.9 2076 L225.9 2081.2 L227.7 2085.3 M218.2 2074.2 L220.4 2082.7 L222.9 2087.6 M220.4 2082.7 L219.7 2085.7 M218.2 2074.2 L217.8 2078 L217.2 2081.9 L218.6 2088.4 M217.8 2077.6 L214 2083.4 L209.9 2086.2 M214 2083.4 L213.6 2083 M218.2 2074.2 L209.9 2078.9 L206 2082.5 M209.9 2078.9 L207.1 2079.1 M218.2 2074.2 L211.4 2075.3 L203.9 2078.9 M218.2 2074.2 L214.7 2074.6 L207.8 2073.1 L206.5 2073.1 M207.8 2073.1 L203.7 2070.4 M218.2 2074.2 L211.2 2068.8 L206 2065.7 M211.2 2068.8 L209.9 2065.9 M218.2 2074.2 L214.8 2068 L209.1 2063 M214.8 2068 L214.3 2067" fill="none" stroke="#231f20" stroke-width="2.2" stroke-linejoin="round"/>
<path d="M293.2 2055.8 L294.6 2056.9 L296.6 2056.2 L297.8 2056.7 L298.6 2057.9 L299.7 2056.6 L300.4 2057.6 L301 2057 L302.5 2056.6 L303.7 2057.8 L304.9 2057.7 L306.2 2057.8 L307.4 2059.5 L308.5 2061.5 L310.4 2061.7 L311.4 2062.9 L312.3 2064.9 L313.2 2066.6 L313 2067.3 L312.9 2068.8 L314 2069.8 L314 2070.7 L313.5 2071.8 L314.8 2072.9 L314.8 2074.5 L314 2075.4 L314.2 2077 L313.5 2078.6 L312.7 2080 L311.5 2081.2 L310.7 2083.4 L311.3 2084.7 L309.3 2085.6 L306.9 2086.1 L305.7 2087.1 L304 2088.4 L301.5 2088.8 L299.8 2089.7 L297.1 2089.2 L295.2 2089.3 L294 2090 L292.5 2088.4 L290.1 2087.3 L288.4 2085.4 L286.6 2084.3 L285.2 2082.7 L285.4 2080.7 L284.2 2079.2 L282.3 2078.2 L281.9 2076.4 L282.1 2074.9 L281.4 2073.4 L282.5 2072 L281.9 2070.3 L281 2068.8 L281.9 2067.9 L282.4 2066.6 L283.5 2065.9 L283.5 2064.3 L285.1 2063.7 L285.8 2062.8 L286 2062.1 L287 2060.4 L288.2 2060.1 L289.3 2058.7 L290.1 2057.5 L291.8 2057.3 L292.9 2056.1 Z M297.5 2072.7 L295.9 2069.4 L295.4 2062.7 L296.9 2058.4 M295.4 2063.1 L295.2 2062.1 M297.5 2072.7 L300.8 2065 L302.3 2059.1 M297.5 2072.7 L300.2 2070.2 L302.6 2067.5 L306 2060.9 M300.2 2070.2 L306.7 2067.7 L311.6 2067.5 M297.5 2072.7 L306.7 2073.2 L312.6 2072.7 M306.4 2073.4 L309.5 2074.9 M297.5 2072.7 L301.2 2074.5 L304.6 2075.7 L311.9 2076.6 M301.2 2074.5 L305.2 2079.7 L307 2083.8 M297.5 2072.7 L299.7 2081.2 L302.2 2086.1 M299.7 2081.2 L299 2084.2 M297.5 2072.7 L297.1 2076.5 L296.5 2080.4 L297.9 2086.9 M297.1 2076.1 L293.3 2081.9 L289.2 2084.7 M293.3 2081.9 L292.9 2081.5 M297.5 2072.7 L289.2 2077.4 L285.3 2081 M289.2 2077.4 L286.4 2077.6 M297.5 2072.7 L290.7 2073.8 L283.2 2077.4 M297.5 2072.7 L294 2073.1 L287.1 2071.6 L285.8 2071.6 M287.1 2071.6 L283 2068.9 M297.5 2072.7 L290.5 2067.3 L285.3 2064.2 M290.5 2067.3 L289.2 2064.4 M297.5 2072.7 L294.1 2066.5 L288.4 2061.5 M294.1 2066.5 L293.6 2065.5" fill="none" stroke="#231f20" stroke-width="2.2" stroke-linejoin="round"/>
<path d="M439.8 1978.5 L441.2 1979.6 L443.2 1978.9 L444.4 1979.4 L445.2 1980.6 L446.3 1979.3 L447 1980.3 L447.6 1979.7 L449.1 1979.3 L450.3 1980.5 L451.5 1980.4 L452.8 1980.5 L454 1982.2 L455.1 1984.2 L457 1984.4 L458 1985.6 L458.9 1987.6 L459.8 1989.3 L459.6 1990 L459.5 1991.5 L460.6 1992.5 L460.6 1993.4 L460.1 1994.5 L461.4 1995.6 L461.4 1997.2 L460.6 1998.1 L460.8 1999.7 L460.1 2001.3 L459.3 2002.7 L458.1 2003.9 L457.3 2006.1 L457.9 2007.4 L455.9 2008.3 L453.5 2008.8 L452.3 2009.8 L450.6 2011.1 L448.1 2011.5 L446.4 2012.4 L443.7 2011.9 L441.8 2012 L440.6 2012.7 L439.1 2011.1 L436.7 2010 L435 2008.1 L433.2 2007 L431.8 2005.4 L432 2003.4 L430.8 2001.9 L428.9 2000.9 L428.5 1999.1 L428.7 1997.6 L428 1996.1 L429.1 1994.7 L428.5 1993 L427.6 1991.5 L428.5 1990.6 L429 1989.3 L430.1 1988.6 L430.1 1987 L431.7 1986.4 L432.4 1985.5 L432.6 1984.8 L433.6 1983.1 L434.8 1982.8 L435.9 1981.4 L436.7 1980.2 L438.4 1980 L439.5 1978.8 Z M444.1 1995.4 L442.5 1992.1 L442 1985.4 L443.5 1981.1 M442 1985.8 L441.8 1984.8 M444.1 1995.4 L447.4 1987.7 L448.9 1981.8 M444.1 1995.4 L446.8 1992.9 L449.2 1990.2 L452.6 1983.6 M446.8 1992.9 L453.3 1990.4 L458.2 1990.2 M444.1 1995.4 L453.3 1995.9 L459.2 1995.4 M453 1996.1 L456.1 1997.6 M444.1 1995.4 L447.8 1997.2 L451.2 1998.4 L458.6 1999.3 M447.8 1997.2 L451.8 2002.4 L453.6 2006.5 M444.1 1995.4 L446.3 2003.9 L448.8 2008.8 M446.3 2003.9 L445.6 2006.9 M444.1 1995.4 L443.7 1999.2 L443.1 2003.1 L444.5 2009.6 M443.7 1998.8 L439.9 2004.6 L435.8 2007.4 M439.9 2004.6 L439.5 2004.2 M444.1 1995.4 L435.8 2000.1 L431.9 2003.7 M435.8 2000.1 L433 2000.3 M444.1 1995.4 L437.3 1996.5 L429.8 2000.1 M444.1 1995.4 L440.6 1995.8 L433.7 1994.3 L432.4 1994.3 M433.7 1994.3 L429.6 1991.6 M444.1 1995.4 L437.1 1990 L431.9 1986.9 M437.1 1990 L435.8 1987.1 M444.1 1995.4 L440.7 1989.2 L435 1984.2 M440.7 1989.2 L440.2 1988.2" fill="none" stroke="#231f20" stroke-width="2.2" stroke-linejoin="round"/>
<path d="M426.7 2021.4 L428.1 2022.5 L430.1 2021.8 L431.3 2022.3 L432.1 2023.5 L433.2 2022.2 L433.9 2023.2 L434.5 2022.6 L436 2022.2 L437.2 2023.4 L438.4 2023.3 L439.7 2023.4 L440.9 2025.1 L442 2027.1 L443.9 2027.3 L444.9 2028.5 L445.8 2030.5 L446.7 2032.2 L446.5 2032.9 L446.4 2034.4 L447.5 2035.4 L447.5 2036.3 L447 2037.4 L448.3 2038.5 L448.3 2040.1 L447.5 2041 L447.7 2042.6 L447 2044.2 L446.2 2045.6 L445 2046.8 L444.2 2049 L444.8 2050.3 L442.8 2051.2 L440.4 2051.7 L439.2 2052.7 L437.5 2054 L435 2054.4 L433.3 2055.3 L430.6 2054.8 L428.7 2054.9 L427.5 2055.6 L426 2054 L423.6 2052.9 L421.9 2051 L420.1 2049.9 L418.7 2048.3 L418.9 2046.3 L417.7 2044.8 L415.8 2043.8 L415.4 2042 L415.6 2040.5 L414.9 2039 L416 2037.6 L415.4 2035.9 L414.5 2034.4 L415.4 2033.5 L415.9 2032.2 L417 2031.5 L417 2029.9 L418.6 2029.3 L419.3 2028.4 L419.5 2027.7 L420.5 2026 L421.7 2025.7 L422.8 2024.3 L423.6 2023.1 L425.3 2022.9 L426.4 2021.7 Z M431 2038.3 L429.4 2035 L428.9 2028.3 L430.4 2024 M428.9 2028.7 L428.7 2027.7 M431 2038.3 L434.3 2030.6 L435.8 2024.7 M431 2038.3 L433.7 2035.8 L436.1 2033.1 L439.5 2026.5 M433.7 2035.8 L440.2 2033.3 L445.1 2033.1 M431 2038.3 L440.2 2038.8 L446.1 2038.3 M439.9 2039 L443 2040.5 M431 2038.3 L434.7 2040.1 L438.1 2041.3 L445.4 2042.2 M434.7 2040.1 L438.7 2045.3 L440.5 2049.4 M431 2038.3 L433.2 2046.8 L435.7 2051.7 M433.2 2046.8 L432.5 2049.8 M431 2038.3 L430.6 2042.1 L430 2046 L431.4 2052.5 M430.6 2041.7 L426.8 2047.5 L422.7 2050.3 M426.8 2047.5 L426.4 2047.1 M431 2038.3 L422.7 2043 L418.8 2046.6 M422.7 2043 L419.9 2043.2 M431 2038.3 L424.2 2039.4 L416.7 2043 M431 2038.3 L427.5 2038.7 L420.6 2037.2 L419.3 2037.2 M420.6 2037.2 L416.5 2034.5 M431 2038.3 L424 2032.9 L418.8 2029.8 M424 2032.9 L422.7 2030 M431 2038.3 L427.6 2032.1 L421.9 2027.1 M427.6 2032.1 L427.1 2031.1" fill="none" stroke="#231f20" stroke-width="2.2" stroke-linejoin="round"/>
<path d="M488.3 2033 L489.7 2034.1 L491.7 2033.4 L492.9 2033.9 L493.7 2035.1 L494.8 2033.8 L495.5 2034.8 L496.1 2034.2 L497.6 2033.8 L498.8 2035 L500 2034.9 L501.3 2035 L502.5 2036.7 L503.6 2038.7 L505.5 2038.9 L506.5 2040.1 L507.4 2042.1 L508.3 2043.8 L508.1 2044.5 L508 2046 L509.1 2047 L509.1 2047.9 L508.6 2049 L509.9 2050.1 L509.9 2051.7 L509.1 2052.6 L509.3 2054.2 L508.6 2055.8 L507.8 2057.2 L506.6 2058.4 L505.8 2060.6 L506.4 2061.9 L504.4 2062.8 L502 2063.3 L500.8 2064.3 L499.1 2065.6 L496.6 2066 L494.9 2066.9 L492.2 2066.4 L490.3 2066.5 L489.1 2067.2 L487.6 2065.6 L485.2 2064.5 L483.5 2062.6 L481.7 2061.5 L480.3 2059.9 L480.5 2057.9 L479.3 2056.4 L477.4 2055.4 L477 2053.6 L477.2 2052.1 L476.5 2050.6 L477.6 2049.2 L477 2047.5 L476.1 2046 L477 2045.1 L477.5 2043.8 L478.6 2043.1 L478.6 2041.5 L480.2 2040.9 L480.9 2040 L481.1 2039.3 L482.1 2037.6 L483.3 2037.3 L484.4 2035.9 L485.2 2034.7 L486.9 2034.5 L488 2033.3 Z M492.6 2049.9 L491 2046.6 L490.5 2039.9 L492 2035.6 M490.5 2040.3 L490.3 2039.3 M492.6 2049.9 L495.9 2042.2 L497.4 2036.3 M492.6 2049.9 L495.3 2047.4 L497.7 2044.7 L501.1 2038.1 M495.3 2047.4 L501.8 2044.9 L506.7 2044.7 M492.6 2049.9 L501.8 2050.4 L507.7 2049.9 M501.5 2050.6 L504.6 2052.1 M492.6 2049.9 L496.3 2051.7 L499.7 2052.9 L507.1 2053.8 M496.3 2051.7 L500.3 2056.9 L502.1 2061 M492.6 2049.9 L494.8 2058.4 L497.3 2063.3 M494.8 2058.4 L494.1 2061.4 M492.6 2049.9 L492.2 2053.7 L491.6 2057.6 L493 2064.1 M492.2 2053.3 L488.4 2059.1 L484.3 2061.9 M488.4 2059.1 L488 2058.7 M492.6 2049.9 L484.3 2054.6 L480.4 2058.2 M484.3 2054.6 L481.5 2054.8 M492.6 2049.9 L485.8 2051 L478.3 2054.6 M492.6 2049.9 L489.1 2050.3 L482.2 2048.8 L480.9 2048.8 M482.2 2048.8 L478.1 2046.1 M492.6 2049.9 L485.6 2044.5 L480.4 2041.4 M485.6 2044.5 L484.3 2041.6 M492.6 2049.9 L489.2 2043.7 L483.5 2038.7 M489.2 2043.7 L488.7 2042.7" fill="none" stroke="#231f20" stroke-width="2.2" stroke-linejoin="round"/>
<path d="M549.9 2031.5 L551.3 2032.6 L553.3 2031.9 L554.5 2032.4 L555.3 2033.6 L556.4 2032.3 L557.1 2033.3 L557.7 2032.7 L559.2 2032.3 L560.4 2033.5 L561.6 2033.4 L562.9 2033.5 L564.1 2035.2 L565.2 2037.2 L567.1 2037.4 L568.1 2038.6 L569 2040.6 L569.9 2042.3 L569.7 2043 L569.6 2044.5 L570.7 2045.5 L570.7 2046.4 L570.2 2047.5 L571.5 2048.6 L571.5 2050.2 L570.7 2051.1 L570.9 2052.7 L570.2 2054.3 L569.4 2055.7 L568.2 2056.9 L567.4 2059.1 L568 2060.4 L566 2061.3 L563.6 2061.8 L562.4 2062.8 L560.7 2064.1 L558.2 2064.5 L556.5 2065.4 L553.8 2064.9 L551.9 2065 L550.7 2065.7 L549.2 2064.1 L546.8 2063 L545.1 2061.1 L543.3 2060 L541.9 2058.4 L542.1 2056.4 L540.9 2054.9 L539 2053.9 L538.6 2052.1 L538.8 2050.6 L538.1 2049.1 L539.2 2047.7 L538.6 2046 L537.7 2044.5 L538.6 2043.6 L539.1 2042.3 L540.2 2041.6 L540.2 2040 L541.8 2039.4 L542.5 2038.5 L542.7 2037.8 L543.7 2036.1 L544.9 2035.8 L546 2034.4 L546.8 2033.2 L548.5 2033 L549.6 2031.8 Z M554.2 2048.4 L552.6 2045.1 L552.1 2038.4 L553.6 2034.1 M552.1 2038.8 L551.9 2037.8 M554.2 2048.4 L557.5 2040.7 L559 2034.8 M554.2 2048.4 L556.9 2045.9 L559.3 2043.2 L562.7 2036.6 M556.9 2045.9 L563.4 2043.4 L568.3 2043.2 M554.2 2048.4 L563.4 2048.9 L569.3 2048.4 M563.1 2049.1 L566.2 2050.6 M554.2 2048.4 L557.9 2050.2 L561.3 2051.4 L568.7 2052.3 M557.9 2050.2 L561.9 2055.4 L563.7 2059.5 M554.2 2048.4 L556.4 2056.9 L558.9 2061.8 M556.4 2056.9 L555.7 2059.9 M554.2 2048.4 L553.8 2052.2 L553.2 2056.1 L554.6 2062.6 M553.8 2051.8 L550 2057.6 L545.9 2060.4 M550 2057.6 L549.6 2057.2 M554.2 2048.4 L545.9 2053.1 L542 2056.7 M545.9 2053.1 L543.1 2053.3 M554.2 2048.4 L547.4 2049.5 L539.9 2053.1 M554.2 2048.4 L550.7 2048.8 L543.8 2047.3 L542.5 2047.3 M543.8 2047.3 L539.7 2044.6 M554.2 2048.4 L547.2 2043 L542 2039.9 M547.2 2043 L545.9 2040.1 M554.2 2048.4 L550.8 2042.2 L545.1 2037.2 M550.8 2042.2 L550.3 2041.2" fill="none" stroke="#231f20" stroke-width="2.2" stroke-linejoin="round"/>
<path d="M460 2067.4 L461.4 2068.5 L463.4 2067.8 L464.6 2068.3 L465.4 2069.5 L466.5 2068.2 L467.2 2069.2 L467.8 2068.6 L469.3 2068.2 L470.5 2069.4 L471.7 2069.3 L473 2069.4 L474.2 2071.1 L475.3 2073.1 L477.2 2073.3 L478.2 2074.5 L479.1 2076.5 L480 2078.2 L479.8 2078.9 L479.7 2080.4 L480.8 2081.4 L480.8 2082.3 L480.3 2083.4 L481.6 2084.5 L481.6 2086.1 L480.8 2087 L481 2088.6 L480.3 2090.2 L479.5 2091.6 L478.3 2092.8 L477.5 2095 L478.1 2096.3 L476.1 2097.2 L473.7 2097.7 L472.5 2098.7 L470.8 2100 L468.3 2100.4 L466.6 2101.3 L463.9 2100.8 L462 2100.9 L460.8 2101.6 L459.3 2100 L456.9 2098.9 L455.2 2097 L453.4 2095.9 L452 2094.3 L452.2 2092.3 L451 2090.8 L449.1 2089.8 L448.7 2088 L448.9 2086.5 L448.2 2085 L449.3 2083.6 L448.7 2081.9 L447.8 2080.4 L448.7 2079.5 L449.2 2078.2 L450.3 2077.5 L450.3 2075.9 L451.9 2075.3 L452.6 2074.4 L452.8 2073.7 L453.8 2072 L455 2071.7 L456.1 2070.3 L456.9 2069.1 L458.6 2068.9 L459.7 2067.7 Z M464.3 2084.3 L462.7 2081 L462.2 2074.3 L463.7 2070 M462.2 2074.7 L462 2073.7 M464.3 2084.3 L467.6 2076.6 L469.1 2070.7 M464.3 2084.3 L467 2081.8 L469.4 2079.1 L472.8 2072.5 M467 2081.8 L473.5 2079.3 L478.4 2079.1 M464.3 2084.3 L473.5 2084.8 L479.4 2084.3 M473.2 2085 L476.3 2086.5 M464.3 2084.3 L468 2086.1 L471.4 2087.3 L478.8 2088.2 M468 2086.1 L472 2091.3 L473.8 2095.4 M464.3 2084.3 L466.5 2092.8 L469 2097.7 M466.5 2092.8 L465.8 2095.8 M464.3 2084.3 L463.9 2088.1 L463.3 2092 L464.7 2098.5 M463.9 2087.7 L460.1 2093.5 L456 2096.3 M460.1 2093.5 L459.7 2093.1 M464.3 2084.3 L456 2089 L452.1 2092.6 M456 2089 L453.2 2089.2 M464.3 2084.3 L457.5 2085.4 L450 2089 M464.3 2084.3 L460.8 2084.7 L453.9 2083.2 L452.6 2083.2 M453.9 2083.2 L449.8 2080.5 M464.3 2084.3 L457.3 2078.9 L452.1 2075.8 M457.3 2078.9 L456 2076 M464.3 2084.3 L460.9 2078.1 L455.2 2073.1 M460.9 2078.1 L460.4 2077.1" fill="none" stroke="#231f20" stroke-width="2.2" stroke-linejoin="round"/>
<path d="M524.2 2081.5 L525.6 2082.6 L527.6 2081.9 L528.8 2082.4 L529.6 2083.6 L530.7 2082.3 L531.4 2083.3 L532 2082.7 L533.5 2082.3 L534.7 2083.5 L535.9 2083.4 L537.2 2083.5 L538.4 2085.2 L539.5 2087.2 L541.4 2087.4 L542.4 2088.6 L543.3 2090.6 L544.2 2092.3 L544 2093 L543.9 2094.5 L545 2095.5 L545 2096.4 L544.5 2097.5 L545.8 2098.6 L545.8 2100.2 L545 2101.1 L545.2 2102.7 L544.5 2104.3 L543.7 2105.7 L542.5 2106.9 L541.7 2109.1 L542.3 2110.4 L540.3 2111.3 L537.9 2111.8 L536.7 2112.8 L535 2114.1 L532.5 2114.5 L530.8 2115.4 L528.1 2114.9 L526.2 2115 L525 2115.7 L523.5 2114.1 L521.1 2113 L519.4 2111.1 L517.6 2110 L516.2 2108.4 L516.4 2106.4 L515.2 2104.9 L513.3 2103.9 L512.9 2102.1 L513.1 2100.6 L512.4 2099.1 L513.5 2097.7 L512.9 2096 L512 2094.5 L512.9 2093.6 L513.4 2092.3 L514.5 2091.6 L514.5 2090 L516.1 2089.4 L516.8 2088.5 L517 2087.8 L518 2086.1 L519.2 2085.8 L520.3 2084.4 L521.1 2083.2 L522.8 2083 L523.9 2081.8 Z M528.5 2098.4 L526.9 2095.1 L526.4 2088.4 L527.9 2084.1 M526.4 2088.8 L526.2 2087.8 M528.5 2098.4 L531.8 2090.7 L533.3 2084.8 M528.5 2098.4 L531.2 2095.9 L533.6 2093.2 L537 2086.6 M531.2 2095.9 L537.7 2093.4 L542.6 2093.2 M528.5 2098.4 L537.7 2098.9 L543.6 2098.4 M537.4 2099.1 L540.5 2100.6 M528.5 2098.4 L532.2 2100.2 L535.6 2101.4 L543 2102.3 M532.2 2100.2 L536.2 2105.4 L538 2109.5 M528.5 2098.4 L530.7 2106.9 L533.2 2111.8 M530.7 2106.9 L530 2109.9 M528.5 2098.4 L528.1 2102.2 L527.5 2106.1 L528.9 2112.6 M528.1 2101.8 L524.3 2107.6 L520.2 2110.4 M524.3 2107.6 L523.9 2107.2 M528.5 2098.4 L520.2 2103.1 L516.3 2106.7 M520.2 2103.1 L517.4 2103.3 M528.5 2098.4 L521.7 2099.5 L514.2 2103.1 M528.5 2098.4 L525 2098.8 L518.1 2097.3 L516.8 2097.3 M518.1 2097.3 L514 2094.6 M528.5 2098.4 L521.5 2093 L516.3 2089.9 M521.5 2093 L520.2 2090.1 M528.5 2098.4 L525.1 2092.2 L519.4 2087.2 M525.1 2092.2 L524.6 2091.2" fill="none" stroke="#231f20" stroke-width="2.2" stroke-linejoin="round"/>
<path d="M1143.9 2146.6 L1145.4 2147.7 L1147.4 2147 L1148.6 2147.6 L1149.4 2148.8 L1150.6 2147.4 L1151.2 2148.4 L1151.9 2147.8 L1153.4 2147.4 L1154.7 2148.6 L1156 2148.6 L1157.2 2148.7 L1158.5 2150.4 L1159.6 2152.5 L1161.6 2152.7 L1162.6 2154 L1163.5 2156 L1164.5 2157.7 L1164.2 2158.5 L1164.1 2160 L1165.2 2161 L1165.2 2162 L1164.7 2163.1 L1166.1 2164.3 L1166.1 2165.9 L1165.2 2166.8 L1165.5 2168.4 L1164.7 2170 L1164 2171.5 L1162.7 2172.8 L1161.9 2175 L1162.5 2176.3 L1160.5 2177.3 L1158 2177.8 L1156.7 2178.8 L1155 2180.2 L1152.4 2180.6 L1150.7 2181.4 L1147.9 2180.9 L1145.9 2181.1 L1144.7 2181.8 L1143.2 2180.2 L1140.6 2179.1 L1138.9 2177.1 L1137.1 2175.9 L1135.6 2174.3 L1135.9 2172.3 L1134.6 2170.7 L1132.6 2169.6 L1132.2 2167.8 L1132.5 2166.3 L1131.7 2164.8 L1132.9 2163.2 L1132.2 2161.5 L1131.4 2160 L1132.2 2159.1 L1132.7 2157.7 L1133.9 2157 L1133.9 2155.3 L1135.5 2154.7 L1136.2 2153.8 L1136.5 2153.1 L1137.5 2151.3 L1138.8 2151.1 L1139.9 2149.6 L1140.6 2148.3 L1142.4 2148.2 L1143.5 2146.9 Z M1148.3 2164 L1146.6 2160.6 L1146.2 2153.7 L1147.7 2149.3 M1146.2 2154.1 L1145.9 2153.1 M1148.3 2164 L1151.7 2156.1 L1153.2 2150 M1148.3 2164 L1151.1 2161.5 L1153.6 2158.6 L1157 2151.9 M1151.1 2161.5 L1157.8 2158.9 L1162.8 2158.6 M1148.3 2164 L1157.8 2164.5 L1163.8 2164 M1157.5 2164.7 L1160.7 2166.3 M1148.3 2164 L1152.1 2165.9 L1155.6 2167.1 L1163.2 2168 M1152.1 2165.9 L1156.3 2171.2 L1158.1 2175.4 M1148.3 2164 L1150.6 2172.8 L1153.1 2177.8 M1150.6 2172.8 L1149.9 2175.9 M1148.3 2164 L1147.9 2167.9 L1147.3 2171.9 L1148.7 2178.6 M1147.9 2167.5 L1144 2173.4 L1139.8 2176.4 M1144 2173.4 L1143.6 2173.1 M1148.3 2164 L1139.8 2168.9 L1135.7 2172.6 M1139.8 2168.9 L1136.9 2169 M1148.3 2164 L1141.3 2165.2 L1133.6 2168.9 M1148.3 2164 L1144.7 2164.4 L1137.6 2162.8 L1136.3 2162.9 M1137.6 2162.8 L1133.4 2160.1 M1148.3 2164 L1141.1 2158.4 L1135.7 2155.2 M1141.1 2158.4 L1139.8 2155.5 M1148.3 2164 L1144.8 2157.6 L1138.9 2152.5 M1144.8 2157.6 L1144.3 2156.6" fill="none" stroke="#231f20" stroke-width="2.2" stroke-linejoin="round"/>
<path d="M842.7 1722.4 L844.6 1723.7 L847.2 1722.8 L848.7 1723.5 L849.7 1725.1 L851.1 1723.4 L852 1724.6 L852.9 1723.8 L854.7 1723.3 L856.3 1724.9 L857.9 1724.8 L859.5 1724.9 L861.1 1727.2 L862.5 1729.7 L865 1730 L866.3 1731.6 L867.4 1734.1 L868.7 1736.3 L868.3 1737.3 L868.2 1739.1 L869.6 1740.4 L869.6 1741.7 L869 1743.1 L870.7 1744.5 L870.7 1746.6 L869.6 1747.7 L869.9 1749.7 L869 1751.8 L868 1753.7 L866.4 1755.2 L865.3 1758.1 L866.1 1759.7 L863.6 1760.9 L860.5 1761.6 L858.9 1762.8 L856.7 1764.6 L853.5 1765 L851.3 1766.1 L847.8 1765.5 L845.3 1765.7 L843.7 1766.6 L841.8 1764.6 L838.7 1763.1 L836.5 1760.6 L834.3 1759.2 L832.4 1757.1 L832.7 1754.6 L831.1 1752.6 L828.6 1751.3 L828.1 1748.9 L828.4 1747 L827.5 1745.1 L828.9 1743.3 L828.1 1741 L827 1739.1 L828.1 1738 L828.7 1736.3 L830.2 1735.4 L830.2 1733.3 L832.2 1732.5 L833.1 1731.4 L833.5 1730.5 L834.7 1728.3 L836.3 1727.9 L837.7 1726.1 L838.7 1724.5 L840.9 1724.3 L842.3 1722.7 Z M848.3 1744.2 L846.2 1740 L845.6 1731.3 L847.5 1725.7 M845.6 1731.7 L845.3 1730.5 M848.3 1744.2 L852.6 1734.3 L854.5 1726.6 M848.3 1744.2 L851.8 1741 L854.9 1737.4 L859.3 1729 M851.8 1741 L860.2 1737.7 L866.5 1737.4 M848.3 1744.2 L860.2 1744.8 L867.8 1744.2 M859.8 1745 L863.8 1747 M848.3 1744.2 L853 1746.5 L857.5 1748.1 L867 1749.3 M853 1746.5 L858.3 1753.3 L860.7 1758.6 M848.3 1744.2 L851.1 1755.2 L854.4 1761.5 M851.1 1755.2 L850.3 1759.1 M848.3 1744.2 L847.8 1749.1 L847 1754.1 L848.8 1762.6 M847.8 1748.6 L842.9 1756 L837.6 1759.7 M842.9 1756 L842.4 1755.6 M848.3 1744.2 L837.6 1750.3 L832.5 1755 M837.6 1750.3 L833.9 1750.5 M848.3 1744.2 L839.5 1745.7 L829.9 1750.3 M848.3 1744.2 L843.7 1744.8 L834.8 1742.7 L833.2 1742.8 M834.8 1742.7 L829.6 1739.3 M848.3 1744.2 L839.3 1737.2 L832.5 1733.2 M839.3 1737.2 L837.6 1733.5 M848.3 1744.2 L843.9 1736.2 L836.5 1729.7 M843.9 1736.2 L843.3 1734.9" fill="none" stroke="#231f20" stroke-width="2.2" stroke-linejoin="round"/>
<path d="M739.1 1782.1 L741 1783.4 L743.6 1782.5 L745.1 1783.2 L746.1 1784.8 L747.5 1783.1 L748.4 1784.3 L749.3 1783.5 L751.1 1783 L752.7 1784.6 L754.3 1784.5 L755.9 1784.6 L757.5 1786.9 L758.9 1789.4 L761.4 1789.7 L762.7 1791.3 L763.8 1793.8 L765.1 1796 L764.7 1797 L764.6 1798.8 L766 1800.1 L766 1801.4 L765.4 1802.8 L767.1 1804.2 L767.1 1806.3 L766 1807.4 L766.3 1809.4 L765.4 1811.5 L764.4 1813.4 L762.8 1814.9 L761.7 1817.8 L762.5 1819.4 L760 1820.6 L756.9 1821.3 L755.3 1822.5 L753.1 1824.3 L749.9 1824.7 L747.7 1825.8 L744.2 1825.2 L741.7 1825.4 L740.1 1826.3 L738.2 1824.3 L735.1 1822.8 L732.9 1820.3 L730.7 1818.9 L728.8 1816.8 L729.1 1814.3 L727.5 1812.3 L725 1811 L724.5 1808.6 L724.8 1806.7 L723.9 1804.8 L725.3 1803 L724.5 1800.7 L723.4 1798.8 L724.5 1797.7 L725.1 1796 L726.6 1795.1 L726.6 1793 L728.6 1792.2 L729.5 1791.1 L729.9 1790.2 L731.1 1788 L732.7 1787.6 L734.1 1785.8 L735.1 1784.2 L737.3 1784 L738.7 1782.4 Z M744.7 1803.9 L742.6 1799.7 L742 1791 L743.9 1785.4 M742 1791.4 L741.7 1790.2 M744.7 1803.9 L749 1794 L750.9 1786.3 M744.7 1803.9 L748.2 1800.7 L751.3 1797.1 L755.7 1788.7 M748.2 1800.7 L756.6 1797.4 L762.9 1797.1 M744.7 1803.9 L756.6 1804.5 L764.2 1803.9 M756.2 1804.7 L760.2 1806.7 M744.7 1803.9 L749.4 1806.2 L753.9 1807.8 L763.4 1809 M749.4 1806.2 L754.7 1813 L757.1 1818.3 M744.7 1803.9 L747.5 1814.9 L750.8 1821.2 M747.5 1814.9 L746.7 1818.8 M744.7 1803.9 L744.2 1808.8 L743.4 1813.8 L745.2 1822.3 M744.2 1808.3 L739.3 1815.7 L734 1819.4 M739.3 1815.7 L738.8 1815.3 M744.7 1803.9 L734 1810 L728.9 1814.7 M734 1810 L730.3 1810.2 M744.7 1803.9 L735.9 1805.4 L726.3 1810 M744.7 1803.9 L740.1 1804.5 L731.2 1802.4 L729.6 1802.5 M731.2 1802.4 L726 1799 M744.7 1803.9 L735.7 1796.9 L728.9 1792.9 M735.7 1796.9 L734 1793.2 M744.7 1803.9 L740.3 1795.9 L732.9 1789.4 M740.3 1795.9 L739.7 1794.6" fill="none" stroke="#231f20" stroke-width="2.2" stroke-linejoin="round"/>
<path d="M809.4 1782.1 L811.3 1783.4 L813.9 1782.5 L815.4 1783.2 L816.4 1784.8 L817.8 1783.1 L818.7 1784.3 L819.6 1783.5 L821.4 1783 L823 1784.6 L824.6 1784.5 L826.2 1784.6 L827.8 1786.9 L829.2 1789.4 L831.7 1789.7 L833 1791.3 L834.1 1793.8 L835.4 1796 L835 1797 L834.9 1798.8 L836.3 1800.1 L836.3 1801.4 L835.7 1802.8 L837.4 1804.2 L837.4 1806.3 L836.3 1807.4 L836.6 1809.4 L835.7 1811.5 L834.7 1813.4 L833.1 1814.9 L832 1817.8 L832.8 1819.4 L830.3 1820.6 L827.2 1821.3 L825.6 1822.5 L823.4 1824.3 L820.2 1824.7 L818 1825.8 L814.5 1825.2 L812 1825.4 L810.4 1826.3 L808.5 1824.3 L805.4 1822.8 L803.2 1820.3 L801 1818.9 L799.1 1816.8 L799.4 1814.3 L797.8 1812.3 L795.3 1811 L794.8 1808.6 L795.1 1806.7 L794.2 1804.8 L795.6 1803 L794.8 1800.7 L793.7 1798.8 L794.8 1797.7 L795.4 1796 L796.9 1795.1 L796.9 1793 L798.9 1792.2 L799.8 1791.1 L800.2 1790.2 L801.4 1788 L803 1787.6 L804.4 1785.8 L805.4 1784.2 L807.6 1784 L809 1782.4 Z M815 1803.9 L812.9 1799.7 L812.3 1791 L814.2 1785.4 M812.3 1791.4 L812 1790.2 M815 1803.9 L819.3 1794 L821.2 1786.3 M815 1803.9 L818.5 1800.7 L821.6 1797.1 L826 1788.7 M818.5 1800.7 L826.9 1797.4 L833.2 1797.1 M815 1803.9 L826.9 1804.5 L834.5 1803.9 M826.5 1804.7 L830.5 1806.7 M815 1803.9 L819.7 1806.2 L824.2 1807.8 L833.7 1809 M819.7 1806.2 L825 1813 L827.4 1818.3 M815 1803.9 L817.8 1814.9 L821.1 1821.2 M817.8 1814.9 L817 1818.8 M815 1803.9 L814.5 1808.8 L813.7 1813.8 L815.5 1822.3 M814.5 1808.3 L809.6 1815.7 L804.3 1819.4 M809.6 1815.7 L809.1 1815.3 M815 1803.9 L804.3 1810 L799.2 1814.7 M804.3 1810 L800.6 1810.2 M815 1803.9 L806.2 1805.4 L796.6 1810 M815 1803.9 L810.4 1804.5 L801.5 1802.4 L799.9 1802.5 M801.5 1802.4 L796.3 1799 M815 1803.9 L806 1796.9 L799.2 1792.9 M806 1796.9 L804.3 1793.2 M815 1803.9 L810.6 1795.9 L803.2 1789.4 M810.6 1795.9 L810 1794.6" fill="none" stroke="#231f20" stroke-width="2.2" stroke-linejoin="round"/>
<path d="M872 1771.4 L873.9 1772.7 L876.5 1771.8 L878 1772.5 L879 1774.1 L880.4 1772.4 L881.3 1773.6 L882.2 1772.8 L884 1772.3 L885.6 1773.9 L887.2 1773.8 L888.8 1773.9 L890.4 1776.2 L891.8 1778.7 L894.3 1779 L895.6 1780.6 L896.7 1783.1 L898 1785.3 L897.6 1786.3 L897.5 1788.1 L898.9 1789.4 L898.9 1790.7 L898.3 1792.1 L900 1793.5 L900 1795.6 L898.9 1796.7 L899.2 1798.7 L898.3 1800.8 L897.3 1802.7 L895.7 1804.2 L894.6 1807.1 L895.4 1808.7 L892.9 1809.9 L889.8 1810.6 L888.2 1811.8 L886 1813.6 L882.8 1814 L880.6 1815.1 L877.1 1814.5 L874.6 1814.7 L873 1815.6 L871.1 1813.6 L868 1812.1 L865.8 1809.6 L863.6 1808.2 L861.7 1806.1 L862 1803.6 L860.4 1801.6 L857.9 1800.3 L857.4 1797.9 L857.7 1796 L856.8 1794.1 L858.2 1792.3 L857.4 1790 L856.3 1788.1 L857.4 1787 L858 1785.3 L859.5 1784.4 L859.5 1782.3 L861.5 1781.5 L862.4 1780.4 L862.8 1779.5 L864 1777.3 L865.6 1776.9 L867 1775.1 L868 1773.5 L870.2 1773.3 L871.6 1771.7 Z M877.6 1793.2 L875.5 1789 L874.9 1780.3 L876.8 1774.7 M874.9 1780.7 L874.6 1779.5 M877.6 1793.2 L881.9 1783.3 L883.8 1775.6 M877.6 1793.2 L881.1 1790 L884.2 1786.4 L888.6 1778 M881.1 1790 L889.5 1786.7 L895.8 1786.4 M877.6 1793.2 L889.5 1793.8 L897.1 1793.2 M889.1 1794 L893.1 1796 M877.6 1793.2 L882.3 1795.5 L886.8 1797.1 L896.3 1798.3 M882.3 1795.5 L887.6 1802.3 L890 1807.6 M877.6 1793.2 L880.4 1804.2 L883.7 1810.5 M880.4 1804.2 L879.6 1808.1 M877.6 1793.2 L877.1 1798.1 L876.3 1803.1 L878.1 1811.6 M877.1 1797.6 L872.2 1805 L866.9 1808.7 M872.2 1805 L871.7 1804.6 M877.6 1793.2 L866.9 1799.3 L861.8 1804 M866.9 1799.3 L863.2 1799.5 M877.6 1793.2 L868.8 1794.7 L859.2 1799.3 M877.6 1793.2 L873 1793.8 L864.1 1791.7 L862.5 1791.8 M864.1 1791.7 L858.9 1788.3 M877.6 1793.2 L868.6 1786.2 L861.8 1782.2 M868.6 1786.2 L866.9 1782.5 M877.6 1793.2 L873.2 1785.2 L865.8 1778.7 M873.2 1785.2 L872.6 1783.9" fill="none" stroke="#231f20" stroke-width="2.2" stroke-linejoin="round"/>
<path d="M675 1859.9 L676.9 1861.2 L679.5 1860.3 L681 1861 L682 1862.6 L683.4 1860.9 L684.3 1862.1 L685.2 1861.3 L687 1860.8 L688.6 1862.4 L690.2 1862.3 L691.8 1862.4 L693.4 1864.7 L694.8 1867.2 L697.3 1867.5 L698.6 1869.1 L699.7 1871.6 L701 1873.8 L700.6 1874.8 L700.5 1876.6 L701.9 1877.9 L701.9 1879.2 L701.3 1880.6 L703 1882 L703 1884.1 L701.9 1885.2 L702.2 1887.2 L701.3 1889.3 L700.3 1891.2 L698.7 1892.7 L697.6 1895.6 L698.4 1897.2 L695.9 1898.4 L692.8 1899.1 L691.2 1900.3 L689 1902.1 L685.8 1902.5 L683.6 1903.6 L680.1 1903 L677.6 1903.2 L676 1904.1 L674.1 1902.1 L671 1900.6 L668.8 1898.1 L666.6 1896.7 L664.7 1894.6 L665 1892.1 L663.4 1890.1 L660.9 1888.8 L660.4 1886.4 L660.7 1884.5 L659.8 1882.6 L661.2 1880.8 L660.4 1878.5 L659.3 1876.6 L660.4 1875.5 L661 1873.8 L662.5 1872.9 L662.5 1870.8 L664.5 1870 L665.4 1868.9 L665.8 1868 L667 1865.8 L668.6 1865.4 L670 1863.6 L671 1862 L673.2 1861.8 L674.6 1860.2 Z M680.6 1881.7 L678.5 1877.5 L677.9 1868.8 L679.8 1863.2 M677.9 1869.2 L677.6 1868 M680.6 1881.7 L684.9 1871.8 L686.8 1864.1 M680.6 1881.7 L684.1 1878.5 L687.2 1874.9 L691.6 1866.5 M684.1 1878.5 L692.5 1875.2 L698.8 1874.9 M680.6 1881.7 L692.5 1882.3 L700.1 1881.7 M692.1 1882.5 L696.1 1884.5 M680.6 1881.7 L685.3 1884 L689.8 1885.6 L699.3 1886.8 M685.3 1884 L690.6 1890.8 L693 1896.1 M680.6 1881.7 L683.4 1892.7 L686.7 1899 M683.4 1892.7 L682.6 1896.6 M680.6 1881.7 L680.1 1886.6 L679.3 1891.6 L681.1 1900.1 M680.1 1886.1 L675.2 1893.5 L669.9 1897.2 M675.2 1893.5 L674.7 1893.1 M680.6 1881.7 L669.9 1887.8 L664.8 1892.5 M669.9 1887.8 L666.2 1888 M680.6 1881.7 L671.8 1883.2 L662.2 1887.8 M680.6 1881.7 L676 1882.2 L667.1 1880.2 L665.5 1880.3 M667.1 1880.2 L661.9 1876.8 M680.6 1881.7 L671.6 1874.7 L664.8 1870.7 M671.6 1874.7 L669.9 1871 M680.6 1881.7 L676.2 1873.7 L668.8 1867.2 M676.2 1873.7 L675.6 1872.4" fill="none" stroke="#231f20" stroke-width="2.2" stroke-linejoin="round"/>
<path d="M675.2 2113.7 L677.1 2115 L679.7 2114.1 L681.2 2114.8 L682.2 2116.4 L683.6 2114.7 L684.5 2115.9 L685.4 2115.1 L687.2 2114.6 L688.8 2116.2 L690.4 2116.1 L692 2116.2 L693.6 2118.5 L695 2121 L697.5 2121.3 L698.8 2122.9 L699.9 2125.4 L701.2 2127.6 L700.8 2128.6 L700.7 2130.4 L702.1 2131.7 L702.1 2133 L701.5 2134.4 L703.2 2135.8 L703.2 2137.9 L702.1 2139 L702.4 2141 L701.5 2143.1 L700.5 2145 L698.9 2146.5 L697.8 2149.4 L698.6 2151 L696.1 2152.2 L693 2152.9 L691.4 2154.1 L689.2 2155.9 L686 2156.3 L683.8 2157.4 L680.3 2156.8 L677.8 2157 L676.2 2157.9 L674.3 2155.9 L671.2 2154.4 L669 2151.9 L666.8 2150.5 L664.9 2148.4 L665.2 2145.9 L663.6 2143.9 L661.1 2142.6 L660.6 2140.2 L660.9 2138.3 L660 2136.4 L661.4 2134.6 L660.6 2132.3 L659.5 2130.4 L660.6 2129.3 L661.2 2127.6 L662.7 2126.7 L662.7 2124.6 L664.7 2123.8 L665.6 2122.7 L666 2121.8 L667.2 2119.6 L668.8 2119.2 L670.2 2117.4 L671.2 2115.8 L673.4 2115.6 L674.8 2114 Z M680.8 2135.5 L678.7 2131.3 L678.1 2122.6 L680 2117 M678.1 2123 L677.8 2121.8 M680.8 2135.5 L685.1 2125.6 L687 2117.9 M680.8 2135.5 L684.3 2132.3 L687.4 2128.7 L691.8 2120.3 M684.3 2132.3 L692.7 2129 L699 2128.7 M680.8 2135.5 L692.7 2136.1 L700.3 2135.5 M692.3 2136.3 L696.3 2138.3 M680.8 2135.5 L685.5 2137.8 L690 2139.4 L699.5 2140.6 M685.5 2137.8 L690.8 2144.6 L693.2 2149.9 M680.8 2135.5 L683.6 2146.5 L686.9 2152.8 M683.6 2146.5 L682.8 2150.4 M680.8 2135.5 L680.2 2140.4 L679.5 2145.4 L681.3 2153.9 M680.2 2139.9 L675.4 2147.3 L670.1 2151 M675.4 2147.3 L674.9 2146.9 M680.8 2135.5 L670.1 2141.6 L665 2146.3 M670.1 2141.6 L666.4 2141.8 M680.8 2135.5 L672 2137 L662.4 2141.6 M680.8 2135.5 L676.2 2136.1 L667.3 2134 L665.7 2134.1 M667.3 2134 L662.1 2130.6 M680.8 2135.5 L671.8 2128.5 L665 2124.5 M671.8 2128.5 L670.1 2124.8 M680.8 2135.5 L676.4 2127.5 L669 2121 M676.4 2127.5 L675.8 2126.2" fill="none" stroke="#231f20" stroke-width="2.2" stroke-linejoin="round"/>
<path d="M749.1 2147.2 L751 2148.5 L753.6 2147.6 L755.1 2148.3 L756.1 2149.9 L757.5 2148.2 L758.4 2149.4 L759.3 2148.6 L761.1 2148.1 L762.7 2149.7 L764.3 2149.6 L765.9 2149.7 L767.5 2152 L768.9 2154.5 L771.4 2154.8 L772.7 2156.4 L773.8 2158.9 L775.1 2161.1 L774.7 2162.1 L774.6 2163.9 L776 2165.2 L776 2166.5 L775.4 2167.9 L777.1 2169.3 L777.1 2171.4 L776 2172.5 L776.3 2174.5 L775.4 2176.6 L774.4 2178.5 L772.8 2180 L771.7 2182.9 L772.5 2184.5 L770 2185.7 L766.9 2186.4 L765.3 2187.6 L763.1 2189.4 L759.9 2189.8 L757.7 2190.9 L754.2 2190.3 L751.7 2190.5 L750.1 2191.4 L748.2 2189.4 L745.1 2187.9 L742.9 2185.4 L740.7 2184 L738.8 2181.9 L739.1 2179.4 L737.5 2177.4 L735 2176.1 L734.5 2173.7 L734.8 2171.8 L733.9 2169.9 L735.3 2168.1 L734.5 2165.8 L733.4 2163.9 L734.5 2162.8 L735.1 2161.1 L736.6 2160.2 L736.6 2158.1 L738.6 2157.3 L739.5 2156.2 L739.9 2155.3 L741.1 2153.1 L742.7 2152.7 L744.1 2150.9 L745.1 2149.3 L747.3 2149.1 L748.7 2147.5 Z M754.7 2169 L752.6 2164.8 L752 2156.1 L753.9 2150.5 M752 2156.5 L751.7 2155.2 M754.7 2169 L759 2159.1 L760.9 2151.4 M754.7 2169 L758.2 2165.8 L761.3 2162.2 L765.7 2153.8 M758.2 2165.8 L766.6 2162.5 L772.9 2162.2 M754.7 2169 L766.6 2169.6 L774.2 2169 M766.2 2169.8 L770.2 2171.8 M754.7 2169 L759.4 2171.3 L763.9 2172.9 L773.4 2174.1 M759.4 2171.3 L764.7 2178.1 L767.1 2183.4 M754.7 2169 L757.5 2180 L760.8 2186.3 M757.5 2180 L756.7 2183.9 M754.7 2169 L754.2 2173.9 L753.4 2178.9 L755.2 2187.4 M754.2 2173.4 L749.3 2180.8 L744 2184.5 M749.3 2180.8 L748.8 2180.4 M754.7 2169 L744 2175.1 L738.9 2179.8 M744 2175.1 L740.3 2175.3 M754.7 2169 L745.9 2170.5 L736.3 2175.1 M754.7 2169 L750.1 2169.6 L741.2 2167.5 L739.6 2167.6 M741.2 2167.5 L736 2164.1 M754.7 2169 L745.7 2162 L738.9 2158 M745.7 2162 L744 2158.3 M754.7 2169 L750.3 2161 L742.9 2154.5 M750.3 2161 L749.7 2159.7" fill="none" stroke="#231f20" stroke-width="2.2" stroke-linejoin="round"/>
<path d="M857.8 2147.2 L859.7 2148.5 L862.3 2147.6 L863.8 2148.3 L864.8 2149.9 L866.2 2148.2 L867.1 2149.4 L868 2148.6 L869.8 2148.1 L871.4 2149.7 L873 2149.6 L874.6 2149.7 L876.2 2152 L877.6 2154.5 L880.1 2154.8 L881.4 2156.4 L882.5 2158.9 L883.8 2161.1 L883.4 2162.1 L883.3 2163.9 L884.7 2165.2 L884.7 2166.5 L884.1 2167.9 L885.8 2169.3 L885.8 2171.4 L884.7 2172.5 L885 2174.5 L884.1 2176.6 L883.1 2178.5 L881.5 2180 L880.4 2182.9 L881.2 2184.5 L878.7 2185.7 L875.6 2186.4 L874 2187.6 L871.8 2189.4 L868.6 2189.8 L866.4 2190.9 L862.9 2190.3 L860.4 2190.5 L858.8 2191.4 L856.9 2189.4 L853.8 2187.9 L851.6 2185.4 L849.4 2184 L847.5 2181.9 L847.8 2179.4 L846.2 2177.4 L843.7 2176.1 L843.2 2173.7 L843.5 2171.8 L842.6 2169.9 L844 2168.1 L843.2 2165.8 L842.1 2163.9 L843.2 2162.8 L843.8 2161.1 L845.3 2160.2 L845.3 2158.1 L847.3 2157.3 L848.2 2156.2 L848.6 2155.3 L849.8 2153.1 L851.4 2152.7 L852.8 2150.9 L853.8 2149.3 L856 2149.1 L857.4 2147.5 Z M863.4 2169 L861.3 2164.8 L860.7 2156.1 L862.6 2150.5 M860.7 2156.5 L860.4 2155.2 M863.4 2169 L867.7 2159.1 L869.6 2151.4 M863.4 2169 L866.9 2165.8 L870 2162.2 L874.4 2153.8 M866.9 2165.8 L875.3 2162.5 L881.6 2162.2 M863.4 2169 L875.3 2169.6 L882.9 2169 M874.9 2169.8 L878.9 2171.8 M863.4 2169 L868.1 2171.3 L872.6 2172.9 L882.1 2174.1 M868.1 2171.3 L873.4 2178.1 L875.8 2183.4 M863.4 2169 L866.2 2180 L869.5 2186.3 M866.2 2180 L865.4 2183.9 M863.4 2169 L862.9 2173.9 L862.1 2178.9 L863.9 2187.4 M862.9 2173.4 L858 2180.8 L852.7 2184.5 M858 2180.8 L857.5 2180.4 M863.4 2169 L852.7 2175.1 L847.6 2179.8 M852.7 2175.1 L849 2175.3 M863.4 2169 L854.6 2170.5 L845 2175.1 M863.4 2169 L858.8 2169.6 L849.9 2167.5 L848.3 2167.6 M849.9 2167.5 L844.7 2164.1 M863.4 2169 L854.4 2162 L847.6 2158 M854.4 2162 L852.7 2158.3 M863.4 2169 L859 2161 L851.6 2154.5 M859 2161 L858.4 2159.7" fill="none" stroke="#231f20" stroke-width="2.2" stroke-linejoin="round"/>
<path d="M967.7 2147.2 L969.6 2148.5 L972.2 2147.6 L973.7 2148.3 L974.7 2149.9 L976.1 2148.2 L977 2149.4 L977.9 2148.6 L979.7 2148.1 L981.3 2149.7 L982.9 2149.6 L984.5 2149.7 L986.1 2152 L987.5 2154.5 L990 2154.8 L991.3 2156.4 L992.4 2158.9 L993.7 2161.1 L993.3 2162.1 L993.2 2163.9 L994.6 2165.2 L994.6 2166.5 L994 2167.9 L995.7 2169.3 L995.7 2171.4 L994.6 2172.5 L994.9 2174.5 L994 2176.6 L993 2178.5 L991.4 2180 L990.3 2182.9 L991.1 2184.5 L988.6 2185.7 L985.5 2186.4 L983.9 2187.6 L981.7 2189.4 L978.5 2189.8 L976.3 2190.9 L972.8 2190.3 L970.3 2190.5 L968.7 2191.4 L966.8 2189.4 L963.7 2187.9 L961.5 2185.4 L959.3 2184 L957.4 2181.9 L957.7 2179.4 L956.1 2177.4 L953.6 2176.1 L953.1 2173.7 L953.4 2171.8 L952.5 2169.9 L953.9 2168.1 L953.1 2165.8 L952 2163.9 L953.1 2162.8 L953.7 2161.1 L955.2 2160.2 L955.2 2158.1 L957.2 2157.3 L958.1 2156.2 L958.5 2155.3 L959.7 2153.1 L961.3 2152.7 L962.7 2150.9 L963.7 2149.3 L965.9 2149.1 L967.3 2147.5 Z M973.3 2169 L971.2 2164.8 L970.6 2156.1 L972.5 2150.5 M970.6 2156.5 L970.3 2155.2 M973.3 2169 L977.6 2159.1 L979.5 2151.4 M973.3 2169 L976.8 2165.8 L979.9 2162.2 L984.3 2153.8 M976.8 2165.8 L985.2 2162.5 L991.5 2162.2 M973.3 2169 L985.2 2169.6 L992.8 2169 M984.8 2169.8 L988.8 2171.8 M973.3 2169 L978 2171.3 L982.5 2172.9 L992 2174.1 M978 2171.3 L983.3 2178.1 L985.7 2183.4 M973.3 2169 L976.1 2180 L979.4 2186.3 M976.1 2180 L975.3 2183.9 M973.3 2169 L972.8 2173.9 L972 2178.9 L973.8 2187.4 M972.8 2173.4 L967.9 2180.8 L962.6 2184.5 M967.9 2180.8 L967.4 2180.4 M973.3 2169 L962.6 2175.1 L957.5 2179.8 M962.6 2175.1 L958.9 2175.3 M973.3 2169 L964.5 2170.5 L954.9 2175.1 M973.3 2169 L968.7 2169.6 L959.8 2167.5 L958.2 2167.6 M959.8 2167.5 L954.6 2164.1 M973.3 2169 L964.3 2162 L957.5 2158 M964.3 2162 L962.6 2158.3 M973.3 2169 L968.9 2161 L961.5 2154.5 M968.9 2161 L968.3 2159.7" fill="none" stroke="#231f20" stroke-width="2.2" stroke-linejoin="round"/>
<g opacity="0.999">
<text x="897.2" y="243.5" font-size="42.5" textLength="54.3" lengthAdjust="spacingAndGlyphs">FP</text>
<text x="815.5" y="394.5" font-size="50.5" textLength="232.5" lengthAdjust="spacingAndGlyphs">Bedroom /</text>
<text x="848.5" y="444.5" font-size="50.5" textLength="166.7" lengthAdjust="spacingAndGlyphs">Lounge</text>
<text x="837.6" y="493.5" font-size="50.5" textLength="189.9" lengthAdjust="spacingAndGlyphs">4.3 x 4.2</text>
<text x="494.7" y="637.3" font-size="42.5" textLength="67.5" lengthAdjust="spacingAndGlyphs">BIR</text>
<text x="422.2" y="891.3" font-size="50.5" textLength="201.8" lengthAdjust="spacingAndGlyphs">Bedroom</text>
<text x="427" y="941.3" font-size="50.5" textLength="192" lengthAdjust="spacingAndGlyphs">3.4 x 3.8</text>
<text x="854.9" y="885" font-size="50.5" textLength="111.9" lengthAdjust="spacingAndGlyphs">Entry</text>
<text x="848.5" y="1108.2" font-size="50.5" textLength="130" lengthAdjust="spacingAndGlyphs">Porch</text>
<text x="1207.6" y="1037.3" font-size="50.5" textLength="104.7" lengthAdjust="spacingAndGlyphs">Bath</text>
<text x="1327.9" y="940.3" font-size="42.5" textLength="30.7" lengthAdjust="spacingAndGlyphs">C</text>
<text transform="translate(1431.2 1044.7) rotate(-90)" font-size="42.5" textLength="64.8" lengthAdjust="spacingAndGlyphs">BIR</text>
<text x="1582.9" y="908" font-size="50.5" textLength="202.4" lengthAdjust="spacingAndGlyphs">Bedroom</text>
<text x="1588.4" y="957.2" font-size="50.5" textLength="189.3" lengthAdjust="spacingAndGlyphs">3.1 x 3.7</text>
<text x="1461.1" y="385.7" font-size="50.5" textLength="126.9" lengthAdjust="spacingAndGlyphs">Living</text>
<text x="1429.5" y="436" font-size="50.5" textLength="186.6" lengthAdjust="spacingAndGlyphs">4.0 x 4.1</text>
<text x="1858.5" y="381.3" font-size="42.5" textLength="26" lengthAdjust="spacingAndGlyphs">F</text>
<text x="2042.8" y="474.9" font-size="42.5" textLength="56.9" lengthAdjust="spacingAndGlyphs">OV</text>
<text x="1981.2" y="597.3" font-size="50.5" textLength="163.4" lengthAdjust="spacingAndGlyphs">Kitchen</text>
<text x="2512.9" y="491.3" font-size="50.5" textLength="127.8" lengthAdjust="spacingAndGlyphs">Living</text>
<text x="2480.4" y="707.9" font-size="50.5" textLength="193" lengthAdjust="spacingAndGlyphs">5.8 x 3.8</text>
<text x="2511.5" y="926.9" font-size="50.5" textLength="129.8" lengthAdjust="spacingAndGlyphs">Meals</text>
<text x="2035.6" y="977.2" font-size="50.5" textLength="106.2" lengthAdjust="spacingAndGlyphs">L&#8217;dry</text>
<text x="1934.4" y="1048.3" font-size="42.5" textLength="30.7" lengthAdjust="spacingAndGlyphs">C</text>
<text x="2086" y="1106.3" font-size="42.5" textLength="73.5" lengthAdjust="spacingAndGlyphs">WM</text>
<text x="2552.3" y="1108.8" font-size="42.5" textLength="70.2" lengthAdjust="spacingAndGlyphs">A/C</text>
<text x="2642.8" y="1377.2" font-size="50.5" textLength="165.8" lengthAdjust="spacingAndGlyphs">Carport</text>
<text x="2962.2" y="944.2" font-size="34" textLength="43.2" lengthAdjust="spacingAndGlyphs">Up</text>
<text x="1269.9" y="1892" font-size="50.5" textLength="228.7" lengthAdjust="spacingAndGlyphs">Residence</text>
<text x="1005.7" y="2126.2" font-size="41.5" textLength="107.4" lengthAdjust="spacingAndGlyphs">Porch</text>
<text x="1905.4" y="2265.2" font-size="50.5" textLength="164.8" lengthAdjust="spacingAndGlyphs">Carport</text>
<text x="2110.4" y="2043.3" font-size="34" textLength="43.6" lengthAdjust="spacingAndGlyphs">Up</text>
<text x="3351.8" y="2185.7" font-size="47" textLength="41.8" lengthAdjust="spacingAndGlyphs">W</text>
<text x="3462.1" y="2266.7" font-size="47" textLength="33.7" lengthAdjust="spacingAndGlyphs">N</text>
<text x="3285.4" y="2289.6" font-size="47" textLength="30.3" lengthAdjust="spacingAndGlyphs">S</text>
<text x="3380.6" y="2366.5" font-size="47" textLength="27.9" lengthAdjust="spacingAndGlyphs">E</text>
</g>
</svg>
</body></html>
